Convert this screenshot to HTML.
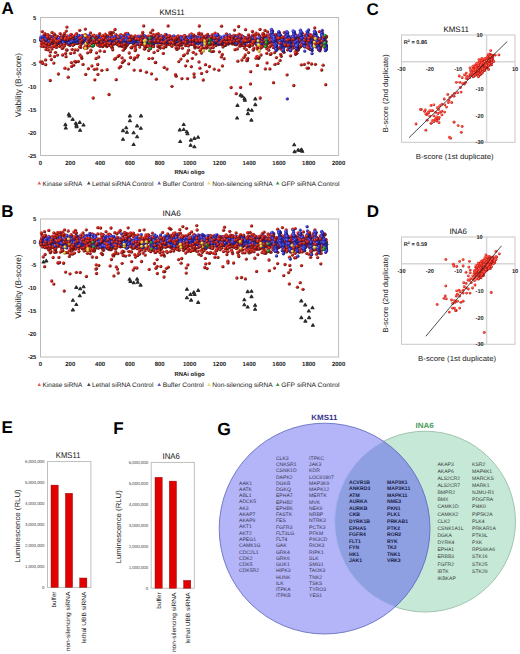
<!DOCTYPE html>
<html><head><meta charset="utf-8"><style>
html,body{margin:0;padding:0;background:#fff;width:520px;height:654px;overflow:hidden}
svg{display:block}
</style></head><body>
<svg width="520" height="654" viewBox="0 0 520 654" text-rendering="geometricPrecision" style="font-family:'Liberation Sans',sans-serif">
<defs>
<radialGradient id="gR" cx="0.4" cy="0.38" r="0.68"><stop offset="0" stop-color="#f45040"/><stop offset="0.4" stop-color="#d82018"/><stop offset="0.78" stop-color="#7c1010"/><stop offset="1" stop-color="#2a0606"/></radialGradient>
<radialGradient id="gB" cx="0.4" cy="0.38" r="0.68"><stop offset="0" stop-color="#6a6af0"/><stop offset="0.4" stop-color="#3030c0"/><stop offset="0.78" stop-color="#1a1a70"/><stop offset="1" stop-color="#0a0a28"/></radialGradient>
<radialGradient id="gY" cx="0.4" cy="0.38" r="0.68"><stop offset="0" stop-color="#ffffa0"/><stop offset="0.4" stop-color="#f2d830"/><stop offset="0.78" stop-color="#a89010"/><stop offset="1" stop-color="#504008"/></radialGradient>
<radialGradient id="gG" cx="0.4" cy="0.38" r="0.68"><stop offset="0" stop-color="#70d070"/><stop offset="0.4" stop-color="#22922e"/><stop offset="0.78" stop-color="#106020"/><stop offset="1" stop-color="#082808"/></radialGradient>
<radialGradient id="gr" cx="0.4" cy="0.38" r="0.68"><stop offset="0" stop-color="#ff8070"/><stop offset="0.4" stop-color="#ff3a28"/><stop offset="0.78" stop-color="#c41c1c"/><stop offset="1" stop-color="#601010"/></radialGradient>
<radialGradient id="sR" cx="0.32" cy="0.3" r="0.85" fx="0.3" fy="0.28"><stop offset="0" stop-color="#f05848"/><stop offset="0.35" stop-color="#cc2218"/><stop offset="0.75" stop-color="#6a1010"/><stop offset="1" stop-color="#240404"/></radialGradient>
<radialGradient id="sB" cx="0.32" cy="0.3" r="0.85" fx="0.3" fy="0.28"><stop offset="0" stop-color="#7a7aff"/><stop offset="0.35" stop-color="#3838d0"/><stop offset="0.75" stop-color="#1c1c78"/><stop offset="1" stop-color="#0a0a28"/></radialGradient>
<radialGradient id="sY" cx="0.32" cy="0.3" r="0.85" fx="0.3" fy="0.28"><stop offset="0" stop-color="#fff8a0"/><stop offset="0.35" stop-color="#f0cc30"/><stop offset="0.75" stop-color="#a08010"/><stop offset="1" stop-color="#403008"/></radialGradient>
<radialGradient id="sG" cx="0.32" cy="0.3" r="0.85" fx="0.3" fy="0.28"><stop offset="0" stop-color="#70d070"/><stop offset="0.35" stop-color="#24962e"/><stop offset="0.75" stop-color="#0e5a1c"/><stop offset="1" stop-color="#062808"/></radialGradient>
<circle id="R" r="1.65" fill="url(#sR)"/>
<circle id="B" r="1.65" fill="url(#sB)"/>
<circle id="Y" r="1.65" fill="url(#sY)"/>
<circle id="G" r="1.65" fill="url(#sG)"/>
<path id="T" d="M0 -1.4L1.5 1.1L-1.5 1.1Z" fill="#1c1c1c" stroke="#2c2c2c" stroke-width="1.1" stroke-linejoin="round"/>
<circle id="r" r="1.4" fill="url(#gr)"/>
</defs>
<text x="1.5" y="14" font-size="17" text-anchor="start" font-weight="bold" fill="#000">A</text>
<text x="1.2" y="217" font-size="17" text-anchor="start" font-weight="bold" fill="#000">B</text>
<text x="366.5" y="14.6" font-size="17" text-anchor="start" font-weight="bold" fill="#000">C</text>
<text x="366.8" y="217" font-size="17" text-anchor="start" font-weight="bold" fill="#000">D</text>
<text x="1.5" y="432.7" font-size="17" text-anchor="start" font-weight="bold" fill="#000">E</text>
<text x="113.2" y="434" font-size="17" text-anchor="start" font-weight="bold" fill="#000">F</text>
<text x="217.3" y="434.8" font-size="17.6" text-anchor="start" font-weight="bold" fill="#000">G</text>
<rect x="40.5" y="17.5" width="298.1" height="138" fill="#fff" stroke="#bcbcbc" stroke-width="1"/>
<text x="172" y="14.6" font-size="7.9" text-anchor="middle" font-weight="normal" fill="#111" textLength="25.1" lengthAdjust="spacingAndGlyphs">KMS11</text>
<text x="36.4" y="19.7" font-size="5.9" text-anchor="end" font-weight="bold" fill="#222">5</text>
<text x="36.4" y="42.7" font-size="5.9" text-anchor="end" font-weight="bold" fill="#222">0</text>
<text x="36.4" y="65.7" font-size="5.9" text-anchor="end" font-weight="bold" fill="#222">-5</text>
<text x="36.4" y="88.7" font-size="5.9" text-anchor="end" font-weight="bold" fill="#222">-10</text>
<text x="36.4" y="111.7" font-size="5.9" text-anchor="end" font-weight="bold" fill="#222">-15</text>
<text x="36.4" y="134.7" font-size="5.9" text-anchor="end" font-weight="bold" fill="#222">-20</text>
<text x="36.4" y="157.7" font-size="5.9" text-anchor="end" font-weight="bold" fill="#222">-25</text>
<text x="40.5" y="164.9" font-size="6.0" text-anchor="middle" font-weight="bold" fill="#222">0</text>
<text x="70.3" y="164.9" font-size="6.0" text-anchor="middle" font-weight="bold" fill="#222">200</text>
<text x="100.1" y="164.9" font-size="6.0" text-anchor="middle" font-weight="bold" fill="#222">400</text>
<text x="129.9" y="164.9" font-size="6.0" text-anchor="middle" font-weight="bold" fill="#222">600</text>
<text x="159.7" y="164.9" font-size="6.0" text-anchor="middle" font-weight="bold" fill="#222">800</text>
<text x="189.6" y="164.9" font-size="6.0" text-anchor="middle" font-weight="bold" fill="#222">1000</text>
<text x="219.4" y="164.9" font-size="6.0" text-anchor="middle" font-weight="bold" fill="#222">1200</text>
<text x="249.2" y="164.9" font-size="6.0" text-anchor="middle" font-weight="bold" fill="#222">1400</text>
<text x="279" y="164.9" font-size="6.0" text-anchor="middle" font-weight="bold" fill="#222">1600</text>
<text x="308.8" y="164.9" font-size="6.0" text-anchor="middle" font-weight="bold" fill="#222">1800</text>
<text x="338.6" y="164.9" font-size="6.0" text-anchor="middle" font-weight="bold" fill="#222">2000</text>
<text x="189.6" y="174" font-size="5.9" text-anchor="middle" font-weight="bold" fill="#222" textLength="30" lengthAdjust="spacingAndGlyphs">RNAi oligo</text>
<text transform="translate(20.6,85.1) rotate(-90)" font-size="8.2" text-anchor="middle" font-weight="normal" fill="#222" textLength="64.2" lengthAdjust="spacingAndGlyphs">Viability (B-score)</text>
<path d="M39.2 181.3l1.8 3.1h-3.6z" fill="#e86050"/>
<text x="42.6" y="185.9" font-size="6.4" text-anchor="start" font-weight="normal" fill="#222" textLength="39.7" lengthAdjust="spacingAndGlyphs">Kinase siRNA</text>
<path d="M88.8 181.3l1.8 3.1h-3.6z" fill="#484848"/>
<text x="92" y="185.9" font-size="6.4" text-anchor="start" font-weight="normal" fill="#222" textLength="61.4" lengthAdjust="spacingAndGlyphs">Lethal siRNA Control</text>
<path d="M159.2 181.3l1.8 3.1h-3.6z" fill="#5a5ab8"/>
<text x="162.7" y="185.9" font-size="6.4" text-anchor="start" font-weight="normal" fill="#222" textLength="41.1" lengthAdjust="spacingAndGlyphs">Buffer Control</text>
<path d="M208.8 181.3l1.8 3.1h-3.6z" fill="#f0e070"/>
<text x="212.3" y="185.9" font-size="6.4" text-anchor="start" font-weight="normal" fill="#222" textLength="60.3" lengthAdjust="spacingAndGlyphs">Non-silencing siRNA</text>
<path d="M277.7 181.3l1.8 3.1h-3.6z" fill="#3a9a4a"/>
<text x="281.2" y="185.9" font-size="6.4" text-anchor="start" font-weight="normal" fill="#222" textLength="58.3" lengthAdjust="spacingAndGlyphs">GFP siRNA Control</text>
<use href="#R" x="74.2" y="41.7"/>
<use href="#R" x="218.5" y="40.7"/>
<use href="#R" x="187.4" y="60.9"/>
<use href="#R" x="304.8" y="44.1"/>
<use href="#R" x="238.4" y="42"/>
<use href="#R" x="180.9" y="45.1"/>
<use href="#R" x="84" y="40.8"/>
<use href="#R" x="122.6" y="39"/>
<use href="#R" x="313.8" y="43.8"/>
<use href="#R" x="315.3" y="43"/>
<use href="#R" x="212.1" y="34.7"/>
<use href="#R" x="185.6" y="65.8"/>
<use href="#R" x="175.6" y="41.3"/>
<use href="#R" x="167.5" y="43.2"/>
<use href="#R" x="204.3" y="39.2"/>
<use href="#R" x="209.2" y="40.6"/>
<use href="#R" x="131.1" y="41.2"/>
<use href="#R" x="120.8" y="44.5"/>
<use href="#R" x="111.9" y="44"/>
<use href="#R" x="59.6" y="46.4"/>
<use href="#R" x="47" y="48.9"/>
<use href="#R" x="153.1" y="34.3"/>
<use href="#R" x="222.8" y="41.2"/>
<use href="#R" x="120.1" y="41.3"/>
<use href="#R" x="252.2" y="39.8"/>
<use href="#R" x="159.1" y="38.5"/>
<use href="#R" x="68.1" y="44.3"/>
<use href="#R" x="128.4" y="39.3"/>
<use href="#R" x="295.1" y="47.8"/>
<use href="#R" x="148.4" y="44.4"/>
<use href="#R" x="235.2" y="42.2"/>
<use href="#R" x="303.6" y="41.2"/>
<use href="#R" x="129.7" y="38.7"/>
<use href="#R" x="215" y="33.2"/>
<use href="#R" x="271.3" y="39.9"/>
<use href="#R" x="308.9" y="42.4"/>
<use href="#R" x="233.3" y="36.7"/>
<use href="#R" x="266.9" y="48.7"/>
<use href="#R" x="49.6" y="41"/>
<use href="#R" x="132.8" y="37.3"/>
<use href="#R" x="311.5" y="64"/>
<use href="#R" x="64.9" y="68.2"/>
<use href="#R" x="212.5" y="38.2"/>
<use href="#R" x="263" y="43"/>
<use href="#R" x="152.2" y="39.4"/>
<use href="#R" x="258.9" y="58"/>
<use href="#R" x="278" y="37.9"/>
<use href="#R" x="216.2" y="41.6"/>
<use href="#R" x="80" y="55"/>
<use href="#R" x="56.6" y="44.9"/>
<use href="#R" x="142.3" y="34.9"/>
<use href="#R" x="290.6" y="55.8"/>
<use href="#R" x="172" y="37.6"/>
<use href="#R" x="112.5" y="42.1"/>
<use href="#R" x="275.5" y="41"/>
<use href="#R" x="166.8" y="41.4"/>
<use href="#R" x="78.9" y="41"/>
<use href="#R" x="104.4" y="51.4"/>
<use href="#R" x="117.3" y="36.9"/>
<use href="#R" x="285.1" y="43.5"/>
<use href="#R" x="175.7" y="38.1"/>
<use href="#R" x="108.3" y="40.9"/>
<use href="#R" x="145.4" y="37.1"/>
<use href="#R" x="47.6" y="34.6"/>
<use href="#R" x="242" y="39.2"/>
<use href="#R" x="235.9" y="37.9"/>
<use href="#R" x="85.2" y="43.4"/>
<use href="#R" x="233.6" y="35.3"/>
<use href="#R" x="233.2" y="36.9"/>
<use href="#R" x="88.4" y="37.8"/>
<use href="#R" x="53" y="44"/>
<use href="#R" x="91" y="39.2"/>
<use href="#R" x="83.1" y="36.1"/>
<use href="#R" x="180.2" y="39.7"/>
<use href="#R" x="124.4" y="41.6"/>
<use href="#R" x="182" y="44.5"/>
<use href="#R" x="72.3" y="36.5"/>
<use href="#R" x="93.9" y="39.4"/>
<use href="#R" x="132.6" y="38.5"/>
<use href="#R" x="127" y="45.2"/>
<use href="#R" x="200" y="50.6"/>
<use href="#R" x="316.9" y="39.8"/>
<use href="#R" x="267.6" y="31.8"/>
<use href="#R" x="235" y="49.7"/>
<use href="#R" x="277.3" y="42.9"/>
<use href="#R" x="70.1" y="37.7"/>
<use href="#R" x="51.3" y="59.5"/>
<use href="#R" x="265.9" y="39.1"/>
<use href="#R" x="281.5" y="41.3"/>
<use href="#R" x="101.4" y="40.6"/>
<use href="#R" x="134.1" y="40.3"/>
<use href="#R" x="297.3" y="42.2"/>
<use href="#R" x="161.2" y="44.9"/>
<use href="#R" x="51.1" y="43.7"/>
<use href="#R" x="79.7" y="30.3"/>
<use href="#R" x="176.1" y="76.2"/>
<use href="#R" x="225" y="42.5"/>
<use href="#R" x="291" y="40.3"/>
<use href="#R" x="215.9" y="45.6"/>
<use href="#R" x="255.6" y="42.2"/>
<use href="#R" x="292" y="37.8"/>
<use href="#R" x="293.1" y="42.7"/>
<use href="#R" x="169.1" y="43"/>
<use href="#R" x="299.4" y="46.5"/>
<use href="#R" x="179.2" y="41.3"/>
<use href="#R" x="317.6" y="40.4"/>
<use href="#R" x="68" y="36.7"/>
<use href="#R" x="84.9" y="46.9"/>
<use href="#R" x="201.3" y="39.4"/>
<use href="#R" x="184.3" y="35.3"/>
<use href="#R" x="213.1" y="38.5"/>
<use href="#R" x="58.9" y="38.2"/>
<use href="#R" x="86.4" y="39.9"/>
<use href="#R" x="45.6" y="59.9"/>
<use href="#R" x="112.9" y="43"/>
<use href="#R" x="255.6" y="41.1"/>
<use href="#R" x="87.9" y="39.1"/>
<use href="#R" x="205.9" y="35.9"/>
<use href="#R" x="46.4" y="44.4"/>
<use href="#R" x="154.8" y="36.6"/>
<use href="#R" x="46" y="49.4"/>
<use href="#R" x="135.9" y="39.4"/>
<use href="#R" x="305.4" y="39.5"/>
<use href="#R" x="179.3" y="45"/>
<use href="#R" x="236.3" y="42.1"/>
<use href="#R" x="124.8" y="48.6"/>
<use href="#R" x="224.3" y="40.2"/>
<use href="#R" x="283.3" y="42.4"/>
<use href="#R" x="173.7" y="40.2"/>
<use href="#R" x="163" y="36.6"/>
<use href="#R" x="116.2" y="39.9"/>
<use href="#R" x="205.8" y="43.1"/>
<use href="#R" x="212.3" y="44.4"/>
<use href="#R" x="318.3" y="38.6"/>
<use href="#R" x="198" y="47.2"/>
<use href="#R" x="287.5" y="35.6"/>
<use href="#R" x="259.3" y="44.9"/>
<use href="#R" x="324.7" y="42"/>
<use href="#R" x="190" y="37.4"/>
<use href="#R" x="189" y="44.1"/>
<use href="#R" x="174.8" y="44.5"/>
<use href="#R" x="199.9" y="68.2"/>
<use href="#R" x="91.1" y="38.7"/>
<use href="#R" x="109" y="94.5"/>
<use href="#R" x="111.5" y="34.8"/>
<use href="#R" x="85.9" y="41.8"/>
<use href="#R" x="171" y="40.4"/>
<use href="#R" x="275" y="37.6"/>
<use href="#R" x="53.5" y="46.4"/>
<use href="#R" x="206.2" y="48"/>
<use href="#R" x="271.3" y="43.8"/>
<use href="#R" x="217.4" y="43.5"/>
<use href="#R" x="160.5" y="40.2"/>
<use href="#R" x="318.8" y="39.3"/>
<use href="#R" x="258" y="40.1"/>
<use href="#R" x="236.6" y="38.2"/>
<use href="#R" x="96.4" y="42.1"/>
<use href="#R" x="53.1" y="39.3"/>
<use href="#R" x="285.5" y="36.8"/>
<use href="#R" x="295.6" y="54.3"/>
<use href="#R" x="174" y="40.4"/>
<use href="#R" x="112.3" y="37.8"/>
<use href="#R" x="128.9" y="43.2"/>
<use href="#R" x="290.9" y="36.8"/>
<use href="#R" x="321.1" y="38.9"/>
<use href="#R" x="289.5" y="45"/>
<use href="#R" x="133.5" y="41.1"/>
<use href="#R" x="185.1" y="37.9"/>
<use href="#R" x="317.3" y="43.3"/>
<use href="#R" x="245.5" y="29.7"/>
<use href="#R" x="115.9" y="34.6"/>
<use href="#R" x="62.5" y="44.2"/>
<use href="#R" x="126.4" y="39.9"/>
<use href="#R" x="232.6" y="43.9"/>
<use href="#R" x="289.8" y="38.6"/>
<use href="#R" x="48.3" y="49.9"/>
<use href="#R" x="270.7" y="38.2"/>
<use href="#R" x="44.7" y="42.1"/>
<use href="#R" x="84.2" y="41.9"/>
<use href="#R" x="272.3" y="41.1"/>
<use href="#R" x="90.4" y="40.1"/>
<use href="#R" x="128.3" y="41"/>
<use href="#R" x="197.2" y="40.7"/>
<use href="#R" x="85" y="38.7"/>
<use href="#R" x="78" y="43.3"/>
<use href="#R" x="92.7" y="44.5"/>
<use href="#R" x="105.7" y="36.6"/>
<use href="#R" x="141.1" y="43.3"/>
<use href="#R" x="111.2" y="44.1"/>
<use href="#R" x="160.8" y="37.3"/>
<use href="#R" x="57.5" y="36.5"/>
<use href="#R" x="217.6" y="34.2"/>
<use href="#R" x="314" y="42.4"/>
<use href="#R" x="239.6" y="46.2"/>
<use href="#R" x="62.6" y="55"/>
<use href="#R" x="139.8" y="44.9"/>
<use href="#R" x="227.2" y="42.9"/>
<use href="#R" x="261.4" y="40.3"/>
<use href="#R" x="311.5" y="43.4"/>
<use href="#R" x="322.5" y="41.2"/>
<use href="#R" x="284.2" y="40.1"/>
<use href="#R" x="110.8" y="39.5"/>
<use href="#R" x="57.5" y="55.1"/>
<use href="#R" x="321.4" y="40.4"/>
<use href="#R" x="232.1" y="38.9"/>
<use href="#R" x="296.3" y="50.2"/>
<use href="#R" x="314.3" y="45.5"/>
<use href="#R" x="52" y="32.4"/>
<use href="#R" x="301.5" y="36.1"/>
<use href="#R" x="196" y="41.1"/>
<use href="#R" x="142.9" y="39.7"/>
<use href="#R" x="62" y="37"/>
<use href="#R" x="139.8" y="44.6"/>
<use href="#R" x="273" y="38.1"/>
<use href="#R" x="240.3" y="42.9"/>
<use href="#R" x="76.5" y="33.7"/>
<use href="#R" x="231.9" y="37.9"/>
<use href="#R" x="206.9" y="44"/>
<use href="#R" x="41.5" y="43.5"/>
<use href="#R" x="92.4" y="42.2"/>
<use href="#R" x="325.7" y="84.7"/>
<use href="#R" x="275.7" y="45.6"/>
<use href="#R" x="68.2" y="69.1"/>
<use href="#R" x="310.6" y="39.6"/>
<use href="#R" x="110.1" y="34.1"/>
<use href="#R" x="295.7" y="42.4"/>
<use href="#R" x="301.7" y="40.6"/>
<use href="#R" x="176.2" y="40.3"/>
<use href="#R" x="210.6" y="43.1"/>
<use href="#R" x="194.2" y="77"/>
<use href="#R" x="99.2" y="43.4"/>
<use href="#R" x="280.8" y="49.1"/>
<use href="#R" x="307.2" y="43.3"/>
<use href="#R" x="322.1" y="42"/>
<use href="#R" x="58.1" y="42.6"/>
<use href="#R" x="130.3" y="39.6"/>
<use href="#R" x="126.9" y="41.4"/>
<use href="#R" x="96.8" y="37.9"/>
<use href="#R" x="75.9" y="39.8"/>
<use href="#R" x="244.5" y="37.6"/>
<use href="#R" x="247.6" y="38.3"/>
<use href="#R" x="217.4" y="41.6"/>
<use href="#R" x="248.6" y="41.4"/>
<use href="#R" x="134.9" y="40.5"/>
<use href="#R" x="245.7" y="38.5"/>
<use href="#R" x="239" y="41.5"/>
<use href="#R" x="221.3" y="56.9"/>
<use href="#R" x="73.3" y="44.2"/>
<use href="#R" x="314.2" y="41.7"/>
<use href="#R" x="298.3" y="41"/>
<use href="#R" x="209.3" y="45.1"/>
<use href="#R" x="147.5" y="43.5"/>
<use href="#R" x="50.2" y="80.5"/>
<use href="#R" x="74" y="42.4"/>
<use href="#R" x="60.7" y="42.7"/>
<use href="#R" x="54.5" y="56.5"/>
<use href="#R" x="218.5" y="44.5"/>
<use href="#R" x="241.8" y="36.5"/>
<use href="#R" x="136.8" y="41"/>
<use href="#R" x="303.8" y="37.1"/>
<use href="#R" x="285.5" y="37.3"/>
<use href="#R" x="287.7" y="36.8"/>
<use href="#R" x="67.4" y="39"/>
<use href="#R" x="204.1" y="36.3"/>
<use href="#R" x="292" y="37.8"/>
<use href="#R" x="292.6" y="39.5"/>
<use href="#R" x="325.2" y="48.2"/>
<use href="#R" x="133.3" y="43.9"/>
<use href="#R" x="270.9" y="45.5"/>
<use href="#R" x="81.8" y="39.6"/>
<use href="#R" x="131.4" y="40.5"/>
<use href="#R" x="288.1" y="44.1"/>
<use href="#R" x="320.8" y="47.4"/>
<use href="#R" x="278" y="63.4"/>
<use href="#R" x="48" y="38.1"/>
<use href="#R" x="234.1" y="41.1"/>
<use href="#R" x="99.4" y="38.4"/>
<use href="#R" x="213.4" y="42.5"/>
<use href="#R" x="256.2" y="40.8"/>
<use href="#R" x="141.7" y="39.3"/>
<use href="#R" x="213.1" y="42.9"/>
<use href="#R" x="59.3" y="43.6"/>
<use href="#R" x="256.1" y="33.2"/>
<use href="#R" x="127.5" y="38.2"/>
<use href="#R" x="122.9" y="40.6"/>
<use href="#R" x="195.3" y="36.3"/>
<use href="#R" x="321.1" y="41.6"/>
<use href="#R" x="69.8" y="45.4"/>
<use href="#R" x="107.6" y="36.2"/>
<use href="#R" x="172.6" y="43.3"/>
<use href="#R" x="95.5" y="39.4"/>
<use href="#R" x="154.4" y="40.9"/>
<use href="#R" x="301.6" y="42.2"/>
<use href="#R" x="203.2" y="80"/>
<use href="#R" x="290.4" y="41.7"/>
<use href="#R" x="263.2" y="33.7"/>
<use href="#R" x="290.4" y="37.8"/>
<use href="#R" x="236.3" y="44.7"/>
<use href="#R" x="113.7" y="43.3"/>
<use href="#R" x="167.4" y="44.2"/>
<use href="#R" x="301.8" y="43.4"/>
<use href="#R" x="191.6" y="40.2"/>
<use href="#R" x="167" y="69.1"/>
<use href="#R" x="201.5" y="73.4"/>
<use href="#R" x="313" y="37"/>
<use href="#R" x="158.3" y="42.3"/>
<use href="#R" x="246.1" y="41"/>
<use href="#R" x="274" y="42.8"/>
<use href="#R" x="267.6" y="38.7"/>
<use href="#R" x="187.1" y="44.1"/>
<use href="#R" x="119.2" y="67.8"/>
<use href="#R" x="54.9" y="34.8"/>
<use href="#R" x="121.2" y="43.8"/>
<use href="#R" x="45.2" y="35.5"/>
<use href="#R" x="169.4" y="35.6"/>
<use href="#R" x="46.1" y="37.8"/>
<use href="#R" x="110.2" y="39.9"/>
<use href="#R" x="76.7" y="41.2"/>
<use href="#R" x="152" y="43.2"/>
<use href="#R" x="200.5" y="39"/>
<use href="#R" x="142.8" y="38.4"/>
<use href="#R" x="153.3" y="45.5"/>
<use href="#R" x="226.2" y="37.3"/>
<use href="#R" x="94.3" y="69.3"/>
<use href="#R" x="174" y="38.9"/>
<use href="#R" x="274" y="36"/>
<use href="#R" x="291.6" y="42.1"/>
<use href="#R" x="144.9" y="48.8"/>
<use href="#R" x="143.3" y="35.2"/>
<use href="#R" x="199.2" y="33.2"/>
<use href="#R" x="160.8" y="37.4"/>
<use href="#R" x="210.6" y="40.8"/>
<use href="#R" x="312.4" y="39.3"/>
<use href="#R" x="156.3" y="79.2"/>
<use href="#R" x="234.8" y="38.4"/>
<use href="#R" x="134.1" y="70.1"/>
<use href="#R" x="80.8" y="44.9"/>
<use href="#R" x="269.9" y="68.9"/>
<use href="#R" x="247.4" y="41.8"/>
<use href="#R" x="99.1" y="35.8"/>
<use href="#R" x="284.1" y="43.1"/>
<use href="#R" x="98.6" y="36.9"/>
<use href="#R" x="97.8" y="40.6"/>
<use href="#R" x="151.6" y="41.1"/>
<use href="#R" x="133.8" y="45.8"/>
<use href="#R" x="274.4" y="42.7"/>
<use href="#R" x="47.5" y="44.6"/>
<use href="#R" x="191.2" y="43.3"/>
<use href="#R" x="109.1" y="38.2"/>
<use href="#R" x="55.4" y="52.3"/>
<use href="#R" x="227.7" y="42.9"/>
<use href="#R" x="317.9" y="41.7"/>
<use href="#R" x="183.4" y="55.7"/>
<use href="#R" x="298" y="50.3"/>
<use href="#R" x="44.8" y="33.6"/>
<use href="#R" x="275.8" y="44.2"/>
<use href="#R" x="170.6" y="40.3"/>
<use href="#R" x="313.4" y="45.3"/>
<use href="#R" x="143.8" y="42.5"/>
<use href="#R" x="268.7" y="50.2"/>
<use href="#R" x="187.4" y="53"/>
<use href="#R" x="189.9" y="38.6"/>
<use href="#R" x="46.6" y="44.3"/>
<use href="#R" x="311" y="41.1"/>
<use href="#R" x="309.7" y="46.1"/>
<use href="#R" x="88.3" y="39"/>
<use href="#R" x="181.9" y="78.6"/>
<use href="#R" x="227.1" y="36.3"/>
<use href="#R" x="90.9" y="50.2"/>
<use href="#R" x="66.2" y="35.8"/>
<use href="#R" x="66" y="56.7"/>
<use href="#R" x="50" y="35.9"/>
<use href="#R" x="227.6" y="35.8"/>
<use href="#R" x="251" y="40.1"/>
<use href="#R" x="63.3" y="42.4"/>
<use href="#R" x="240.9" y="38"/>
<use href="#R" x="108.9" y="41.2"/>
<use href="#R" x="159" y="39.5"/>
<use href="#R" x="283.5" y="36.8"/>
<use href="#R" x="310.2" y="39.6"/>
<use href="#R" x="301.3" y="39.5"/>
<use href="#R" x="95.8" y="42"/>
<use href="#R" x="250.4" y="39.6"/>
<use href="#R" x="176.6" y="48.5"/>
<use href="#R" x="215.9" y="43.8"/>
<use href="#R" x="203.2" y="38.5"/>
<use href="#R" x="223.4" y="42.3"/>
<use href="#R" x="82.2" y="35.5"/>
<use href="#R" x="153.1" y="36.6"/>
<use href="#R" x="194" y="74"/>
<use href="#R" x="41.2" y="46.1"/>
<use href="#R" x="256.9" y="56.4"/>
<use href="#R" x="112.2" y="47.8"/>
<use href="#R" x="48.7" y="37.9"/>
<use href="#R" x="139.3" y="41.8"/>
<use href="#R" x="171.1" y="40.6"/>
<use href="#R" x="249.9" y="45.2"/>
<use href="#R" x="224.5" y="39"/>
<use href="#R" x="126.1" y="45.7"/>
<use href="#R" x="308.9" y="39.2"/>
<use href="#R" x="40.7" y="39.7"/>
<use href="#R" x="274.8" y="41"/>
<use href="#R" x="110.7" y="45.2"/>
<use href="#R" x="120" y="35.7"/>
<use href="#R" x="143.8" y="44"/>
<use href="#R" x="252.1" y="38.1"/>
<use href="#R" x="179.7" y="40"/>
<use href="#R" x="131" y="35.9"/>
<use href="#R" x="216.5" y="38.5"/>
<use href="#R" x="318.1" y="40"/>
<use href="#R" x="147.2" y="42.4"/>
<use href="#R" x="127.7" y="34.6"/>
<use href="#R" x="310.4" y="44"/>
<use href="#R" x="297.4" y="39.7"/>
<use href="#R" x="122.4" y="40.2"/>
<use href="#R" x="269.1" y="42.5"/>
<use href="#R" x="79.8" y="39.1"/>
<use href="#R" x="62.2" y="48.4"/>
<use href="#R" x="259.6" y="39"/>
<use href="#R" x="59.4" y="43.5"/>
<use href="#R" x="302.7" y="38.5"/>
<use href="#R" x="284.7" y="40.1"/>
<use href="#R" x="316.4" y="38.2"/>
<use href="#R" x="106.1" y="37.3"/>
<use href="#R" x="107.1" y="69.7"/>
<use href="#R" x="295.7" y="34.9"/>
<use href="#R" x="298.2" y="42.6"/>
<use href="#R" x="195" y="47.9"/>
<use href="#R" x="86.6" y="39.7"/>
<use href="#R" x="247.3" y="59.1"/>
<use href="#R" x="139.6" y="39.6"/>
<use href="#R" x="278.3" y="38"/>
<use href="#R" x="163.2" y="38.3"/>
<use href="#R" x="204.4" y="40.5"/>
<use href="#R" x="257.4" y="46.9"/>
<use href="#R" x="266.5" y="37.7"/>
<use href="#R" x="52.7" y="42.1"/>
<use href="#R" x="320.7" y="40"/>
<use href="#R" x="282.1" y="40.2"/>
<use href="#R" x="145.7" y="39.9"/>
<use href="#R" x="51.8" y="42.1"/>
<use href="#R" x="176.9" y="41.6"/>
<use href="#R" x="311.7" y="42.7"/>
<use href="#R" x="72.1" y="44.4"/>
<use href="#R" x="93" y="43.5"/>
<use href="#R" x="322.4" y="37.7"/>
<use href="#R" x="264.1" y="43.1"/>
<use href="#R" x="250.4" y="37.5"/>
<use href="#R" x="254.7" y="39.8"/>
<use href="#R" x="138" y="55.3"/>
<use href="#R" x="146.6" y="36.6"/>
<use href="#R" x="306.7" y="38.8"/>
<use href="#R" x="243.3" y="39.6"/>
<use href="#R" x="283.4" y="44.4"/>
<use href="#R" x="166.4" y="41.7"/>
<use href="#R" x="305.6" y="40.4"/>
<use href="#R" x="160.3" y="48.1"/>
<use href="#R" x="40.8" y="38.6"/>
<use href="#R" x="229.3" y="38.2"/>
<use href="#R" x="265.3" y="37.7"/>
<use href="#R" x="94" y="43.3"/>
<use href="#R" x="272.1" y="40.9"/>
<use href="#R" x="273" y="44.4"/>
<use href="#R" x="271.7" y="40.4"/>
<use href="#R" x="77.9" y="39.9"/>
<use href="#R" x="135" y="36"/>
<use href="#R" x="269.5" y="46.9"/>
<use href="#R" x="197.8" y="37.4"/>
<use href="#R" x="269.6" y="39.3"/>
<use href="#R" x="261.3" y="39"/>
<use href="#R" x="258.7" y="57.6"/>
<use href="#R" x="305.8" y="44.2"/>
<use href="#R" x="215.4" y="41.8"/>
<use href="#R" x="287.6" y="42.3"/>
<use href="#R" x="65.6" y="53.4"/>
<use href="#R" x="265.5" y="39.7"/>
<use href="#R" x="297.4" y="43"/>
<use href="#R" x="197" y="38.5"/>
<use href="#R" x="235.1" y="44.5"/>
<use href="#R" x="125.1" y="36.4"/>
<use href="#R" x="103.8" y="37.2"/>
<use href="#R" x="238.6" y="26.5"/>
<use href="#R" x="204.8" y="40.6"/>
<use href="#R" x="182.9" y="39.5"/>
<use href="#R" x="116.4" y="43.5"/>
<use href="#R" x="121.8" y="46.4"/>
<use href="#R" x="68.7" y="44"/>
<use href="#R" x="170.1" y="42.7"/>
<use href="#R" x="288.1" y="36.4"/>
<use href="#R" x="67.4" y="36.1"/>
<use href="#R" x="146.4" y="72.2"/>
<use href="#R" x="158.2" y="33.7"/>
<use href="#R" x="211.2" y="38.5"/>
<use href="#R" x="206.2" y="42.7"/>
<use href="#R" x="259.5" y="35.9"/>
<use href="#R" x="220.6" y="43.7"/>
<use href="#R" x="62.2" y="42.6"/>
<use href="#R" x="189.5" y="41.1"/>
<use href="#R" x="245.9" y="45.3"/>
<use href="#R" x="260.2" y="98"/>
<use href="#R" x="116" y="43.7"/>
<use href="#R" x="86" y="41.9"/>
<use href="#R" x="87.9" y="38.4"/>
<use href="#R" x="306.3" y="40.1"/>
<use href="#R" x="148.9" y="58.6"/>
<use href="#R" x="124.9" y="38.3"/>
<use href="#R" x="217.7" y="38.3"/>
<use href="#R" x="276.4" y="57.6"/>
<use href="#R" x="221.9" y="38.3"/>
<use href="#R" x="241" y="42.4"/>
<use href="#R" x="183" y="42"/>
<use href="#R" x="222" y="38.4"/>
<use href="#R" x="319.4" y="42.2"/>
<use href="#R" x="268" y="41.4"/>
<use href="#R" x="201.7" y="34"/>
<use href="#R" x="157.7" y="50.6"/>
<use href="#R" x="184.5" y="40.1"/>
<use href="#R" x="53.8" y="63.1"/>
<use href="#R" x="139.7" y="47.1"/>
<use href="#R" x="135.1" y="47.7"/>
<use href="#R" x="234" y="37.9"/>
<use href="#R" x="189" y="41.8"/>
<use href="#R" x="50" y="55.7"/>
<use href="#R" x="88.8" y="37.1"/>
<use href="#R" x="241.9" y="40.3"/>
<use href="#R" x="108.2" y="43"/>
<use href="#R" x="156" y="37"/>
<use href="#R" x="192.9" y="42.4"/>
<use href="#R" x="268.1" y="43"/>
<use href="#R" x="210.6" y="42.8"/>
<use href="#R" x="289.2" y="40.6"/>
<use href="#R" x="278.1" y="38.8"/>
<use href="#R" x="251.2" y="43.8"/>
<use href="#R" x="279.6" y="37.7"/>
<use href="#R" x="179.5" y="40"/>
<use href="#R" x="49" y="46.4"/>
<use href="#R" x="43.6" y="39.2"/>
<use href="#R" x="69.5" y="37.6"/>
<use href="#R" x="154.5" y="41.4"/>
<use href="#R" x="243.4" y="37"/>
<use href="#R" x="114.2" y="43.9"/>
<use href="#R" x="266.3" y="37.9"/>
<use href="#R" x="119.5" y="40.9"/>
<use href="#R" x="198.4" y="41.5"/>
<use href="#R" x="279.2" y="38.2"/>
<use href="#R" x="122.3" y="62.6"/>
<use href="#R" x="225" y="40.3"/>
<use href="#R" x="68.1" y="41.2"/>
<use href="#R" x="233.7" y="38.4"/>
<use href="#R" x="83.6" y="36.5"/>
<use href="#R" x="74.4" y="40.1"/>
<use href="#R" x="281" y="38.3"/>
<use href="#R" x="159.6" y="35.9"/>
<use href="#R" x="149" y="40.2"/>
<use href="#R" x="81.1" y="39.6"/>
<use href="#R" x="98.5" y="37.9"/>
<use href="#R" x="294.5" y="42.4"/>
<use href="#R" x="268.4" y="40.5"/>
<use href="#R" x="321.7" y="70"/>
<use href="#R" x="194.5" y="40.2"/>
<use href="#R" x="149.7" y="39"/>
<use href="#R" x="83.5" y="38.2"/>
<use href="#R" x="284" y="52.3"/>
<use href="#R" x="302.4" y="40.4"/>
<use href="#R" x="95.4" y="39.4"/>
<use href="#R" x="169" y="41.2"/>
<use href="#R" x="115" y="29.5"/>
<use href="#R" x="271.4" y="37.9"/>
<use href="#R" x="246.3" y="39.3"/>
<use href="#R" x="185.5" y="45.6"/>
<use href="#R" x="303" y="40.4"/>
<use href="#R" x="244.3" y="48.1"/>
<use href="#R" x="141.1" y="37.8"/>
<use href="#R" x="104.2" y="41.8"/>
<use href="#R" x="285.6" y="36.8"/>
<use href="#R" x="87.2" y="45.3"/>
<use href="#R" x="275" y="38.5"/>
<use href="#R" x="56.7" y="40.4"/>
<use href="#R" x="287.2" y="44.6"/>
<use href="#R" x="305.5" y="40.4"/>
<use href="#R" x="185.7" y="43.8"/>
<use href="#R" x="223.5" y="40.1"/>
<use href="#R" x="100.6" y="44.1"/>
<use href="#R" x="125.3" y="35.6"/>
<use href="#R" x="86.8" y="38.2"/>
<use href="#R" x="254.4" y="40.1"/>
<use href="#R" x="97.7" y="64.5"/>
<use href="#R" x="60.1" y="37.9"/>
<use href="#R" x="325.2" y="45.3"/>
<use href="#R" x="102.1" y="45.9"/>
<use href="#R" x="91.6" y="38.2"/>
<use href="#R" x="63.9" y="41.7"/>
<use href="#R" x="246.9" y="38.7"/>
<use href="#R" x="169.5" y="40.7"/>
<use href="#R" x="120.3" y="41.4"/>
<use href="#R" x="84.7" y="41.7"/>
<use href="#R" x="284.6" y="38.3"/>
<use href="#R" x="79.5" y="39.3"/>
<use href="#R" x="323.1" y="42"/>
<use href="#R" x="93.4" y="41.5"/>
<use href="#R" x="324.1" y="37"/>
<use href="#R" x="323.6" y="45.2"/>
<use href="#R" x="310.2" y="36.9"/>
<use href="#R" x="249.8" y="39.5"/>
<use href="#R" x="121.9" y="45.3"/>
<use href="#R" x="286.1" y="41.9"/>
<use href="#R" x="73.6" y="65.2"/>
<use href="#R" x="70.5" y="38.6"/>
<use href="#R" x="176.9" y="49.4"/>
<use href="#R" x="285.9" y="40.4"/>
<use href="#R" x="99.6" y="33.6"/>
<use href="#R" x="318.9" y="41"/>
<use href="#R" x="269.4" y="38.8"/>
<use href="#R" x="171.5" y="37.1"/>
<use href="#R" x="271.8" y="31.8"/>
<use href="#R" x="183.7" y="41"/>
<use href="#R" x="260.7" y="48.1"/>
<use href="#R" x="304" y="45.9"/>
<use href="#R" x="165.5" y="34.8"/>
<use href="#R" x="183.8" y="39.4"/>
<use href="#R" x="210.3" y="39.5"/>
<use href="#R" x="188.8" y="42.5"/>
<use href="#R" x="58.4" y="74"/>
<use href="#R" x="182.3" y="41.3"/>
<use href="#R" x="181.6" y="36.9"/>
<use href="#R" x="315" y="36.2"/>
<use href="#R" x="310.7" y="43.2"/>
<use href="#R" x="78.3" y="42.3"/>
<use href="#R" x="66.5" y="42.3"/>
<use href="#R" x="115.4" y="58.4"/>
<use href="#R" x="261" y="55"/>
<use href="#R" x="45" y="45.8"/>
<use href="#R" x="53.2" y="37.9"/>
<use href="#R" x="109.1" y="39.3"/>
<use href="#R" x="234.7" y="42.9"/>
<use href="#R" x="226.4" y="33.8"/>
<use href="#R" x="125.9" y="43.5"/>
<use href="#R" x="153.5" y="46.5"/>
<use href="#R" x="323.1" y="65.2"/>
<use href="#R" x="236.7" y="35.7"/>
<use href="#R" x="240" y="42.5"/>
<use href="#R" x="294.8" y="39.5"/>
<use href="#R" x="256" y="58.2"/>
<use href="#R" x="184.1" y="41.5"/>
<use href="#R" x="120.7" y="34.6"/>
<use href="#R" x="106.9" y="40.1"/>
<use href="#R" x="225.6" y="41.7"/>
<use href="#R" x="288.6" y="43.4"/>
<use href="#R" x="212.8" y="45.6"/>
<use href="#R" x="194.9" y="41.3"/>
<use href="#R" x="216" y="37.2"/>
<use href="#R" x="271.8" y="36.2"/>
<use href="#R" x="319.8" y="43.2"/>
<use href="#R" x="83.3" y="38.7"/>
<use href="#R" x="250.4" y="37.7"/>
<use href="#R" x="323.9" y="36.7"/>
<use href="#R" x="136.6" y="43.7"/>
<use href="#R" x="69.2" y="37.6"/>
<use href="#R" x="77.4" y="41.7"/>
<use href="#R" x="208.6" y="41.8"/>
<use href="#R" x="143.1" y="39.9"/>
<use href="#R" x="273.5" y="82.7"/>
<use href="#R" x="274.2" y="40.4"/>
<use href="#R" x="193.2" y="52.3"/>
<use href="#R" x="300" y="39.3"/>
<use href="#R" x="162.8" y="41.3"/>
<use href="#R" x="181" y="39.8"/>
<use href="#R" x="170.2" y="43.4"/>
<use href="#R" x="272.4" y="31.2"/>
<use href="#R" x="66.9" y="39.5"/>
<use href="#R" x="90.5" y="51.8"/>
<use href="#R" x="220.9" y="44.2"/>
<use href="#R" x="299.3" y="38.3"/>
<use href="#R" x="266" y="35.2"/>
<use href="#R" x="164.4" y="43.2"/>
<use href="#R" x="195.3" y="43.7"/>
<use href="#R" x="230.8" y="38.8"/>
<use href="#R" x="43.8" y="43"/>
<use href="#R" x="98.7" y="36.3"/>
<use href="#R" x="96.5" y="52.8"/>
<use href="#R" x="302.8" y="39.2"/>
<use href="#R" x="118.1" y="42.1"/>
<use href="#R" x="70.7" y="43.3"/>
<use href="#R" x="239.6" y="43.2"/>
<use href="#R" x="228.5" y="41.5"/>
<use href="#R" x="90.5" y="32.8"/>
<use href="#R" x="307.8" y="41.4"/>
<use href="#R" x="183.1" y="38.6"/>
<use href="#R" x="103.1" y="38.6"/>
<use href="#R" x="223" y="46.9"/>
<use href="#R" x="207.4" y="38.7"/>
<use href="#R" x="221.5" y="26.2"/>
<use href="#R" x="131.9" y="40.3"/>
<use href="#R" x="268.8" y="34.6"/>
<use href="#R" x="110.2" y="40.8"/>
<use href="#R" x="78.3" y="61.5"/>
<use href="#R" x="169.7" y="39.5"/>
<use href="#R" x="220.6" y="38"/>
<use href="#R" x="195.7" y="42.1"/>
<use href="#R" x="182.3" y="48.2"/>
<use href="#R" x="282.8" y="50.5"/>
<use href="#R" x="124" y="39.1"/>
<use href="#R" x="251.7" y="43.1"/>
<use href="#R" x="189.7" y="34.8"/>
<use href="#R" x="125.6" y="33.3"/>
<use href="#R" x="170.7" y="37.2"/>
<use href="#R" x="187.3" y="45"/>
<use href="#R" x="242.6" y="45.4"/>
<use href="#R" x="129.2" y="53"/>
<use href="#R" x="225.4" y="42.1"/>
<use href="#R" x="188.7" y="39.6"/>
<use href="#R" x="162.6" y="42.7"/>
<use href="#R" x="167" y="37.6"/>
<use href="#R" x="267.8" y="41.9"/>
<use href="#R" x="144.5" y="42.2"/>
<use href="#R" x="151.5" y="73.8"/>
<use href="#R" x="266" y="39.3"/>
<use href="#R" x="222" y="44.5"/>
<use href="#R" x="252" y="42.7"/>
<use href="#R" x="221.1" y="42.4"/>
<use href="#R" x="129.7" y="41.2"/>
<use href="#R" x="202.6" y="43.8"/>
<use href="#R" x="139.5" y="38.8"/>
<use href="#R" x="120.7" y="66.4"/>
<use href="#R" x="186.6" y="44.9"/>
<use href="#R" x="107.4" y="37.1"/>
<use href="#R" x="125.5" y="47.3"/>
<use href="#R" x="113.7" y="38.3"/>
<use href="#R" x="242" y="38.6"/>
<use href="#R" x="127.7" y="33.5"/>
<use href="#R" x="247.1" y="41.8"/>
<use href="#R" x="240.9" y="45.7"/>
<use href="#R" x="203.6" y="48.1"/>
<use href="#R" x="301.1" y="45.8"/>
<use href="#R" x="106.7" y="46.6"/>
<use href="#R" x="256.8" y="42.9"/>
<use href="#R" x="152.6" y="37.2"/>
<use href="#R" x="95.3" y="38.2"/>
<use href="#R" x="100" y="50.9"/>
<use href="#R" x="263.7" y="45.8"/>
<use href="#R" x="187" y="42.9"/>
<use href="#R" x="92.2" y="41.4"/>
<use href="#R" x="145.8" y="39.8"/>
<use href="#R" x="138.7" y="38.6"/>
<use href="#R" x="75.2" y="49.8"/>
<use href="#R" x="187.7" y="36.8"/>
<use href="#R" x="228.3" y="44"/>
<use href="#R" x="218.8" y="70.2"/>
<use href="#R" x="197" y="37.1"/>
<use href="#R" x="257.4" y="49"/>
<use href="#R" x="257.4" y="65.4"/>
<use href="#R" x="262" y="44.8"/>
<use href="#R" x="322.2" y="45.1"/>
<use href="#R" x="317.6" y="45"/>
<use href="#R" x="262.7" y="40.4"/>
<use href="#R" x="169.7" y="44.7"/>
<use href="#R" x="214.5" y="43"/>
<use href="#R" x="281.3" y="56.3"/>
<use href="#R" x="159.2" y="47.1"/>
<use href="#R" x="194.2" y="41.5"/>
<use href="#R" x="212.2" y="39.2"/>
<use href="#R" x="216.8" y="40.2"/>
<use href="#R" x="306.5" y="41.1"/>
<use href="#R" x="232.4" y="38"/>
<use href="#R" x="253" y="40.5"/>
<use href="#R" x="64.9" y="44.1"/>
<use href="#R" x="146.4" y="38"/>
<use href="#R" x="63.9" y="42.1"/>
<use href="#R" x="60.3" y="43.1"/>
<use href="#R" x="157.2" y="37.2"/>
<use href="#R" x="66.3" y="31.1"/>
<use href="#R" x="175.5" y="74.6"/>
<use href="#R" x="65.3" y="40.8"/>
<use href="#R" x="324.6" y="40.6"/>
<use href="#R" x="159.7" y="42.4"/>
<use href="#R" x="167.6" y="43.8"/>
<use href="#R" x="213.2" y="47.6"/>
<use href="#R" x="43.5" y="36.7"/>
<use href="#R" x="178.2" y="39.7"/>
<use href="#R" x="277.4" y="34.9"/>
<use href="#R" x="91.1" y="37.4"/>
<use href="#R" x="201" y="42.6"/>
<use href="#R" x="249.1" y="41.1"/>
<use href="#R" x="225.6" y="45.3"/>
<use href="#R" x="83.8" y="41.3"/>
<use href="#R" x="321.6" y="36.9"/>
<use href="#R" x="131.8" y="39.8"/>
<use href="#R" x="165.3" y="37.7"/>
<use href="#R" x="316.1" y="37.1"/>
<use href="#R" x="199.3" y="26"/>
<use href="#R" x="168.1" y="25.9"/>
<use href="#R" x="105.2" y="34.2"/>
<use href="#R" x="231.1" y="87.5"/>
<use href="#R" x="204.1" y="43.6"/>
<use href="#R" x="191.7" y="44.1"/>
<use href="#R" x="242.5" y="41.9"/>
<use href="#R" x="121.7" y="35.8"/>
<use href="#R" x="178" y="35.9"/>
<use href="#R" x="89.9" y="42.3"/>
<use href="#R" x="194.7" y="46.6"/>
<use href="#R" x="96" y="58.5"/>
<use href="#R" x="293.7" y="37"/>
<use href="#R" x="202.2" y="37.2"/>
<use href="#R" x="61.9" y="40.7"/>
<use href="#R" x="241" y="37.1"/>
<use href="#R" x="87.3" y="44.7"/>
<use href="#R" x="284.7" y="44.3"/>
<use href="#R" x="307.8" y="38.6"/>
<use href="#R" x="308.5" y="68.1"/>
<use href="#R" x="144.2" y="48.9"/>
<use href="#R" x="75" y="37.5"/>
<use href="#R" x="318.4" y="49.6"/>
<use href="#R" x="260" y="29.4"/>
<use href="#R" x="102.8" y="43.1"/>
<use href="#R" x="263.1" y="34"/>
<use href="#R" x="157.8" y="38.8"/>
<use href="#R" x="274.9" y="64.4"/>
<use href="#R" x="147.6" y="41.8"/>
<use href="#R" x="134.8" y="37.5"/>
<use href="#R" x="197" y="40"/>
<use href="#R" x="300.4" y="40.1"/>
<use href="#R" x="258.6" y="41.7"/>
<use href="#R" x="280.1" y="60.4"/>
<use href="#R" x="309.4" y="45.8"/>
<use href="#R" x="115.2" y="42.2"/>
<use href="#R" x="96" y="36.5"/>
<use href="#R" x="168.2" y="37.3"/>
<use href="#R" x="178" y="43.6"/>
<use href="#R" x="76.9" y="39.3"/>
<use href="#R" x="182.9" y="41.2"/>
<use href="#R" x="276.9" y="37.9"/>
<use href="#R" x="162.2" y="38.9"/>
<use href="#R" x="301" y="39.7"/>
<use href="#R" x="258.3" y="41.6"/>
<use href="#R" x="111.2" y="45.9"/>
<use href="#R" x="323.7" y="37.7"/>
<use href="#R" x="75.3" y="34.8"/>
<use href="#R" x="316.3" y="47.1"/>
<use href="#R" x="134" y="59.6"/>
<use href="#R" x="213.5" y="37"/>
<use href="#R" x="300.4" y="40"/>
<use href="#R" x="56.1" y="44.9"/>
<use href="#R" x="131.2" y="40.3"/>
<use href="#R" x="297.1" y="37.6"/>
<use href="#R" x="291.6" y="40.5"/>
<use href="#R" x="223.1" y="40.6"/>
<use href="#R" x="197.8" y="38.5"/>
<use href="#R" x="222.3" y="54.5"/>
<use href="#R" x="54" y="34"/>
<use href="#R" x="134.1" y="41.9"/>
<use href="#R" x="298.6" y="42"/>
<use href="#R" x="320.7" y="42"/>
<use href="#R" x="177.1" y="39.9"/>
<use href="#R" x="169.5" y="42.3"/>
<use href="#R" x="215.3" y="42.4"/>
<use href="#R" x="110.4" y="36.7"/>
<use href="#R" x="124.5" y="46.7"/>
<use href="#R" x="123.2" y="50.2"/>
<use href="#R" x="93.2" y="98"/>
<use href="#R" x="294.6" y="44.4"/>
<use href="#R" x="62.8" y="42.3"/>
<use href="#R" x="156.2" y="34.4"/>
<use href="#R" x="272.4" y="41.2"/>
<use href="#R" x="145.9" y="46.8"/>
<use href="#R" x="81.8" y="58.3"/>
<use href="#R" x="293.8" y="37.4"/>
<use href="#R" x="207.2" y="42"/>
<use href="#R" x="106.1" y="43.6"/>
<use href="#R" x="131.4" y="47.9"/>
<use href="#R" x="181.6" y="39.6"/>
<use href="#R" x="150.6" y="47.6"/>
<use href="#R" x="144" y="41.6"/>
<use href="#R" x="116.7" y="42.1"/>
<use href="#R" x="75.8" y="62"/>
<use href="#R" x="155.5" y="62.5"/>
<use href="#R" x="82.4" y="37.9"/>
<use href="#R" x="225.9" y="38.9"/>
<use href="#R" x="260.3" y="41.9"/>
<use href="#R" x="192" y="40.7"/>
<use href="#R" x="67.1" y="50.1"/>
<use href="#R" x="319.8" y="47"/>
<use href="#R" x="52.5" y="38.6"/>
<use href="#R" x="67.1" y="39"/>
<use href="#R" x="252.1" y="35.9"/>
<use href="#R" x="94.4" y="37.7"/>
<use href="#R" x="94.4" y="39.8"/>
<use href="#R" x="144.8" y="42.9"/>
<use href="#R" x="153.1" y="39.7"/>
<use href="#R" x="325.5" y="50"/>
<use href="#R" x="320.3" y="39.1"/>
<use href="#R" x="215.1" y="42.1"/>
<use href="#R" x="137" y="41.9"/>
<use href="#R" x="51.3" y="38.3"/>
<use href="#R" x="261.5" y="41"/>
<use href="#R" x="44.3" y="38.6"/>
<use href="#R" x="303.2" y="39.6"/>
<use href="#R" x="124.3" y="60.3"/>
<use href="#R" x="326" y="37.5"/>
<use href="#R" x="198.7" y="43.2"/>
<use href="#R" x="317.1" y="44.4"/>
<use href="#R" x="324.3" y="38.1"/>
<use href="#R" x="201.5" y="45.4"/>
<use href="#R" x="303.7" y="36.5"/>
<use href="#R" x="226.9" y="41.3"/>
<use href="#R" x="102.7" y="46.6"/>
<use href="#R" x="87" y="48"/>
<use href="#R" x="130.5" y="57.5"/>
<use href="#R" x="101.2" y="39.1"/>
<use href="#R" x="322.4" y="38.7"/>
<use href="#R" x="63.5" y="36.1"/>
<use href="#R" x="114" y="43"/>
<use href="#R" x="113.3" y="44.2"/>
<use href="#R" x="118.3" y="36.3"/>
<use href="#R" x="291" y="42.7"/>
<use href="#R" x="300.2" y="40.8"/>
<use href="#R" x="81.7" y="40.4"/>
<use href="#R" x="293.7" y="42.6"/>
<use href="#R" x="199.8" y="35.1"/>
<use href="#R" x="54" y="40.6"/>
<use href="#R" x="103.8" y="44.7"/>
<use href="#R" x="312.5" y="41.7"/>
<use href="#R" x="301.3" y="64.8"/>
<use href="#R" x="160.6" y="37.7"/>
<use href="#R" x="262.5" y="36.8"/>
<use href="#R" x="282.8" y="41.1"/>
<use href="#R" x="74.2" y="52.7"/>
<use href="#R" x="86" y="39.2"/>
<use href="#R" x="296.2" y="44.1"/>
<use href="#R" x="197.2" y="42.1"/>
<use href="#R" x="75.7" y="35.4"/>
<use href="#R" x="311.3" y="48.1"/>
<use href="#R" x="45.7" y="64.7"/>
<use href="#R" x="199.6" y="39.3"/>
<use href="#R" x="126.7" y="36.5"/>
<use href="#R" x="133.1" y="39.7"/>
<use href="#R" x="191.3" y="34"/>
<use href="#R" x="165.4" y="45"/>
<use href="#R" x="233.2" y="43.6"/>
<use href="#R" x="118" y="56.6"/>
<use href="#R" x="179.4" y="41"/>
<use href="#R" x="244" y="57.3"/>
<use href="#R" x="308.5" y="44.9"/>
<use href="#R" x="242.9" y="39"/>
<use href="#R" x="123.5" y="61.3"/>
<use href="#R" x="254.3" y="41.1"/>
<use href="#R" x="82.5" y="40.1"/>
<use href="#R" x="84.3" y="47.8"/>
<use href="#R" x="315.3" y="44"/>
<use href="#R" x="146.6" y="46.4"/>
<use href="#R" x="319.5" y="43.2"/>
<use href="#R" x="217.5" y="35.4"/>
<use href="#R" x="78.2" y="39.1"/>
<use href="#R" x="89.7" y="39.8"/>
<use href="#R" x="319.3" y="31.6"/>
<use href="#R" x="275.6" y="38.6"/>
<use href="#R" x="143.1" y="44.2"/>
<use href="#R" x="200.5" y="36.1"/>
<use href="#R" x="279.5" y="36.8"/>
<use href="#R" x="79.3" y="37.5"/>
<use href="#R" x="319.9" y="50.8"/>
<use href="#R" x="264.2" y="44.9"/>
<use href="#R" x="139.4" y="36.9"/>
<use href="#R" x="157.6" y="36.9"/>
<use href="#R" x="231.5" y="41"/>
<use href="#R" x="234.5" y="42.2"/>
<use href="#R" x="292.9" y="45.9"/>
<use href="#R" x="137.2" y="39.5"/>
<use href="#R" x="92.4" y="42.1"/>
<use href="#R" x="282.4" y="38.6"/>
<use href="#R" x="73.6" y="41.5"/>
<use href="#R" x="137.3" y="36.4"/>
<use href="#R" x="295.3" y="39"/>
<use href="#R" x="137.6" y="38.2"/>
<use href="#R" x="281.7" y="46.2"/>
<use href="#R" x="151.6" y="36.7"/>
<use href="#R" x="232.5" y="37"/>
<use href="#R" x="208" y="39.8"/>
<use href="#R" x="218.8" y="41.6"/>
<use href="#R" x="253.7" y="37.7"/>
<use href="#R" x="118" y="44.8"/>
<use href="#R" x="178.8" y="61.6"/>
<use href="#R" x="78.8" y="36.3"/>
<use href="#R" x="81.2" y="36.1"/>
<use href="#R" x="203" y="43.3"/>
<use href="#R" x="92" y="35.8"/>
<use href="#R" x="296.4" y="39.2"/>
<use href="#R" x="189.1" y="40.4"/>
<use href="#R" x="54.5" y="40.6"/>
<use href="#R" x="203.2" y="42.5"/>
<use href="#R" x="69.1" y="36.7"/>
<use href="#R" x="124" y="39.3"/>
<use href="#R" x="194.9" y="45.9"/>
<use href="#R" x="128.9" y="40.2"/>
<use href="#R" x="140.6" y="40.5"/>
<use href="#R" x="43.3" y="46.5"/>
<use href="#R" x="312.4" y="40.8"/>
<use href="#R" x="189.7" y="40.4"/>
<use href="#R" x="237.9" y="37.4"/>
<use href="#R" x="316.5" y="37.5"/>
<use href="#R" x="152.6" y="41.1"/>
<use href="#R" x="175.2" y="41.9"/>
<use href="#R" x="100.6" y="40.1"/>
<use href="#R" x="310.9" y="43.4"/>
<use href="#R" x="71" y="42.4"/>
<use href="#R" x="251.9" y="39.2"/>
<use href="#R" x="154.7" y="38.5"/>
<use href="#R" x="289.6" y="39.6"/>
<use href="#R" x="117.7" y="40.3"/>
<use href="#R" x="108.3" y="38.8"/>
<use href="#R" x="132.6" y="38.1"/>
<use href="#R" x="223.5" y="38.7"/>
<use href="#R" x="100.5" y="42.2"/>
<use href="#R" x="180" y="45"/>
<use href="#R" x="134.4" y="37.7"/>
<use href="#R" x="256.3" y="42.6"/>
<use href="#R" x="69.9" y="42.5"/>
<use href="#R" x="224.5" y="45"/>
<use href="#R" x="115.2" y="39.9"/>
<use href="#R" x="73.2" y="38.9"/>
<use href="#R" x="72.1" y="49.3"/>
<use href="#R" x="190.8" y="39.8"/>
<use href="#R" x="206.3" y="44.3"/>
<use href="#R" x="179.1" y="37.8"/>
<use href="#R" x="215" y="38.8"/>
<use href="#R" x="117.5" y="44.3"/>
<use href="#R" x="63" y="47.7"/>
<use href="#R" x="88.4" y="68.7"/>
<use href="#R" x="216.3" y="40.4"/>
<use href="#R" x="276.1" y="42.1"/>
<use href="#R" x="123.2" y="35.6"/>
<use href="#R" x="115.8" y="40.2"/>
<use href="#R" x="202.4" y="36.9"/>
<use href="#R" x="297.5" y="36"/>
<use href="#R" x="126.9" y="44.8"/>
<use href="#R" x="142.7" y="32.4"/>
<use href="#R" x="147.5" y="41.1"/>
<use href="#R" x="267.2" y="40.1"/>
<use href="#R" x="175" y="43"/>
<use href="#R" x="244.4" y="45.7"/>
<use href="#R" x="250.5" y="83.9"/>
<use href="#R" x="240.9" y="44"/>
<use href="#R" x="152.6" y="30.2"/>
<use href="#R" x="246.3" y="49.7"/>
<use href="#R" x="52.4" y="36.5"/>
<use href="#R" x="61.2" y="36.6"/>
<use href="#R" x="287.1" y="74.8"/>
<use href="#R" x="211.5" y="38.8"/>
<use href="#R" x="154" y="39.2"/>
<use href="#R" x="239" y="39.4"/>
<use href="#R" x="219.1" y="39.9"/>
<use href="#R" x="117.3" y="36.9"/>
<use href="#R" x="113.2" y="32.4"/>
<use href="#R" x="113.4" y="37"/>
<use href="#R" x="91.9" y="65.9"/>
<use href="#R" x="40.7" y="38.7"/>
<use href="#R" x="259.2" y="44.2"/>
<use href="#R" x="83" y="64.4"/>
<use href="#R" x="58" y="37.5"/>
<use href="#R" x="162.2" y="37.8"/>
<use href="#R" x="77.4" y="36.9"/>
<use href="#R" x="155.2" y="40.6"/>
<use href="#R" x="274.5" y="40.8"/>
<use href="#R" x="137.2" y="57"/>
<use href="#R" x="268.4" y="37.2"/>
<use href="#R" x="173" y="40.8"/>
<use href="#R" x="46.8" y="41"/>
<use href="#R" x="208" y="42.7"/>
<use href="#R" x="86.8" y="40.2"/>
<use href="#R" x="286.4" y="35.4"/>
<use href="#R" x="256.5" y="44.7"/>
<use href="#R" x="50.4" y="46.9"/>
<use href="#R" x="221.3" y="41.1"/>
<use href="#R" x="254.1" y="38.4"/>
<use href="#R" x="178.6" y="48"/>
<use href="#R" x="230.3" y="36.9"/>
<use href="#R" x="123" y="36.5"/>
<use href="#R" x="107.3" y="35.8"/>
<use href="#R" x="102.1" y="38.5"/>
<use href="#R" x="209.2" y="42.8"/>
<use href="#R" x="54" y="38.3"/>
<use href="#R" x="200.6" y="35.8"/>
<use href="#R" x="199" y="61.9"/>
<use href="#R" x="148.6" y="50.6"/>
<use href="#R" x="142.3" y="44.2"/>
<use href="#R" x="42.4" y="39.1"/>
<use href="#R" x="286.3" y="45.5"/>
<use href="#R" x="241.2" y="35.2"/>
<use href="#R" x="196.5" y="38.7"/>
<use href="#R" x="323.1" y="42.9"/>
<use href="#R" x="241.8" y="39.2"/>
<use href="#R" x="261.1" y="43.4"/>
<use href="#R" x="146.8" y="45.5"/>
<use href="#R" x="234.7" y="39.2"/>
<use href="#R" x="119.7" y="41.2"/>
<use href="#R" x="71" y="34.5"/>
<use href="#R" x="60.2" y="43.1"/>
<use href="#R" x="194.7" y="38.9"/>
<use href="#R" x="51.6" y="38.8"/>
<use href="#R" x="61.4" y="36.3"/>
<use href="#R" x="283.2" y="44.1"/>
<use href="#R" x="293.2" y="38"/>
<use href="#R" x="76.6" y="36.4"/>
<use href="#R" x="153.8" y="43.6"/>
<use href="#R" x="150.5" y="45.8"/>
<use href="#R" x="267.3" y="41"/>
<use href="#R" x="206.8" y="42.4"/>
<use href="#R" x="160.9" y="35.5"/>
<use href="#R" x="281.5" y="40.2"/>
<use href="#R" x="147.7" y="39"/>
<use href="#R" x="76.3" y="43.3"/>
<use href="#R" x="74.4" y="44.1"/>
<use href="#R" x="288.6" y="46.7"/>
<use href="#R" x="310" y="49.3"/>
<use href="#R" x="84.6" y="38.4"/>
<use href="#R" x="47.5" y="35"/>
<use href="#R" x="198.6" y="47.1"/>
<use href="#R" x="316.8" y="44"/>
<use href="#R" x="257.4" y="47"/>
<use href="#R" x="266.7" y="53.3"/>
<use href="#R" x="273.7" y="43"/>
<use href="#R" x="168.6" y="41.9"/>
<use href="#R" x="110.9" y="32.4"/>
<use href="#R" x="250.7" y="71.7"/>
<use href="#R" x="287" y="41.1"/>
<use href="#R" x="109.7" y="32.6"/>
<use href="#R" x="245.9" y="41.5"/>
<use href="#R" x="219.9" y="38.2"/>
<use href="#R" x="43.2" y="39.3"/>
<use href="#R" x="219.2" y="37.9"/>
<use href="#R" x="80.6" y="47.4"/>
<use href="#R" x="44.5" y="45.2"/>
<use href="#R" x="150.6" y="32.6"/>
<use href="#R" x="83" y="37.7"/>
<use href="#R" x="228.1" y="41.1"/>
<use href="#R" x="207.3" y="47.4"/>
<use href="#R" x="235.9" y="38.6"/>
<use href="#R" x="122.1" y="37.3"/>
<use href="#R" x="270.5" y="38.6"/>
<use href="#R" x="166.1" y="38.4"/>
<use href="#R" x="229.8" y="40"/>
<use href="#R" x="47.8" y="41.5"/>
<use href="#R" x="277.9" y="38.9"/>
<use href="#R" x="171.9" y="86.3"/>
<use href="#R" x="116.7" y="40.9"/>
<use href="#R" x="125.3" y="39.8"/>
<use href="#R" x="65.5" y="40.2"/>
<use href="#R" x="57.3" y="43.5"/>
<use href="#R" x="41.4" y="39.8"/>
<use href="#R" x="58.3" y="40.4"/>
<use href="#R" x="279.1" y="47.4"/>
<use href="#R" x="144.9" y="38.6"/>
<use href="#R" x="42.1" y="62"/>
<use href="#R" x="140.7" y="37.1"/>
<use href="#R" x="323.1" y="39.6"/>
<use href="#R" x="307.3" y="37.1"/>
<use href="#R" x="181.5" y="42.3"/>
<use href="#R" x="174.6" y="42.1"/>
<use href="#R" x="119.5" y="44.2"/>
<use href="#R" x="253.4" y="49.3"/>
<use href="#R" x="280.6" y="54.3"/>
<use href="#R" x="76.3" y="38.6"/>
<use href="#R" x="56.2" y="38.1"/>
<use href="#R" x="198.5" y="33.7"/>
<use href="#R" x="192.4" y="38"/>
<use href="#R" x="214.3" y="42.6"/>
<use href="#R" x="60.7" y="41.6"/>
<use href="#R" x="100.5" y="36.7"/>
<use href="#R" x="118.3" y="41.5"/>
<use href="#R" x="172.3" y="36.3"/>
<use href="#R" x="241.9" y="60"/>
<use href="#R" x="239" y="34.1"/>
<use href="#R" x="249.6" y="46.7"/>
<use href="#R" x="143.7" y="25.9"/>
<use href="#R" x="137.3" y="44.2"/>
<use href="#R" x="184.4" y="54.8"/>
<use href="#R" x="303.9" y="37.3"/>
<use href="#R" x="108.4" y="40.2"/>
<use href="#R" x="312.6" y="42.9"/>
<use href="#R" x="312.3" y="40.8"/>
<use href="#R" x="101" y="40.3"/>
<use href="#R" x="270.4" y="54.4"/>
<use href="#R" x="211.8" y="42.6"/>
<use href="#R" x="208.5" y="40.4"/>
<use href="#R" x="105.8" y="45.4"/>
<use href="#R" x="41.9" y="39.8"/>
<use href="#R" x="219.2" y="43.3"/>
<use href="#R" x="190.1" y="39"/>
<use href="#R" x="231.5" y="39.2"/>
<use href="#R" x="126.2" y="40.5"/>
<use href="#R" x="58.1" y="38.6"/>
<use href="#R" x="148.2" y="37.2"/>
<use href="#R" x="248.5" y="34.8"/>
<use href="#R" x="154" y="52.4"/>
<use href="#R" x="252.4" y="31.5"/>
<use href="#R" x="277" y="40.6"/>
<use href="#R" x="285.9" y="35.6"/>
<use href="#R" x="132.3" y="38.8"/>
<use href="#R" x="105.4" y="36"/>
<use href="#R" x="208.8" y="41.6"/>
<use href="#R" x="155.7" y="42.2"/>
<use href="#R" x="78.4" y="42.6"/>
<use href="#R" x="228.9" y="39.6"/>
<use href="#R" x="162.3" y="38.4"/>
<use href="#R" x="76.7" y="42.9"/>
<use href="#R" x="152.4" y="44.3"/>
<use href="#R" x="314.6" y="36.9"/>
<use href="#R" x="225.1" y="44.8"/>
<use href="#R" x="320.5" y="48.9"/>
<use href="#R" x="298.1" y="49.2"/>
<use href="#R" x="130.6" y="41"/>
<use href="#R" x="227.3" y="38.5"/>
<use href="#R" x="182.7" y="42.6"/>
<use href="#R" x="93.7" y="45.1"/>
<use href="#R" x="56.8" y="40.7"/>
<use href="#R" x="247.2" y="60.4"/>
<use href="#R" x="287.5" y="49.8"/>
<use href="#R" x="282.7" y="42.7"/>
<use href="#R" x="114.7" y="39.8"/>
<use href="#R" x="315" y="38"/>
<use href="#R" x="210.3" y="43.5"/>
<use href="#R" x="325.4" y="43.2"/>
<use href="#R" x="192.4" y="41.7"/>
<use href="#R" x="160.3" y="40"/>
<use href="#R" x="168.1" y="38.6"/>
<use href="#R" x="192.3" y="36.3"/>
<use href="#R" x="157.1" y="38.3"/>
<use href="#R" x="135.4" y="38.8"/>
<use href="#R" x="313" y="42.3"/>
<use href="#R" x="190.8" y="44"/>
<use href="#R" x="173.5" y="37.6"/>
<use href="#R" x="273.3" y="47.5"/>
<use href="#R" x="98.3" y="42.1"/>
<use href="#R" x="268.1" y="39"/>
<use href="#R" x="71.8" y="42"/>
<use href="#R" x="113.8" y="40.2"/>
<use href="#R" x="72.8" y="45.1"/>
<use href="#R" x="50.3" y="37.2"/>
<use href="#R" x="286.9" y="45.5"/>
<use href="#R" x="64.4" y="33.5"/>
<use href="#R" x="108.5" y="45.5"/>
<use href="#R" x="282.9" y="43.5"/>
<use href="#R" x="213.4" y="51.3"/>
<use href="#R" x="117.8" y="41.8"/>
<use href="#R" x="280.7" y="42.1"/>
<use href="#R" x="326" y="41.3"/>
<use href="#R" x="191.3" y="66.7"/>
<use href="#R" x="202.1" y="47.7"/>
<use href="#R" x="265.3" y="68.9"/>
<use href="#R" x="186.5" y="42.3"/>
<use href="#R" x="315.4" y="64.3"/>
<use href="#R" x="188.1" y="39.4"/>
<use href="#R" x="90.1" y="38.5"/>
<use href="#R" x="262.9" y="33.9"/>
<use href="#R" x="69.3" y="42.2"/>
<use href="#R" x="217" y="40.6"/>
<use href="#R" x="64.1" y="42"/>
<use href="#R" x="104.2" y="42.5"/>
<use href="#R" x="42.2" y="39.8"/>
<use href="#R" x="97.9" y="74.4"/>
<use href="#R" x="101.8" y="70.3"/>
<use href="#R" x="222.3" y="39.6"/>
<use href="#R" x="125.4" y="43.5"/>
<use href="#R" x="315.9" y="39.3"/>
<use href="#R" x="103.2" y="45.5"/>
<use href="#R" x="139.4" y="40.8"/>
<use href="#R" x="180.6" y="36.5"/>
<use href="#R" x="263.9" y="40.4"/>
<use href="#R" x="128.7" y="63.8"/>
<use href="#R" x="208.4" y="41.3"/>
<use href="#R" x="144" y="37.5"/>
<use href="#R" x="209.4" y="66.5"/>
<use href="#R" x="264.3" y="38"/>
<use href="#R" x="255.3" y="42.8"/>
<use href="#R" x="246.8" y="38.9"/>
<use href="#R" x="138" y="42.2"/>
<use href="#R" x="135.9" y="41.8"/>
<use href="#R" x="237.2" y="38.3"/>
<use href="#R" x="77.4" y="38.8"/>
<use href="#R" x="273.9" y="40.5"/>
<use href="#R" x="99.8" y="46.3"/>
<use href="#R" x="156.6" y="38.1"/>
<use href="#R" x="198.3" y="38.7"/>
<use href="#R" x="249.6" y="41.1"/>
<use href="#R" x="254" y="43.1"/>
<use href="#R" x="266.6" y="45.7"/>
<use href="#R" x="54.5" y="46.4"/>
<use href="#R" x="161.1" y="38.7"/>
<use href="#R" x="242.7" y="36.3"/>
<use href="#R" x="168.2" y="37.2"/>
<use href="#R" x="260.4" y="38.1"/>
<use href="#R" x="230.1" y="36.2"/>
<use href="#R" x="178.6" y="38.3"/>
<use href="#R" x="214.6" y="38.7"/>
<use href="#R" x="203.7" y="40.4"/>
<use href="#R" x="171.7" y="41.1"/>
<use href="#R" x="180.8" y="38.4"/>
<use href="#R" x="265" y="43"/>
<use href="#R" x="72.2" y="37.7"/>
<use href="#R" x="73.6" y="39.9"/>
<use href="#R" x="116.2" y="79.7"/>
<use href="#R" x="235.6" y="43.1"/>
<use href="#R" x="294.2" y="41.7"/>
<use href="#R" x="165.7" y="41.9"/>
<use href="#R" x="264.4" y="39.6"/>
<use href="#R" x="201.4" y="53.1"/>
<use href="#R" x="163.8" y="42.1"/>
<use href="#R" x="90.6" y="39.5"/>
<use href="#R" x="206.8" y="71.6"/>
<use href="#R" x="132" y="39.3"/>
<use href="#R" x="155.4" y="62.3"/>
<use href="#R" x="208.2" y="43.9"/>
<use href="#R" x="112.2" y="47.4"/>
<use href="#R" x="185" y="39.5"/>
<use href="#R" x="291.2" y="40.8"/>
<use href="#R" x="308.3" y="62.8"/>
<use href="#R" x="194.3" y="38.1"/>
<use href="#R" x="228.6" y="37.9"/>
<use href="#R" x="121.3" y="39.7"/>
<use href="#R" x="89.1" y="39"/>
<use href="#R" x="41.7" y="40.2"/>
<use href="#R" x="176" y="47.7"/>
<use href="#R" x="79.9" y="38.4"/>
<use href="#R" x="86" y="35.4"/>
<use href="#R" x="177" y="36.9"/>
<use href="#R" x="131.2" y="47.2"/>
<use href="#R" x="325.3" y="40.3"/>
<use href="#R" x="101.5" y="37.1"/>
<use href="#R" x="157.2" y="42.8"/>
<use href="#R" x="97" y="43.6"/>
<use href="#R" x="300.4" y="46.7"/>
<use href="#R" x="234.4" y="35.5"/>
<use href="#R" x="172.3" y="37.4"/>
<use href="#R" x="123.2" y="42.4"/>
<use href="#R" x="187.1" y="42.4"/>
<use href="#R" x="302.2" y="33.2"/>
<use href="#R" x="96.6" y="35.9"/>
<use href="#R" x="97.4" y="43"/>
<use href="#R" x="138.3" y="41.7"/>
<use href="#R" x="101" y="40.1"/>
<use href="#R" x="50.3" y="42"/>
<use href="#R" x="45.9" y="46.6"/>
<use href="#R" x="72.2" y="40.9"/>
<use href="#R" x="201.2" y="37.6"/>
<use href="#R" x="138.6" y="36.1"/>
<use href="#R" x="276.6" y="45.1"/>
<use href="#R" x="181.5" y="37"/>
<use href="#R" x="286.4" y="43.3"/>
<use href="#R" x="246.8" y="60.7"/>
<use href="#R" x="93.4" y="43.6"/>
<use href="#R" x="260.6" y="39.7"/>
<use href="#B" x="312.7" y="38.5"/>
<use href="#B" x="276.9" y="36.2"/>
<use href="#B" x="214.9" y="40"/>
<use href="#B" x="97.5" y="42.7"/>
<use href="#B" x="45.9" y="40.8"/>
<use href="#B" x="269.3" y="40"/>
<use href="#B" x="151.4" y="41.9"/>
<use href="#B" x="129.9" y="38.5"/>
<use href="#B" x="103.1" y="41.5"/>
<use href="#B" x="197.3" y="40.4"/>
<use href="#B" x="218" y="35.4"/>
<use href="#B" x="57.4" y="38"/>
<use href="#B" x="181.6" y="39.1"/>
<use href="#B" x="109.4" y="38"/>
<use href="#B" x="214.8" y="36"/>
<use href="#B" x="136.2" y="39.1"/>
<use href="#B" x="140.7" y="39.9"/>
<use href="#B" x="45.2" y="42.6"/>
<use href="#B" x="52.7" y="42.3"/>
<use href="#B" x="121.3" y="36.7"/>
<use href="#B" x="146.3" y="40.9"/>
<use href="#B" x="177.9" y="38.1"/>
<use href="#B" x="144.6" y="39.9"/>
<use href="#B" x="198.4" y="38.3"/>
<use href="#B" x="95.8" y="39"/>
<use href="#B" x="219.1" y="38"/>
<use href="#B" x="202.3" y="41.4"/>
<use href="#B" x="123.5" y="40.3"/>
<use href="#B" x="97.1" y="38.8"/>
<use href="#B" x="52.3" y="39.4"/>
<use href="#B" x="205.7" y="42.8"/>
<use href="#B" x="179.4" y="42.2"/>
<use href="#B" x="98.9" y="40.2"/>
<use href="#B" x="224.7" y="39.6"/>
<use href="#B" x="181.7" y="41.7"/>
<use href="#B" x="202.3" y="44.2"/>
<use href="#B" x="44.4" y="40.2"/>
<use href="#B" x="258.8" y="40.6"/>
<use href="#B" x="67.2" y="39.5"/>
<use href="#B" x="93.9" y="39.2"/>
<use href="#B" x="225.2" y="39.7"/>
<use href="#B" x="252.4" y="36"/>
<use href="#B" x="85.3" y="39"/>
<use href="#B" x="69" y="38.1"/>
<use href="#B" x="258.5" y="37.9"/>
<use href="#B" x="204.7" y="40.3"/>
<use href="#B" x="201" y="37.9"/>
<use href="#B" x="147.9" y="39"/>
<use href="#B" x="112.8" y="38.1"/>
<use href="#B" x="119.8" y="38.5"/>
<use href="#B" x="182.2" y="37.9"/>
<use href="#B" x="109.8" y="43.1"/>
<use href="#B" x="175" y="37.1"/>
<use href="#B" x="151.1" y="41.9"/>
<use href="#B" x="101" y="39"/>
<use href="#B" x="102.7" y="38.4"/>
<use href="#B" x="143.6" y="41.1"/>
<use href="#B" x="96" y="38.5"/>
<use href="#B" x="200.5" y="41.4"/>
<use href="#B" x="187.2" y="38.6"/>
<use href="#B" x="132.6" y="37.5"/>
<use href="#B" x="67.1" y="40.5"/>
<use href="#B" x="220.6" y="40.7"/>
<use href="#B" x="259.6" y="37.2"/>
<use href="#B" x="43.5" y="36.6"/>
<use href="#B" x="48.8" y="41.9"/>
<use href="#B" x="264.3" y="40.6"/>
<use href="#B" x="161.5" y="41.2"/>
<use href="#B" x="154.5" y="40.2"/>
<use href="#B" x="265.7" y="38.7"/>
<use href="#B" x="267.4" y="39.5"/>
<use href="#B" x="74.2" y="40.2"/>
<use href="#B" x="247.3" y="37.3"/>
<use href="#B" x="176.6" y="42.7"/>
<use href="#B" x="114.5" y="42.3"/>
<use href="#B" x="75.6" y="40.6"/>
<use href="#B" x="86.1" y="40.9"/>
<use href="#B" x="70.2" y="39"/>
<use href="#B" x="180.8" y="38.2"/>
<use href="#B" x="143.2" y="40.7"/>
<use href="#B" x="268.3" y="39"/>
<use href="#B" x="125.4" y="42.3"/>
<use href="#B" x="219.7" y="38.1"/>
<use href="#B" x="168.6" y="36.5"/>
<use href="#B" x="136.7" y="37.2"/>
<use href="#B" x="225.4" y="39.6"/>
<use href="#B" x="91.4" y="39.3"/>
<use href="#B" x="258.7" y="39.7"/>
<use href="#B" x="217.3" y="39.6"/>
<use href="#B" x="123.5" y="38.1"/>
<use href="#B" x="127.8" y="38.4"/>
<use href="#B" x="48.5" y="39"/>
<use href="#B" x="185.7" y="39.5"/>
<use href="#B" x="235.2" y="41.3"/>
<use href="#B" x="205" y="40"/>
<use href="#B" x="124" y="41.5"/>
<use href="#B" x="231.1" y="39.5"/>
<use href="#B" x="99.1" y="38.4"/>
<use href="#B" x="171.4" y="39.2"/>
<use href="#B" x="133.7" y="43.1"/>
<use href="#B" x="72.2" y="40.9"/>
<use href="#B" x="134.3" y="39.8"/>
<use href="#B" x="182.6" y="39"/>
<use href="#B" x="115.5" y="38.5"/>
<use href="#B" x="220.6" y="36.9"/>
<use href="#B" x="72.1" y="39.2"/>
<use href="#B" x="175.5" y="40.1"/>
<use href="#B" x="158.4" y="39.3"/>
<use href="#B" x="218.7" y="44.2"/>
<use href="#B" x="186.8" y="37.4"/>
<use href="#B" x="153" y="43.2"/>
<use href="#B" x="157" y="40.7"/>
<use href="#B" x="58.8" y="38.6"/>
<use href="#B" x="228.3" y="42.8"/>
<use href="#B" x="221.2" y="39.2"/>
<use href="#B" x="225" y="36.9"/>
<use href="#B" x="68.3" y="40.1"/>
<use href="#B" x="121.6" y="40.2"/>
<use href="#B" x="111.7" y="38.6"/>
<use href="#B" x="111.7" y="40.3"/>
<use href="#B" x="89.5" y="39.6"/>
<use href="#B" x="42.4" y="37.4"/>
<use href="#B" x="113.8" y="40.1"/>
<use href="#B" x="212.8" y="41.7"/>
<use href="#B" x="50" y="39.7"/>
<use href="#B" x="243.9" y="40.3"/>
<use href="#B" x="244.6" y="43.6"/>
<use href="#B" x="180.9" y="40.8"/>
<use href="#B" x="285.5" y="40.3"/>
<use href="#B" x="119.2" y="38.7"/>
<use href="#B" x="197.9" y="39.9"/>
<use href="#B" x="207.7" y="39"/>
<use href="#B" x="217.9" y="41.6"/>
<use href="#B" x="165" y="37.7"/>
<use href="#B" x="119.7" y="36.9"/>
<use href="#B" x="44.1" y="37.2"/>
<use href="#B" x="221.1" y="40.8"/>
<use href="#B" x="74.8" y="37.6"/>
<use href="#B" x="214.4" y="37.3"/>
<use href="#B" x="205" y="36.7"/>
<use href="#B" x="192.2" y="37.8"/>
<use href="#B" x="170.2" y="39.1"/>
<use href="#B" x="76.7" y="41.3"/>
<use href="#B" x="235.8" y="41.4"/>
<use href="#B" x="156.9" y="38"/>
<use href="#B" x="268.8" y="37.1"/>
<use href="#B" x="224" y="36.1"/>
<use href="#B" x="44.2" y="41.6"/>
<use href="#B" x="254.4" y="39.6"/>
<use href="#B" x="166.8" y="42.2"/>
<use href="#B" x="60.7" y="40"/>
<use href="#B" x="57.1" y="40.7"/>
<use href="#B" x="124.8" y="37.8"/>
<use href="#B" x="268.7" y="38.4"/>
<use href="#B" x="61.9" y="38.7"/>
<use href="#B" x="65" y="38.4"/>
<use href="#B" x="98.6" y="41.6"/>
<use href="#B" x="142.7" y="42.1"/>
<use href="#B" x="233.2" y="42.3"/>
<use href="#B" x="105.2" y="40.5"/>
<use href="#B" x="166" y="34.3"/>
<use href="#B" x="166.5" y="41.4"/>
<use href="#B" x="107.4" y="38.2"/>
<use href="#B" x="238.5" y="36.9"/>
<use href="#B" x="116.8" y="39.5"/>
<use href="#B" x="85" y="41"/>
<use href="#B" x="221.3" y="39.8"/>
<use href="#B" x="66.8" y="40.1"/>
<use href="#B" x="81.8" y="37"/>
<use href="#B" x="251.3" y="43.1"/>
<use href="#B" x="171.9" y="39.8"/>
<use href="#B" x="192.4" y="42"/>
<use href="#B" x="230.2" y="38.1"/>
<use href="#B" x="247.8" y="38"/>
<use href="#B" x="260.3" y="44.6"/>
<use href="#B" x="241.7" y="39.5"/>
<use href="#B" x="188.6" y="41.5"/>
<use href="#B" x="221.6" y="39.3"/>
<use href="#B" x="93.6" y="38.8"/>
<use href="#B" x="187.5" y="38.6"/>
<use href="#B" x="147.2" y="41.7"/>
<use href="#B" x="106.8" y="39.3"/>
<use href="#B" x="101.3" y="40.4"/>
<use href="#B" x="239.5" y="38.7"/>
<use href="#B" x="55.5" y="38.6"/>
<use href="#B" x="103.9" y="41.1"/>
<use href="#B" x="215.9" y="35.9"/>
<use href="#B" x="253.2" y="41.5"/>
<use href="#B" x="259.5" y="40.1"/>
<use href="#B" x="183.9" y="42"/>
<use href="#B" x="146.8" y="38.9"/>
<use href="#B" x="172.2" y="42.4"/>
<use href="#B" x="176.8" y="40.5"/>
<use href="#B" x="236.5" y="41.4"/>
<use href="#B" x="104.6" y="38.3"/>
<use href="#B" x="183" y="40.9"/>
<use href="#B" x="160.4" y="42"/>
<use href="#B" x="123.9" y="38.9"/>
<use href="#B" x="241.8" y="38.3"/>
<use href="#B" x="235.3" y="41.9"/>
<use href="#B" x="121.8" y="37.2"/>
<use href="#B" x="109.5" y="37.6"/>
<use href="#B" x="206.1" y="39.8"/>
<use href="#B" x="89.8" y="39.1"/>
<use href="#B" x="239.7" y="38.5"/>
<use href="#B" x="221.1" y="39.5"/>
<use href="#B" x="131.7" y="39.2"/>
<use href="#B" x="120.5" y="39.3"/>
<use href="#B" x="49.6" y="40.2"/>
<use href="#B" x="259.2" y="40.9"/>
<use href="#B" x="125.9" y="37.6"/>
<use href="#B" x="91.1" y="38"/>
<use href="#B" x="74.4" y="40.6"/>
<use href="#B" x="162.2" y="40.1"/>
<use href="#B" x="132.3" y="40"/>
<use href="#B" x="207.3" y="40.2"/>
<use href="#B" x="70.5" y="38.8"/>
<use href="#B" x="127.7" y="40.2"/>
<use href="#B" x="230.4" y="39.6"/>
<use href="#B" x="108.7" y="41.9"/>
<use href="#B" x="139" y="38.7"/>
<use href="#B" x="92.8" y="41.2"/>
<use href="#B" x="196.7" y="40.3"/>
<use href="#B" x="151.7" y="41.2"/>
<use href="#B" x="226.2" y="40.1"/>
<use href="#B" x="260" y="40.4"/>
<use href="#B" x="245" y="41.6"/>
<use href="#B" x="134.8" y="39.3"/>
<use href="#B" x="195.5" y="41.2"/>
<use href="#B" x="46.7" y="38.7"/>
<use href="#B" x="87.3" y="40.8"/>
<use href="#B" x="177.7" y="38.9"/>
<use href="#B" x="123" y="42.7"/>
<use href="#B" x="95" y="39.7"/>
<use href="#B" x="231.1" y="41.9"/>
<use href="#B" x="269.1" y="39.6"/>
<use href="#B" x="261.1" y="39.1"/>
<use href="#B" x="158.6" y="42.8"/>
<use href="#B" x="82.9" y="38.6"/>
<use href="#B" x="216.3" y="42.2"/>
<use href="#B" x="86.3" y="41.5"/>
<use href="#B" x="113.9" y="40.9"/>
<use href="#B" x="138.3" y="43.6"/>
<use href="#B" x="88.4" y="41.4"/>
<use href="#B" x="135.7" y="40.7"/>
<use href="#B" x="187.5" y="40.5"/>
<use href="#B" x="193.6" y="39.8"/>
<use href="#B" x="243.4" y="38.3"/>
<use href="#B" x="188.3" y="43.6"/>
<use href="#B" x="137.8" y="39.1"/>
<use href="#B" x="152.4" y="39.5"/>
<use href="#B" x="243.6" y="40.5"/>
<use href="#B" x="120.7" y="39.6"/>
<use href="#B" x="140.5" y="38"/>
<use href="#B" x="241" y="40.1"/>
<use href="#B" x="210.8" y="38.8"/>
<use href="#B" x="53.5" y="39.7"/>
<use href="#B" x="209.3" y="38.8"/>
<use href="#B" x="151" y="40.7"/>
<use href="#B" x="165.9" y="38.4"/>
<use href="#B" x="116.4" y="39.5"/>
<use href="#B" x="144" y="40.3"/>
<use href="#B" x="160.6" y="39.8"/>
<use href="#B" x="251.8" y="41.5"/>
<use href="#B" x="66.5" y="39.2"/>
<use href="#B" x="119" y="41.5"/>
<use href="#B" x="219.3" y="40.4"/>
<use href="#B" x="196.8" y="42.1"/>
<use href="#B" x="237.5" y="37.4"/>
<use href="#B" x="197.9" y="43.5"/>
<use href="#B" x="136.3" y="39.1"/>
<use href="#B" x="143.5" y="40"/>
<use href="#B" x="104.6" y="40.1"/>
<use href="#B" x="85.6" y="41.8"/>
<use href="#B" x="266.3" y="41.9"/>
<use href="#B" x="79.3" y="38.9"/>
<use href="#B" x="284.5" y="41.4"/>
<use href="#B" x="193.4" y="40.4"/>
<use href="#B" x="133.7" y="39"/>
<use href="#B" x="59.5" y="40.2"/>
<use href="#B" x="47.2" y="39.3"/>
<use href="#B" x="242.4" y="42.2"/>
<use href="#B" x="70.5" y="37.6"/>
<use href="#B" x="162.1" y="38.4"/>
<use href="#B" x="81.3" y="36.8"/>
<use href="#B" x="41.5" y="40.1"/>
<use href="#B" x="239.6" y="38.2"/>
<use href="#B" x="96.7" y="38.4"/>
<use href="#B" x="203.2" y="42.2"/>
<use href="#B" x="117" y="38.2"/>
<use href="#B" x="90.5" y="40.2"/>
<use href="#B" x="262" y="39.4"/>
<use href="#B" x="165" y="40.7"/>
<use href="#B" x="169.4" y="39.6"/>
<use href="#B" x="138.3" y="38.5"/>
<use href="#B" x="212.1" y="40.6"/>
<use href="#B" x="201.5" y="41.6"/>
<use href="#B" x="237.2" y="40.3"/>
<use href="#B" x="184.7" y="40"/>
<use href="#B" x="228.4" y="41.1"/>
<use href="#B" x="73.1" y="42.2"/>
<use href="#B" x="59.6" y="41.1"/>
<use href="#B" x="100.1" y="39.8"/>
<use href="#B" x="42.3" y="39.2"/>
<use href="#B" x="193.6" y="40"/>
<use href="#B" x="54.1" y="39.1"/>
<use href="#B" x="110.2" y="40.5"/>
<use href="#B" x="265.4" y="41.7"/>
<use href="#B" x="49.9" y="36.9"/>
<use href="#B" x="140.9" y="38.9"/>
<use href="#B" x="68.4" y="42.8"/>
<use href="#B" x="98.2" y="36.2"/>
<use href="#B" x="75" y="41.5"/>
<use href="#B" x="94.1" y="36.6"/>
<use href="#B" x="233.9" y="36.5"/>
<use href="#B" x="220.2" y="41.5"/>
<use href="#B" x="193.2" y="39.7"/>
<use href="#B" x="187.9" y="40.5"/>
<use href="#B" x="256.1" y="39.3"/>
<use href="#B" x="154.8" y="41.2"/>
<use href="#B" x="200.3" y="39.6"/>
<use href="#B" x="218" y="40.8"/>
<use href="#B" x="115.1" y="41.3"/>
<use href="#B" x="163.5" y="37.2"/>
<use href="#B" x="260.7" y="41.2"/>
<use href="#B" x="198.2" y="38"/>
<use href="#B" x="271" y="40.3"/>
<use href="#B" x="169.6" y="38.7"/>
<use href="#B" x="177.3" y="39.2"/>
<use href="#B" x="86.9" y="38.2"/>
<use href="#B" x="172.9" y="38.7"/>
<use href="#B" x="78" y="42.2"/>
<use href="#B" x="166.9" y="37.9"/>
<use href="#B" x="80.9" y="38.9"/>
<use href="#B" x="128.8" y="35.8"/>
<use href="#B" x="178.8" y="39.9"/>
<use href="#B" x="137.4" y="39.2"/>
<use href="#B" x="43.8" y="38.9"/>
<use href="#B" x="141.4" y="39.2"/>
<use href="#B" x="188.2" y="38.1"/>
<use href="#B" x="203.9" y="39.5"/>
<use href="#B" x="240.1" y="37.8"/>
<use href="#B" x="58.7" y="38.4"/>
<use href="#B" x="222.3" y="43.7"/>
<use href="#B" x="222.9" y="37.3"/>
<use href="#B" x="150.1" y="40.4"/>
<use href="#B" x="42.8" y="38.7"/>
<use href="#B" x="115.1" y="38.5"/>
<use href="#B" x="257.3" y="41.8"/>
<use href="#B" x="62.3" y="38.9"/>
<use href="#B" x="84.2" y="41.5"/>
<use href="#B" x="80.6" y="39.5"/>
<use href="#B" x="269.5" y="36.3"/>
<use href="#B" x="47.5" y="38.6"/>
<use href="#B" x="161.8" y="36.3"/>
<use href="#B" x="121.2" y="38.7"/>
<use href="#B" x="84.7" y="38.9"/>
<use href="#B" x="158.1" y="36.3"/>
<use href="#B" x="120.4" y="38.6"/>
<use href="#B" x="186.5" y="37.9"/>
<use href="#B" x="44.7" y="40"/>
<use href="#B" x="118.2" y="37.3"/>
<use href="#B" x="197.3" y="39.4"/>
<use href="#B" x="41.7" y="39.6"/>
<use href="#B" x="257" y="44"/>
<use href="#B" x="264" y="40.6"/>
<use href="#B" x="56.7" y="38.8"/>
<use href="#B" x="242.1" y="41.1"/>
<use href="#B" x="71.6" y="37.5"/>
<use href="#B" x="126.3" y="39.9"/>
<use href="#B" x="103.6" y="41.7"/>
<use href="#B" x="232.6" y="39.2"/>
<use href="#B" x="163.2" y="38.6"/>
<use href="#B" x="243.5" y="38.1"/>
<use href="#B" x="100.6" y="39.7"/>
<use href="#B" x="41.6" y="39.9"/>
<use href="#B" x="133.6" y="40.1"/>
<use href="#B" x="142.7" y="37.9"/>
<use href="#B" x="77.2" y="38"/>
<use href="#B" x="240.3" y="39.9"/>
<use href="#B" x="127.2" y="39.2"/>
<use href="#B" x="193" y="42.5"/>
<use href="#B" x="106" y="39.3"/>
<use href="#B" x="95.3" y="41.6"/>
<use href="#B" x="42.9" y="38.9"/>
<use href="#B" x="168.4" y="38.5"/>
<use href="#B" x="221.9" y="40.5"/>
<use href="#B" x="217" y="39.9"/>
<use href="#B" x="49.2" y="42.2"/>
<use href="#B" x="226.6" y="41.9"/>
<use href="#B" x="144.7" y="36"/>
<use href="#B" x="262" y="43.3"/>
<use href="#B" x="285.1" y="40.5"/>
<use href="#B" x="257.9" y="38.8"/>
<use href="#B" x="85.9" y="38.3"/>
<use href="#B" x="229.7" y="35"/>
<use href="#B" x="173.8" y="36"/>
<use href="#B" x="85.6" y="39.4"/>
<use href="#B" x="97.5" y="37"/>
<use href="#B" x="90" y="41"/>
<use href="#B" x="142.4" y="40.3"/>
<use href="#B" x="112.3" y="37.9"/>
<use href="#B" x="150.9" y="42.8"/>
<use href="#B" x="246.6" y="39.2"/>
<use href="#B" x="155.5" y="40.8"/>
<use href="#B" x="65.4" y="40.4"/>
<use href="#B" x="184.3" y="38.7"/>
<use href="#B" x="229.2" y="40.7"/>
<use href="#B" x="189.8" y="41.2"/>
<use href="#B" x="291.2" y="38.5"/>
<use href="#B" x="245.9" y="41.1"/>
<use href="#B" x="105.8" y="41.1"/>
<use href="#B" x="110.9" y="42.9"/>
<use href="#B" x="245.2" y="40.2"/>
<use href="#B" x="205.6" y="39.7"/>
<use href="#B" x="54.8" y="39.8"/>
<use href="#B" x="191.4" y="35.5"/>
<use href="#B" x="167" y="38.1"/>
<use href="#B" x="155.1" y="39.5"/>
<use href="#B" x="136.5" y="39"/>
<use href="#B" x="188.1" y="37.8"/>
<use href="#B" x="134.8" y="39.2"/>
<use href="#B" x="210.4" y="36.6"/>
<use href="#B" x="50.3" y="37.9"/>
<use href="#B" x="263.8" y="38.3"/>
<use href="#B" x="203.2" y="36.9"/>
<use href="#B" x="199.7" y="40.5"/>
<use href="#B" x="159" y="38.7"/>
<use href="#B" x="64.5" y="40.5"/>
<use href="#B" x="73.7" y="38.9"/>
<use href="#B" x="135.1" y="40.2"/>
<use href="#B" x="164.9" y="39.8"/>
<use href="#B" x="258.2" y="38.3"/>
<use href="#B" x="244.5" y="41.2"/>
<use href="#B" x="179.2" y="37.9"/>
<use href="#B" x="61.1" y="42.6"/>
<use href="#B" x="50.6" y="41.7"/>
<use href="#B" x="69.6" y="35.8"/>
<use href="#B" x="229.7" y="42.8"/>
<use href="#B" x="62" y="40.3"/>
<use href="#B" x="76.2" y="38"/>
<use href="#B" x="133.8" y="40"/>
<use href="#B" x="174.8" y="42.6"/>
<use href="#B" x="63.9" y="42.3"/>
<use href="#B" x="190.1" y="37.8"/>
<use href="#B" x="131" y="40"/>
<use href="#B" x="130.5" y="42.1"/>
<use href="#B" x="209.1" y="42.8"/>
<use href="#B" x="196" y="42.1"/>
<use href="#B" x="254" y="39.2"/>
<use href="#B" x="53.3" y="42.3"/>
<use href="#B" x="141.6" y="38.1"/>
<use href="#B" x="74.4" y="38.9"/>
<use href="#B" x="241.6" y="40.2"/>
<use href="#B" x="190.6" y="41.3"/>
<use href="#B" x="118" y="40.7"/>
<use href="#B" x="238.9" y="40.4"/>
<use href="#B" x="150.7" y="39.4"/>
<use href="#B" x="137.7" y="40.9"/>
<use href="#B" x="213.2" y="42.1"/>
<use href="#B" x="127.6" y="34.5"/>
<use href="#B" x="110.1" y="43.2"/>
<use href="#B" x="71.3" y="41"/>
<use href="#B" x="62.7" y="40.2"/>
<use href="#B" x="52.1" y="40.5"/>
<use href="#B" x="94.8" y="38.1"/>
<use href="#B" x="230.6" y="37.6"/>
<use href="#B" x="199.4" y="38.2"/>
<use href="#B" x="49.8" y="44.1"/>
<use href="#B" x="113.1" y="39.1"/>
<use href="#B" x="196.3" y="37"/>
<use href="#B" x="186.4" y="39.5"/>
<use href="#B" x="110.3" y="39.6"/>
<use href="#B" x="229.4" y="40.8"/>
<use href="#B" x="215.7" y="41.8"/>
<use href="#B" x="89.2" y="39.2"/>
<use href="#B" x="175.9" y="42"/>
<use href="#B" x="117.8" y="39.8"/>
<use href="#B" x="156.5" y="41.6"/>
<use href="#B" x="256.4" y="40.1"/>
<use href="#B" x="44.6" y="39.9"/>
<use href="#B" x="320.1" y="38.3"/>
<use href="#B" x="193.8" y="38.8"/>
<use href="#B" x="254" y="38.7"/>
<use href="#B" x="94.8" y="37.8"/>
<use href="#B" x="227.1" y="41.2"/>
<use href="#B" x="49" y="38.5"/>
<use href="#B" x="117.6" y="39.8"/>
<use href="#B" x="238" y="40.5"/>
<use href="#B" x="54.2" y="41.3"/>
<use href="#B" x="73" y="41.8"/>
<use href="#B" x="176.8" y="40.1"/>
<use href="#B" x="174.8" y="42.2"/>
<use href="#B" x="181.7" y="37.9"/>
<use href="#B" x="168.9" y="41.9"/>
<use href="#B" x="46.9" y="42.3"/>
<use href="#B" x="101.5" y="39"/>
<use href="#B" x="218" y="41.7"/>
<use href="#B" x="118.5" y="41.7"/>
<use href="#B" x="152.4" y="40.3"/>
<use href="#B" x="162.2" y="40.2"/>
<use href="#B" x="253.2" y="37.9"/>
<use href="#B" x="196.7" y="38.1"/>
<use href="#B" x="81.6" y="36.1"/>
<use href="#B" x="68.3" y="41.1"/>
<use href="#B" x="45.5" y="39.6"/>
<use href="#B" x="146.4" y="38.2"/>
<use href="#B" x="210.8" y="42.4"/>
<use href="#B" x="321.5" y="42.1"/>
<use href="#B" x="128.4" y="38.4"/>
<use href="#B" x="236.4" y="40.3"/>
<use href="#B" x="160.8" y="40.8"/>
<use href="#B" x="101.3" y="39.3"/>
<use href="#B" x="267.6" y="42.2"/>
<use href="#B" x="244.4" y="37.8"/>
<use href="#B" x="129.2" y="42.3"/>
<use href="#B" x="211.7" y="39.8"/>
<use href="#B" x="178.9" y="38.8"/>
<use href="#B" x="176.5" y="37.6"/>
<use href="#B" x="122.1" y="39.8"/>
<use href="#B" x="263" y="39.9"/>
<use href="#B" x="276.6" y="38.5"/>
<use href="#B" x="210.9" y="40.5"/>
<use href="#B" x="67.2" y="40.4"/>
<use href="#B" x="96.5" y="39.6"/>
<use href="#B" x="72.5" y="39.6"/>
<use href="#B" x="130.4" y="41.7"/>
<use href="#B" x="153.5" y="41.7"/>
<use href="#B" x="115.5" y="42.7"/>
<use href="#B" x="202.5" y="37.5"/>
<use href="#B" x="118.8" y="39.5"/>
<use href="#B" x="156" y="37.2"/>
<use href="#B" x="132.8" y="40.9"/>
<use href="#B" x="140.4" y="39.4"/>
<use href="#B" x="164.5" y="43.2"/>
<use href="#B" x="105.8" y="38"/>
<use href="#B" x="97.5" y="39.3"/>
<use href="#B" x="78.2" y="40.6"/>
<use href="#B" x="145.5" y="42.2"/>
<use href="#B" x="232.6" y="40.2"/>
<use href="#B" x="202.7" y="38.4"/>
<use href="#B" x="114.8" y="36.4"/>
<use href="#B" x="166.8" y="41.9"/>
<use href="#B" x="219.1" y="39.4"/>
<use href="#B" x="250" y="39.1"/>
<use href="#B" x="76.3" y="38.6"/>
<use href="#B" x="312.4" y="43.7"/>
<use href="#B" x="41" y="40.4"/>
<use href="#B" x="79.7" y="39.1"/>
<use href="#B" x="86.3" y="38.5"/>
<use href="#B" x="185.3" y="41.9"/>
<use href="#B" x="75.3" y="39.8"/>
<use href="#B" x="121.2" y="38.7"/>
<use href="#B" x="167.3" y="39.6"/>
<use href="#B" x="89.2" y="36.2"/>
<use href="#B" x="196" y="40.1"/>
<use href="#B" x="169.3" y="39.1"/>
<use href="#B" x="102.6" y="38.6"/>
<use href="#B" x="251.3" y="41.4"/>
<use href="#B" x="57.8" y="41.1"/>
<use href="#B" x="145.1" y="38.4"/>
<use href="#B" x="56.9" y="39.7"/>
<use href="#B" x="250.9" y="42.6"/>
<use href="#B" x="51" y="41.5"/>
<use href="#B" x="138.4" y="41.4"/>
<use href="#B" x="199.5" y="39.4"/>
<use href="#B" x="174.3" y="38.1"/>
<use href="#B" x="155.7" y="42.8"/>
<use href="#B" x="260.7" y="39.9"/>
<use href="#B" x="84.3" y="39.4"/>
<use href="#B" x="209.9" y="40.3"/>
<use href="#B" x="126.4" y="39.6"/>
<use href="#B" x="267.5" y="39.1"/>
<use href="#B" x="122.6" y="39.3"/>
<use href="#B" x="107" y="37.7"/>
<use href="#B" x="189.8" y="41.7"/>
<use href="#B" x="232.7" y="39.7"/>
<use href="#B" x="226" y="38.9"/>
<use href="#B" x="197.9" y="39"/>
<use href="#B" x="74.5" y="40"/>
<use href="#B" x="78.9" y="35.5"/>
<use href="#B" x="63.5" y="42.9"/>
<use href="#B" x="221.5" y="41.2"/>
<use href="#B" x="176.1" y="40.6"/>
<use href="#B" x="216.9" y="38.3"/>
<use href="#B" x="142.3" y="41.8"/>
<use href="#B" x="122.2" y="40.7"/>
<use href="#B" x="145.5" y="43.6"/>
<use href="#B" x="52.8" y="37.8"/>
<use href="#B" x="238.9" y="38.7"/>
<use href="#B" x="184.2" y="36.2"/>
<use href="#B" x="104.8" y="39.2"/>
<use href="#B" x="167.6" y="36.6"/>
<use href="#B" x="270.3" y="39.8"/>
<use href="#B" x="91.8" y="42"/>
<use href="#B" x="147.7" y="40.8"/>
<use href="#B" x="48.1" y="39.7"/>
<use href="#B" x="91.2" y="41.2"/>
<use href="#B" x="41" y="39.8"/>
<use href="#B" x="259.7" y="40.2"/>
<use href="#B" x="88.2" y="37.4"/>
<use href="#B" x="86.3" y="40.9"/>
<use href="#B" x="106" y="42.5"/>
<use href="#B" x="98.7" y="41.2"/>
<use href="#B" x="69.6" y="41.1"/>
<use href="#B" x="162.8" y="38"/>
<use href="#B" x="211.7" y="39.1"/>
<use href="#B" x="120.5" y="40.8"/>
<use href="#B" x="54.8" y="39"/>
<use href="#B" x="47" y="40.6"/>
<use href="#B" x="151.9" y="38.8"/>
<use href="#B" x="55.9" y="42.6"/>
<use href="#B" x="230.7" y="39.2"/>
<use href="#B" x="189.2" y="38.9"/>
<use href="#B" x="127.3" y="40"/>
<use href="#B" x="243.2" y="37.1"/>
<use href="#B" x="148.8" y="37.9"/>
<use href="#B" x="58.7" y="42.5"/>
<use href="#B" x="218.3" y="43"/>
<use href="#B" x="194.9" y="40.8"/>
<use href="#B" x="163.2" y="38.1"/>
<use href="#B" x="228.5" y="36.1"/>
<use href="#B" x="79.6" y="40.4"/>
<use href="#B" x="69.2" y="39.9"/>
<use href="#B" x="54.7" y="40.6"/>
<use href="#B" x="107.3" y="41.8"/>
<use href="#B" x="268.2" y="41"/>
<use href="#B" x="174.3" y="39.8"/>
<use href="#B" x="124.6" y="40.2"/>
<use href="#B" x="46.3" y="39.5"/>
<use href="#B" x="76.8" y="40.1"/>
<use href="#B" x="249.4" y="38.7"/>
<use href="#B" x="195.7" y="40.9"/>
<use href="#B" x="60" y="38.5"/>
<use href="#B" x="223.1" y="38.5"/>
<use href="#B" x="139.8" y="42.2"/>
<use href="#B" x="58.4" y="38.9"/>
<use href="#B" x="215.1" y="42"/>
<use href="#B" x="129.2" y="40.3"/>
<use href="#B" x="150" y="39.7"/>
<use href="#B" x="181.2" y="38.6"/>
<use href="#B" x="62.3" y="41.6"/>
<use href="#B" x="80.1" y="38"/>
<use href="#B" x="255" y="38.9"/>
<use href="#B" x="177" y="38.5"/>
<use href="#B" x="247.6" y="41.5"/>
<use href="#B" x="216.8" y="38.6"/>
<use href="#B" x="56.1" y="37.3"/>
<use href="#B" x="153.2" y="40.8"/>
<use href="#B" x="209.4" y="38.1"/>
<use href="#B" x="211.4" y="40.1"/>
<use href="#B" x="165.7" y="38.3"/>
<use href="#B" x="75.1" y="38.1"/>
<use href="#B" x="261.5" y="37.8"/>
<use href="#B" x="263.6" y="39.4"/>
<use href="#B" x="165.4" y="39.3"/>
<use href="#B" x="43.1" y="37.3"/>
<use href="#B" x="132.6" y="42.7"/>
<use href="#B" x="187.5" y="40.9"/>
<use href="#B" x="139.9" y="39.6"/>
<use href="#B" x="42.6" y="40.6"/>
<use href="#B" x="106.3" y="40.9"/>
<use href="#B" x="85.3" y="38.7"/>
<use href="#B" x="72.7" y="41.1"/>
<use href="#B" x="239.1" y="40.8"/>
<use href="#B" x="53.8" y="38.8"/>
<use href="#B" x="207.9" y="38.3"/>
<use href="#B" x="222.4" y="40.2"/>
<use href="#B" x="61.5" y="38.8"/>
<use href="#B" x="128.3" y="36"/>
<use href="#B" x="209.6" y="39.6"/>
<use href="#B" x="238.2" y="39.1"/>
<use href="#B" x="171.2" y="40.6"/>
<use href="#B" x="226.2" y="39.4"/>
<use href="#B" x="89.1" y="40"/>
<use href="#B" x="81.8" y="37.4"/>
<use href="#B" x="185" y="36.8"/>
<use href="#B" x="269.9" y="41.4"/>
<use href="#B" x="90.6" y="42.1"/>
<use href="#B" x="144.3" y="41.8"/>
<use href="#B" x="229.4" y="40.5"/>
<use href="#B" x="248.7" y="38.5"/>
<use href="#B" x="291.5" y="37.2"/>
<use href="#B" x="92.2" y="40.1"/>
<use href="#B" x="63" y="36.7"/>
<use href="#B" x="83.6" y="38.2"/>
<use href="#B" x="212.5" y="42.1"/>
<use href="#B" x="206.7" y="37.2"/>
<use href="#B" x="266.3" y="40.1"/>
<use href="#B" x="164.4" y="42.4"/>
<use href="#B" x="110.8" y="41.5"/>
<use href="#B" x="119.9" y="39.7"/>
<use href="#B" x="98.2" y="40"/>
<use href="#B" x="154" y="36.7"/>
<use href="#B" x="265.2" y="40"/>
<use href="#B" x="151.2" y="37.2"/>
<use href="#B" x="61.5" y="40.2"/>
<use href="#B" x="134.2" y="40.8"/>
<use href="#B" x="235" y="39.3"/>
<use href="#B" x="159.8" y="38.4"/>
<use href="#B" x="82.4" y="43.1"/>
<use href="#B" x="233.2" y="42.2"/>
<use href="#B" x="241" y="41.1"/>
<use href="#B" x="214.9" y="39.9"/>
<use href="#B" x="87.9" y="40.4"/>
<use href="#B" x="101.8" y="38.5"/>
<use href="#B" x="117.5" y="40.9"/>
<use href="#B" x="44.3" y="38"/>
<use href="#B" x="185" y="38.1"/>
<use href="#B" x="213.6" y="38.6"/>
<use href="#B" x="257.8" y="40.8"/>
<use href="#B" x="60.1" y="42.2"/>
<use href="#B" x="210.3" y="40"/>
<use href="#B" x="87.7" y="39.6"/>
<use href="#B" x="134.9" y="40.8"/>
<use href="#B" x="135" y="39.8"/>
<use href="#B" x="143.9" y="39.9"/>
<use href="#B" x="147.1" y="40.2"/>
<use href="#B" x="162.6" y="37.7"/>
<use href="#B" x="49.5" y="40.5"/>
<use href="#B" x="122.1" y="36.4"/>
<use href="#B" x="299.4" y="37.3"/>
<use href="#B" x="205.6" y="42.3"/>
<use href="#B" x="94" y="39.9"/>
<use href="#B" x="210.1" y="40.5"/>
<use href="#B" x="198.8" y="41.2"/>
<use href="#B" x="256.3" y="40"/>
<use href="#B" x="197.2" y="40"/>
<use href="#B" x="204.7" y="40"/>
<use href="#B" x="94.2" y="40.7"/>
<use href="#B" x="268" y="39.1"/>
<use href="#B" x="147.5" y="40.9"/>
<use href="#B" x="53.7" y="40.7"/>
<use href="#B" x="177.1" y="40.2"/>
<use href="#B" x="142.5" y="39.9"/>
<use href="#B" x="225.3" y="38.9"/>
<use href="#B" x="267.1" y="41"/>
<use href="#B" x="118.4" y="37.8"/>
<use href="#B" x="125.9" y="40.4"/>
<use href="#B" x="50.8" y="36.9"/>
<use href="#B" x="103" y="37.2"/>
<use href="#B" x="134.3" y="38.1"/>
<use href="#B" x="171.5" y="38.6"/>
<use href="#B" x="102.2" y="40"/>
<use href="#B" x="193.4" y="40.6"/>
<use href="#B" x="291.9" y="42.1"/>
<use href="#B" x="145.7" y="40.1"/>
<use href="#B" x="208.4" y="40"/>
<use href="#B" x="233.4" y="39.3"/>
<use href="#B" x="237.5" y="40.7"/>
<use href="#B" x="63.4" y="42.2"/>
<use href="#B" x="262.7" y="39.7"/>
<use href="#B" x="264.4" y="38.7"/>
<use href="#B" x="93.2" y="40.5"/>
<use href="#B" x="250.7" y="39.7"/>
<use href="#B" x="245.5" y="38.9"/>
<use href="#B" x="227.5" y="42"/>
<use href="#B" x="60.9" y="38.8"/>
<use href="#B" x="223.1" y="39.7"/>
<use href="#B" x="140.8" y="38"/>
<use href="#B" x="42.9" y="37.6"/>
<use href="#B" x="116.5" y="41.5"/>
<use href="#B" x="313.9" y="34.8"/>
<use href="#B" x="131.8" y="41.1"/>
<use href="#B" x="195.2" y="40.1"/>
<use href="#B" x="77.7" y="40.7"/>
<use href="#B" x="136.6" y="39.5"/>
<use href="#B" x="122.9" y="40.9"/>
<use href="#B" x="89.8" y="41.6"/>
<use href="#B" x="236.5" y="38.2"/>
<use href="#B" x="264.5" y="39.7"/>
<use href="#B" x="45.3" y="40"/>
<use href="#B" x="254.1" y="42"/>
<use href="#B" x="236.7" y="43.6"/>
<use href="#B" x="95.3" y="39.8"/>
<use href="#B" x="250.8" y="41.2"/>
<use href="#B" x="166.6" y="40.1"/>
<use href="#B" x="228" y="41.9"/>
<use href="#B" x="101.5" y="41"/>
<use href="#B" x="271" y="38.2"/>
<use href="#B" x="232.3" y="37.6"/>
<use href="#B" x="240.4" y="38.2"/>
<use href="#B" x="307" y="42.4"/>
<use href="#B" x="237.1" y="38.2"/>
<use href="#B" x="227.3" y="38.9"/>
<use href="#B" x="139.6" y="36.5"/>
<use href="#B" x="112.5" y="38.6"/>
<use href="#B" x="71.5" y="41.9"/>
<use href="#B" x="83.8" y="38.9"/>
<use href="#B" x="190.8" y="40.9"/>
<use href="#B" x="231.9" y="38.6"/>
<use href="#B" x="245.7" y="39.1"/>
<use href="#B" x="248.8" y="41.3"/>
<use href="#B" x="55.2" y="39.6"/>
<use href="#B" x="89.2" y="39.5"/>
<use href="#B" x="66.8" y="40.8"/>
<use href="#B" x="264" y="40.7"/>
<use href="#B" x="41" y="36.9"/>
<use href="#B" x="184.2" y="40.9"/>
<use href="#B" x="129.2" y="36.4"/>
<use href="#B" x="180.6" y="39.1"/>
<use href="#B" x="313.6" y="34.9"/>
<use href="#B" x="200.1" y="37.7"/>
<use href="#B" x="114" y="40.6"/>
<use href="#B" x="271.3" y="39.5"/>
<use href="#B" x="76.7" y="38.2"/>
<use href="#B" x="306" y="39.6"/>
<use href="#B" x="99.2" y="40.2"/>
<use href="#B" x="211.1" y="40.5"/>
<use href="#B" x="49.3" y="38.3"/>
<use href="#B" x="106.3" y="41.4"/>
<use href="#B" x="241.8" y="37.4"/>
<use href="#B" x="82.7" y="41.9"/>
<use href="#B" x="179.4" y="41.2"/>
<use href="#B" x="222.9" y="40.2"/>
<use href="#B" x="292.4" y="37.8"/>
<use href="#B" x="217.5" y="35.2"/>
<use href="#B" x="131.7" y="38.5"/>
<use href="#B" x="65.5" y="40.5"/>
<use href="#B" x="119.7" y="40.1"/>
<use href="#B" x="223.3" y="41.4"/>
<use href="#B" x="93.5" y="38.3"/>
<use href="#B" x="186.2" y="39"/>
<use href="#B" x="106.4" y="39.3"/>
<use href="#B" x="73.7" y="38"/>
<use href="#B" x="250.8" y="39.7"/>
<use href="#B" x="59.2" y="38.2"/>
<use href="#B" x="206.9" y="41.7"/>
<use href="#B" x="87.4" y="41"/>
<use href="#B" x="216.1" y="40"/>
<use href="#B" x="186.1" y="41.9"/>
<use href="#B" x="83.6" y="39.2"/>
<use href="#B" x="48.7" y="41.5"/>
<use href="#B" x="135.9" y="39.3"/>
<use href="#B" x="199.6" y="41.4"/>
<use href="#B" x="106.7" y="40.3"/>
<use href="#B" x="214.3" y="38.5"/>
<use href="#B" x="62.6" y="39.7"/>
<use href="#B" x="46" y="39.9"/>
<use href="#B" x="167.9" y="37.7"/>
<use href="#B" x="96.2" y="39.2"/>
<use href="#B" x="146.1" y="37.9"/>
<use href="#B" x="229.9" y="37.9"/>
<use href="#B" x="83.9" y="39.3"/>
<use href="#B" x="40.9" y="39.9"/>
<use href="#B" x="149.3" y="37.5"/>
<use href="#B" x="59.1" y="40"/>
<use href="#B" x="162.9" y="39.6"/>
<use href="#B" x="111.6" y="40"/>
<use href="#B" x="79.4" y="41"/>
<use href="#B" x="203.2" y="36.9"/>
<use href="#B" x="108.1" y="39.4"/>
<use href="#B" x="95.9" y="41.2"/>
<use href="#B" x="104.9" y="41.7"/>
<use href="#B" x="90" y="39.3"/>
<use href="#B" x="135.3" y="39.1"/>
<use href="#B" x="194.5" y="42.6"/>
<use href="#B" x="292.8" y="43.6"/>
<use href="#B" x="46.4" y="39.5"/>
<use href="#B" x="77.1" y="40.2"/>
<use href="#B" x="264.2" y="41.4"/>
<use href="#B" x="77.5" y="39.5"/>
<use href="#B" x="178.1" y="40.9"/>
<use href="#B" x="161.5" y="42.1"/>
<use href="#B" x="88.8" y="35.3"/>
<use href="#B" x="139.3" y="39"/>
<use href="#B" x="53.7" y="39.4"/>
<use href="#B" x="257.3" y="39.7"/>
<use href="#B" x="231.8" y="38.4"/>
<use href="#B" x="60.5" y="40.5"/>
<use href="#B" x="172.8" y="42.7"/>
<use href="#B" x="42.4" y="41"/>
<use href="#B" x="259.4" y="38.2"/>
<use href="#B" x="75.8" y="37.8"/>
<use href="#B" x="195.2" y="39.2"/>
<use href="#B" x="129.8" y="39.1"/>
<use href="#B" x="88.5" y="41.8"/>
<use href="#B" x="185.4" y="38"/>
<use href="#B" x="152.6" y="40.6"/>
<use href="#B" x="69.3" y="43.3"/>
<use href="#B" x="160.7" y="39.2"/>
<use href="#B" x="228" y="38.8"/>
<use href="#B" x="203.9" y="41.4"/>
<use href="#B" x="82.6" y="39.2"/>
<use href="#B" x="243.1" y="37.3"/>
<use href="#B" x="57" y="41.8"/>
<use href="#B" x="195.3" y="38"/>
<use href="#B" x="214.3" y="41.1"/>
<use href="#B" x="175.2" y="42.1"/>
<use href="#B" x="133.1" y="38.3"/>
<use href="#B" x="129.1" y="37.3"/>
<use href="#B" x="61.4" y="36"/>
<use href="#B" x="84.5" y="39"/>
<use href="#B" x="242.4" y="41.4"/>
<use href="#B" x="61.8" y="39.9"/>
<use href="#B" x="182.9" y="39.2"/>
<use href="#B" x="151.4" y="40.9"/>
<use href="#B" x="270.7" y="39.7"/>
<use href="#B" x="226.6" y="35.8"/>
<use href="#B" x="63.5" y="42.7"/>
<use href="#B" x="208.6" y="36.3"/>
<use href="#B" x="211.8" y="41.1"/>
<use href="#B" x="170.3" y="37.7"/>
<use href="#B" x="242.8" y="41.1"/>
<use href="#B" x="226.8" y="39.2"/>
<use href="#B" x="245.2" y="40.8"/>
<use href="#B" x="264.9" y="39.6"/>
<use href="#R" x="220.4" y="43.4"/>
<use href="#R" x="170" y="42.3"/>
<use href="#R" x="111.3" y="46.8"/>
<use href="#R" x="106.9" y="42.2"/>
<use href="#R" x="202.7" y="38.2"/>
<use href="#R" x="231.5" y="38.6"/>
<use href="#R" x="195.9" y="54.1"/>
<use href="#R" x="131.1" y="39.8"/>
<use href="#R" x="82" y="40.9"/>
<use href="#R" x="61.1" y="44.9"/>
<use href="#R" x="42.9" y="41.7"/>
<use href="#R" x="236.1" y="38.3"/>
<use href="#R" x="98.9" y="40.1"/>
<use href="#R" x="244.4" y="38"/>
<use href="#R" x="245.9" y="40.8"/>
<use href="#R" x="298.3" y="41"/>
<use href="#R" x="229.8" y="37.5"/>
<use href="#R" x="310.5" y="35.1"/>
<use href="#R" x="239.9" y="43.8"/>
<use href="#R" x="226.1" y="37.2"/>
<use href="#R" x="80.7" y="42.7"/>
<use href="#R" x="85.7" y="74.4"/>
<use href="#R" x="42.3" y="31.6"/>
<use href="#R" x="150.9" y="38.5"/>
<use href="#R" x="298.9" y="41"/>
<use href="#R" x="288.7" y="43.4"/>
<use href="#R" x="155.5" y="42.2"/>
<use href="#R" x="114.6" y="43.4"/>
<use href="#R" x="251.5" y="43.8"/>
<use href="#R" x="194" y="36.1"/>
<use href="#R" x="230.4" y="38.8"/>
<use href="#R" x="180.2" y="42.7"/>
<use href="#R" x="149.8" y="38.1"/>
<use href="#R" x="320.9" y="40.6"/>
<use href="#R" x="105" y="39.9"/>
<use href="#R" x="195.8" y="38.8"/>
<use href="#R" x="168.3" y="39.4"/>
<use href="#R" x="142.9" y="37.3"/>
<use href="#R" x="304.9" y="41.5"/>
<use href="#R" x="274.6" y="52.6"/>
<use href="#R" x="234.5" y="30.1"/>
<use href="#R" x="204.8" y="39.7"/>
<use href="#R" x="183.8" y="41.7"/>
<use href="#R" x="284.1" y="38"/>
<use href="#R" x="294.8" y="40.5"/>
<use href="#R" x="128.4" y="40.6"/>
<use href="#R" x="269.3" y="36.8"/>
<use href="#R" x="170.5" y="42.4"/>
<use href="#R" x="276.7" y="35.9"/>
<use href="#R" x="40.5" y="61.8"/>
<use href="#R" x="52" y="48.9"/>
<use href="#R" x="118.3" y="43.4"/>
<use href="#R" x="50.4" y="51.9"/>
<use href="#R" x="154.3" y="35.8"/>
<use href="#R" x="211.9" y="37.6"/>
<use href="#R" x="200.9" y="49.7"/>
<use href="#R" x="293.6" y="43"/>
<use href="#R" x="179.1" y="39.9"/>
<use href="#R" x="86" y="46.4"/>
<use href="#R" x="124" y="44.5"/>
<use href="#R" x="268.9" y="39.6"/>
<use href="#R" x="231.4" y="43.1"/>
<use href="#R" x="205.5" y="64.7"/>
<use href="#R" x="216.5" y="41"/>
<use href="#R" x="210.6" y="48.1"/>
<use href="#R" x="148.6" y="46.3"/>
<use href="#R" x="152.4" y="58.3"/>
<use href="#R" x="148.1" y="36.1"/>
<use href="#R" x="214.2" y="69.1"/>
<use href="#R" x="213.8" y="37.6"/>
<use href="#R" x="130.4" y="38"/>
<use href="#R" x="190.6" y="44"/>
<use href="#R" x="249.2" y="45.4"/>
<use href="#R" x="81.3" y="56.6"/>
<use href="#R" x="122" y="57.8"/>
<use href="#R" x="314.7" y="27.9"/>
<use href="#R" x="292.5" y="39.7"/>
<use href="#R" x="296.9" y="53.3"/>
<use href="#R" x="65.2" y="39"/>
<use href="#R" x="204.8" y="41.5"/>
<use href="#R" x="161.6" y="37.7"/>
<use href="#R" x="60.1" y="33.6"/>
<use href="#R" x="248.1" y="40.8"/>
<use href="#R" x="170.9" y="38.5"/>
<use href="#R" x="80.9" y="41.2"/>
<use href="#R" x="140.3" y="44.3"/>
<use href="#R" x="140.7" y="39.5"/>
<use href="#R" x="211.6" y="41.8"/>
<use href="#R" x="112.6" y="39.3"/>
<use href="#R" x="270.6" y="40.7"/>
<use href="#R" x="221.8" y="41.3"/>
<use href="#R" x="289.5" y="39.7"/>
<use href="#R" x="291.2" y="42"/>
<use href="#R" x="43.5" y="39.9"/>
<use href="#R" x="133.3" y="37.3"/>
<use href="#R" x="230.7" y="42.7"/>
<use href="#R" x="229.5" y="38.4"/>
<use href="#R" x="267" y="62.9"/>
<use href="#R" x="48.1" y="35.8"/>
<use href="#R" x="178.2" y="38.3"/>
<use href="#R" x="48.9" y="38.2"/>
<use href="#R" x="114.8" y="38.6"/>
<use href="#R" x="318.1" y="46"/>
<use href="#R" x="64.4" y="44.3"/>
<use href="#R" x="112.7" y="49.8"/>
<use href="#R" x="174.2" y="42"/>
<use href="#R" x="288.7" y="37.3"/>
<use href="#R" x="263.6" y="36.6"/>
<use href="#R" x="85.2" y="34.7"/>
<use href="#R" x="234.2" y="41.2"/>
<use href="#R" x="298.8" y="48.3"/>
<use href="#R" x="282.2" y="38.5"/>
<use href="#R" x="95.8" y="37.5"/>
<use href="#R" x="50.7" y="42.6"/>
<use href="#R" x="305.8" y="34.4"/>
<use href="#R" x="65.7" y="38"/>
<use href="#R" x="248.5" y="52.6"/>
<use href="#R" x="245.3" y="39.6"/>
<use href="#R" x="228.8" y="43.1"/>
<use href="#R" x="67.4" y="39.5"/>
<use href="#R" x="94.8" y="79.8"/>
<use href="#R" x="129.3" y="37"/>
<use href="#R" x="253.9" y="48.1"/>
<use href="#R" x="293.5" y="45.2"/>
<use href="#R" x="232.3" y="36.9"/>
<use href="#R" x="324.1" y="44.3"/>
<use href="#R" x="267.3" y="43.2"/>
<use href="#R" x="49.7" y="37.6"/>
<use href="#R" x="173.7" y="38.3"/>
<use href="#R" x="71.2" y="34.6"/>
<use href="#R" x="278.9" y="37.8"/>
<use href="#R" x="258.3" y="58.3"/>
<use href="#R" x="277.9" y="38.2"/>
<use href="#R" x="243.4" y="42.2"/>
<use href="#R" x="192.3" y="58.3"/>
<use href="#R" x="265.1" y="40.7"/>
<use href="#R" x="157.9" y="46.7"/>
<use href="#R" x="304.1" y="39.6"/>
<use href="#R" x="176.3" y="39.4"/>
<use href="#R" x="280.9" y="36.4"/>
<use href="#R" x="116.8" y="41.4"/>
<use href="#R" x="295.2" y="52.1"/>
<use href="#R" x="119.2" y="45.9"/>
<use href="#R" x="92.7" y="42.6"/>
<use href="#R" x="134.6" y="57.9"/>
<use href="#R" x="261.9" y="41.8"/>
<use href="#R" x="100.2" y="39.9"/>
<use href="#R" x="304.3" y="41.5"/>
<use href="#R" x="237.8" y="61.2"/>
<use href="#R" x="132.7" y="37.2"/>
<use href="#R" x="289.9" y="44.3"/>
<use href="#R" x="255.1" y="35.2"/>
<use href="#R" x="309.9" y="35.5"/>
<use href="#R" x="301.5" y="43.5"/>
<use href="#R" x="74.8" y="61.3"/>
<use href="#R" x="42.6" y="40.5"/>
<use href="#R" x="203.7" y="39.7"/>
<use href="#R" x="199.3" y="39.4"/>
<use href="#R" x="165.1" y="35"/>
<use href="#R" x="47.3" y="37.2"/>
<use href="#R" x="249.7" y="39.3"/>
<use href="#R" x="188.4" y="45.9"/>
<use href="#R" x="55.5" y="42.6"/>
<use href="#R" x="77.7" y="50"/>
<use href="#R" x="164.2" y="67.4"/>
<use href="#R" x="49" y="44.5"/>
<use href="#R" x="299" y="37.6"/>
<use href="#R" x="73" y="38.2"/>
<use href="#R" x="104.3" y="39"/>
<use href="#R" x="56.3" y="47.4"/>
<use href="#R" x="294.3" y="40.8"/>
<use href="#R" x="265" y="30.4"/>
<use href="#R" x="207.5" y="34.5"/>
<use href="#R" x="177.8" y="37"/>
<use href="#R" x="238.2" y="42.1"/>
<use href="#R" x="307.1" y="42.9"/>
<use href="#R" x="302" y="45.5"/>
<use href="#R" x="278.6" y="35.9"/>
<use href="#R" x="307" y="68.1"/>
<use href="#R" x="157.2" y="36.8"/>
<use href="#R" x="44" y="42.3"/>
<use href="#R" x="224.1" y="58.7"/>
<use href="#R" x="65" y="39.4"/>
<use href="#R" x="93.8" y="35.1"/>
<use href="#R" x="196.6" y="41.4"/>
<use href="#R" x="296.2" y="38.6"/>
<use href="#R" x="154.8" y="41"/>
<use href="#R" x="106" y="36.8"/>
<use href="#R" x="224.8" y="41.6"/>
<use href="#R" x="52.8" y="41.5"/>
<use href="#R" x="59.3" y="41"/>
<use href="#R" x="144.8" y="46.2"/>
<use href="#R" x="57" y="42.5"/>
<use href="#R" x="105" y="43.9"/>
<use href="#R" x="90" y="40.2"/>
<use href="#R" x="174.3" y="40"/>
<use href="#R" x="52.3" y="39.1"/>
<use href="#R" x="292.5" y="48.2"/>
<use href="#R" x="149.6" y="36.2"/>
<use href="#R" x="158.1" y="45.6"/>
<use href="#R" x="302.1" y="40.1"/>
<use href="#R" x="151.5" y="42.3"/>
<use href="#R" x="160" y="39"/>
<use href="#R" x="136.9" y="38"/>
<use href="#R" x="114.6" y="59.2"/>
<use href="#R" x="61.4" y="37.7"/>
<use href="#R" x="308.1" y="41.1"/>
<use href="#R" x="55.4" y="45.1"/>
<use href="#R" x="188.6" y="50.2"/>
<use href="#R" x="87" y="37.2"/>
<use href="#R" x="145.6" y="39.2"/>
<use href="#R" x="140.4" y="70.5"/>
<use href="#R" x="298.1" y="36.6"/>
<use href="#R" x="258.1" y="34.2"/>
<use href="#R" x="150.2" y="48.1"/>
<use href="#R" x="193.5" y="41"/>
<use href="#R" x="119.1" y="55.3"/>
<use href="#R" x="222.4" y="65.9"/>
<use href="#R" x="96.4" y="37.7"/>
<use href="#R" x="230" y="41.1"/>
<use href="#R" x="51.5" y="41"/>
<use href="#R" x="253.2" y="50"/>
<use href="#R" x="277.5" y="49.1"/>
<use href="#R" x="70.1" y="38.1"/>
<use href="#R" x="135.5" y="49.6"/>
<use href="#R" x="316" y="37.3"/>
<use href="#R" x="262.4" y="39"/>
<use href="#R" x="95" y="42.3"/>
<use href="#R" x="254.9" y="37"/>
<use href="#R" x="64.4" y="45.9"/>
<use href="#R" x="89.6" y="37.2"/>
<use href="#R" x="166.7" y="37.1"/>
<use href="#R" x="174.6" y="38.4"/>
<use href="#R" x="317.8" y="38.2"/>
<use href="#R" x="284.3" y="32.4"/>
<use href="#R" x="161.9" y="41.9"/>
<use href="#R" x="187.5" y="78.6"/>
<use href="#R" x="205.1" y="41.6"/>
<use href="#R" x="79.7" y="46.7"/>
<use href="#R" x="209.9" y="38.2"/>
<use href="#R" x="109.8" y="38.9"/>
<use href="#R" x="253" y="34.8"/>
<use href="#R" x="185" y="36.1"/>
<use href="#R" x="54.7" y="38.8"/>
<use href="#R" x="205.8" y="36.8"/>
<use href="#R" x="303.3" y="37.5"/>
<use href="#R" x="101.7" y="42.3"/>
<use href="#R" x="248" y="37.5"/>
<use href="#R" x="252.3" y="45.2"/>
<use href="#R" x="96.8" y="68.9"/>
<use href="#R" x="148.9" y="46.9"/>
<use href="#R" x="55.1" y="39.7"/>
<use href="#R" x="226.8" y="38.5"/>
<use href="#R" x="263.2" y="37"/>
<use href="#R" x="275.5" y="34.5"/>
<use href="#R" x="220.9" y="43.4"/>
<use href="#R" x="165" y="44.2"/>
<use href="#R" x="121" y="40.7"/>
<use href="#R" x="299.8" y="46.9"/>
<use href="#R" x="165.9" y="46.7"/>
<use href="#R" x="137.7" y="38.8"/>
<use href="#R" x="252.8" y="41.5"/>
<use href="#R" x="216.5" y="41"/>
<use href="#R" x="130" y="40.2"/>
<use href="#R" x="164.8" y="46.4"/>
<use href="#R" x="180.9" y="59.1"/>
<use href="#R" x="169" y="36.6"/>
<use href="#R" x="214.7" y="38.3"/>
<use href="#R" x="82" y="40.1"/>
<use href="#R" x="102.6" y="35.7"/>
<use href="#R" x="296.6" y="39.7"/>
<use href="#R" x="135.2" y="50.5"/>
<use href="#R" x="237.3" y="48.9"/>
<use href="#R" x="271.9" y="38"/>
<use href="#R" x="295.5" y="53.1"/>
<use href="#R" x="226.3" y="39.1"/>
<use href="#R" x="285.4" y="46.2"/>
<use href="#R" x="124.7" y="43.9"/>
<use href="#R" x="254.5" y="41.3"/>
<use href="#R" x="177.2" y="44.8"/>
<use href="#R" x="174.4" y="39.4"/>
<use href="#R" x="313.6" y="44"/>
<use href="#R" x="161.5" y="38.3"/>
<use href="#R" x="108.6" y="43.3"/>
<use href="#R" x="199.7" y="41.1"/>
<use href="#R" x="232.1" y="39.7"/>
<use href="#R" x="69.4" y="39.1"/>
<use href="#B" x="289.4" y="44.4"/>
<use href="#B" x="275.8" y="44.3"/>
<use href="#B" x="310.6" y="42.5"/>
<use href="#B" x="309.4" y="40.2"/>
<use href="#B" x="323.7" y="36.2"/>
<use href="#B" x="315.3" y="35.8"/>
<use href="#B" x="282.6" y="45.6"/>
<use href="#B" x="304.7" y="46.2"/>
<use href="#B" x="318.5" y="43.8"/>
<use href="#B" x="293.5" y="35.8"/>
<use href="#B" x="275.6" y="46.1"/>
<use href="#B" x="279.1" y="34.8"/>
<use href="#B" x="283.7" y="47.6"/>
<use href="#B" x="323.2" y="34.9"/>
<use href="#B" x="293.1" y="36.3"/>
<use href="#B" x="325.6" y="42.3"/>
<use href="#B" x="310" y="42.7"/>
<use href="#B" x="296.2" y="44.3"/>
<use href="#B" x="296.2" y="42.2"/>
<use href="#B" x="296.4" y="44.8"/>
<use href="#B" x="310.8" y="39"/>
<use href="#B" x="275.6" y="45.1"/>
<use href="#B" x="294.8" y="38"/>
<use href="#B" x="318.8" y="43.1"/>
<use href="#B" x="280.6" y="39.3"/>
<use href="#B" x="286.4" y="36"/>
<use href="#B" x="290.2" y="42.4"/>
<use href="#B" x="311.4" y="47.6"/>
<use href="#B" x="274.4" y="41.5"/>
<use href="#B" x="322" y="35.1"/>
<use href="#B" x="297" y="48.4"/>
<use href="#B" x="297.1" y="43"/>
<use href="#B" x="314.9" y="38.8"/>
<use href="#B" x="304.9" y="41.2"/>
<use href="#B" x="280.2" y="36.6"/>
<use href="#B" x="293.1" y="35.8"/>
<use href="#B" x="325.9" y="47.6"/>
<use href="#B" x="281.1" y="39.1"/>
<use href="#B" x="304" y="43.3"/>
<use href="#B" x="300.1" y="35"/>
<use href="#B" x="316.4" y="39.6"/>
<use href="#B" x="279.8" y="37.5"/>
<use href="#B" x="294.8" y="40.6"/>
<use href="#B" x="315.4" y="37.5"/>
<use href="#B" x="317.5" y="41.9"/>
<use href="#B" x="326.5" y="45.9"/>
<use href="#B" x="302" y="37.7"/>
<use href="#B" x="308.8" y="35.9"/>
<use href="#B" x="310.7" y="45.7"/>
<use href="#B" x="286.6" y="33"/>
<use href="#B" x="290.2" y="43"/>
<use href="#B" x="324.9" y="43"/>
<use href="#B" x="322.9" y="41.2"/>
<use href="#B" x="325.9" y="45.8"/>
<use href="#B" x="310.2" y="44.6"/>
<use href="#B" x="290.1" y="44.4"/>
<use href="#B" x="309.6" y="36.3"/>
<use href="#B" x="288.5" y="41.2"/>
<use href="#B" x="308.7" y="36.6"/>
<use href="#B" x="295.3" y="43.3"/>
<use href="#B" x="280.2" y="38"/>
<use href="#B" x="290" y="40.5"/>
<use href="#B" x="280.3" y="39.6"/>
<use href="#B" x="303.8" y="45.6"/>
<use href="#B" x="324.7" y="44.4"/>
<use href="#B" x="276.2" y="50.6"/>
<use href="#B" x="309.4" y="39.8"/>
<use href="#B" x="288.1" y="41.2"/>
<use href="#B" x="301.2" y="35.5"/>
<use href="#B" x="322.2" y="32.9"/>
<use href="#B" x="322.1" y="40.1"/>
<use href="#B" x="281.3" y="44.4"/>
<use href="#B" x="317.1" y="36.8"/>
<use href="#B" x="312" y="53.6"/>
<use href="#B" x="286.1" y="39.7"/>
<use href="#B" x="326.4" y="49.5"/>
<use href="#B" x="293.7" y="32.2"/>
<use href="#B" x="273.7" y="37.9"/>
<use href="#B" x="307.8" y="36.5"/>
<use href="#B" x="310.8" y="43.6"/>
<use href="#B" x="303.3" y="41.7"/>
<use href="#B" x="325.9" y="44.7"/>
<use href="#B" x="323" y="41.8"/>
<use href="#B" x="271.8" y="36.2"/>
<use href="#B" x="283" y="43.8"/>
<use href="#B" x="310.9" y="45.9"/>
<use href="#B" x="324.2" y="39.4"/>
<use href="#B" x="278.7" y="33.2"/>
<use href="#B" x="286.7" y="32.5"/>
<use href="#B" x="295.3" y="39"/>
<use href="#B" x="283.2" y="51.2"/>
<use href="#B" x="295.8" y="40.3"/>
<use href="#B" x="280.6" y="38.8"/>
<use href="#B" x="272.6" y="37.5"/>
<use href="#B" x="297.8" y="46.8"/>
<use href="#B" x="307.2" y="36.3"/>
<use href="#B" x="303.5" y="42.4"/>
<use href="#B" x="325.3" y="44.1"/>
<use href="#B" x="286.4" y="32.1"/>
<use href="#B" x="301.8" y="39.1"/>
<use href="#B" x="276.4" y="45.6"/>
<use href="#B" x="294.7" y="39"/>
<use href="#B" x="289.5" y="42.5"/>
<use href="#B" x="282.8" y="45.8"/>
<use href="#B" x="300.4" y="30.2"/>
<use href="#B" x="288.1" y="42.8"/>
<use href="#B" x="307.8" y="37.3"/>
<use href="#B" x="289" y="43.2"/>
<use href="#B" x="294.8" y="40.7"/>
<use href="#B" x="288.1" y="37"/>
<use href="#B" x="276.3" y="47"/>
<use href="#B" x="316.1" y="34.4"/>
<use href="#B" x="281.5" y="47.4"/>
<use href="#B" x="304.5" y="45.3"/>
<use href="#B" x="310" y="43.2"/>
<use href="#B" x="287.3" y="35.7"/>
<use href="#B" x="302.4" y="38.5"/>
<use href="#B" x="302.7" y="37.9"/>
<use href="#B" x="282.8" y="45.2"/>
<use href="#B" x="272" y="31.6"/>
<use href="#B" x="279.8" y="36.3"/>
<use href="#B" x="288.5" y="43.3"/>
<use href="#B" x="325.3" y="50.7"/>
<use href="#B" x="316.6" y="37.3"/>
<use href="#B" x="287.3" y="36.3"/>
<use href="#B" x="307.2" y="31.4"/>
<use href="#B" x="276.3" y="48.1"/>
<use href="#B" x="308.4" y="38"/>
<use href="#B" x="307.7" y="33.4"/>
<use href="#B" x="288.2" y="37.2"/>
<use href="#B" x="301.8" y="37.2"/>
<use href="#B" x="271.4" y="34.1"/>
<use href="#B" x="283.2" y="45.4"/>
<use href="#B" x="293.1" y="31"/>
<use href="#B" x="286.2" y="35.5"/>
<use href="#B" x="287" y="33.9"/>
<use href="#B" x="326" y="46.6"/>
<use href="#B" x="311.3" y="44.4"/>
<use href="#B" x="300.7" y="31.5"/>
<use href="#B" x="321.4" y="34.1"/>
<use href="#B" x="302.4" y="38.7"/>
<use href="#B" x="308.9" y="39.8"/>
<use href="#B" x="295" y="37.6"/>
<use href="#B" x="275.7" y="48.5"/>
<use href="#B" x="283.1" y="45.4"/>
<use href="#B" x="302.8" y="40.4"/>
<use href="#B" x="296.8" y="49"/>
<use href="#B" x="310.7" y="43.4"/>
<use href="#B" x="294.5" y="31.9"/>
<use href="#B" x="290.7" y="46.6"/>
<use href="#B" x="273.8" y="41"/>
<use href="#B" x="310.9" y="44.8"/>
<use href="#B" x="280.8" y="46"/>
<use href="#B" x="303.9" y="42.7"/>
<use href="#B" x="317.4" y="43.6"/>
<use href="#B" x="272.1" y="35.7"/>
<use href="#B" x="272.8" y="38.5"/>
<use href="#B" x="294.6" y="33.1"/>
<use href="#B" x="322.4" y="37.9"/>
<use href="#B" x="296.8" y="44.3"/>
<use href="#B" x="318.3" y="46.7"/>
<use href="#B" x="290.2" y="50.7"/>
<use href="#B" x="309.6" y="39.1"/>
<use href="#B" x="280.1" y="40"/>
<use href="#B" x="303.7" y="40.1"/>
<use href="#B" x="318.5" y="42.9"/>
<use href="#B" x="316" y="38.7"/>
<use href="#B" x="273.2" y="40.4"/>
<use href="#B" x="297.6" y="47.1"/>
<use href="#B" x="323.8" y="40.2"/>
<use href="#B" x="301.1" y="35.4"/>
<use href="#B" x="280.6" y="35.8"/>
<use href="#B" x="322.6" y="34.9"/>
<use href="#B" x="303.6" y="42.6"/>
<use href="#B" x="276" y="45.4"/>
<use href="#B" x="272.7" y="39.7"/>
<use href="#B" x="286.9" y="37.3"/>
<use href="#B" x="303.9" y="43.3"/>
<use href="#B" x="323.2" y="36.9"/>
<use href="#B" x="316.3" y="38.4"/>
<use href="#B" x="322.3" y="35.7"/>
<use href="#B" x="297.6" y="45.8"/>
<use href="#B" x="325.1" y="43.3"/>
<use href="#B" x="272.6" y="40.1"/>
<use href="#B" x="275.9" y="45.3"/>
<use href="#B" x="274.6" y="39.4"/>
<use href="#B" x="324.3" y="41.7"/>
<use href="#B" x="319.4" y="50.1"/>
<use href="#B" x="311.1" y="45.7"/>
<use href="#B" x="302.8" y="40.9"/>
<use href="#B" x="296.7" y="45.8"/>
<use href="#B" x="304" y="43.1"/>
<use href="#B" x="318" y="39"/>
<use href="#B" x="272.8" y="37.4"/>
<use href="#B" x="325.4" y="44.7"/>
<use href="#B" x="323" y="36.5"/>
<use href="#B" x="280.7" y="39.6"/>
<use href="#B" x="281.4" y="42.5"/>
<use href="#B" x="296" y="44.1"/>
<use href="#B" x="314.7" y="33.1"/>
<use href="#B" x="316" y="38.5"/>
<use href="#B" x="311.3" y="41.7"/>
<use href="#B" x="275" y="41.8"/>
<use href="#B" x="311.3" y="47.4"/>
<use href="#B" x="290.6" y="46.6"/>
<use href="#B" x="297.2" y="46.5"/>
<use href="#B" x="304.3" y="43.3"/>
<use href="#B" x="308.8" y="39"/>
<use href="#B" x="274.9" y="43"/>
<use href="#B" x="279.7" y="35.2"/>
<use href="#B" x="281.5" y="44.2"/>
<use href="#B" x="288.3" y="41.8"/>
<use href="#B" x="282" y="42"/>
<use href="#B" x="279.6" y="37.4"/>
<use href="#B" x="281.9" y="39.5"/>
<use href="#B" x="275.2" y="42.1"/>
<use href="#B" x="317.1" y="41.6"/>
<use href="#B" x="295.6" y="41.5"/>
<use href="#B" x="321.5" y="37.3"/>
<use href="#B" x="315.7" y="36.9"/>
<use href="#B" x="289.3" y="41.3"/>
<use href="#B" x="295.7" y="42"/>
<use href="#B" x="315" y="32.8"/>
<use href="#B" x="310.9" y="41.8"/>
<use href="#B" x="282.5" y="39.6"/>
<use href="#B" x="274.3" y="41.8"/>
<use href="#B" x="280.9" y="36.8"/>
<use href="#B" x="280.5" y="42.2"/>
<use href="#B" x="275.5" y="40.6"/>
<use href="#B" x="285.9" y="33.8"/>
<use href="#B" x="273.3" y="35"/>
<use href="#B" x="302" y="35.9"/>
<use href="#B" x="319" y="46.7"/>
<use href="#B" x="289.6" y="44.6"/>
<use href="#B" x="294.7" y="37.1"/>
<use href="#B" x="275.1" y="42.5"/>
<use href="#B" x="321.8" y="32.7"/>
<use href="#B" x="323.2" y="37.9"/>
<use href="#B" x="312.1" y="50.5"/>
<use href="#B" x="271.4" y="29.4"/>
<use href="#B" x="304.2" y="40.7"/>
<use href="#B" x="302.4" y="39.7"/>
<use href="#B" x="314.8" y="31.4"/>
<use href="#B" x="282.4" y="43.6"/>
<use href="#B" x="273.1" y="36.9"/>
<use href="#B" x="279.1" y="32.5"/>
<use href="#B" x="297.4" y="40.8"/>
<use href="#B" x="311.4" y="49.5"/>
<use href="#B" x="281.6" y="41.9"/>
<use href="#B" x="297.6" y="45.4"/>
<use href="#B" x="307.6" y="32"/>
<use href="#B" x="276.7" y="44.4"/>
<use href="#B" x="310.1" y="41.5"/>
<use href="#B" x="324.4" y="43.1"/>
<use href="#B" x="297.9" y="43.9"/>
<use href="#B" x="278.7" y="32.8"/>
<use href="#B" x="289.1" y="38.3"/>
<use href="#B" x="290.7" y="50.5"/>
<use href="#B" x="271.8" y="30.2"/>
<use href="#B" x="293.7" y="33.9"/>
<use href="#B" x="273.5" y="37.6"/>
<use href="#B" x="286.8" y="32.6"/>
<use href="#B" x="323.2" y="39.3"/>
<use href="#B" x="303.8" y="37.1"/>
<use href="#B" x="273.7" y="40.9"/>
<use href="#B" x="282.4" y="40"/>
<use href="#B" x="280.1" y="41"/>
<use href="#B" x="295.5" y="42.1"/>
<use href="#B" x="279" y="34.3"/>
<use href="#B" x="300.8" y="35.5"/>
<use href="#B" x="316.8" y="38.4"/>
<use href="#B" x="323.1" y="39.7"/>
<use href="#B" x="307.7" y="38.5"/>
<use href="#B" x="317.8" y="46.7"/>
<use href="#B" x="282.8" y="44.6"/>
<use href="#B" x="287.5" y="40.8"/>
<use href="#B" x="283.7" y="43.7"/>
<use href="#B" x="288.8" y="38.6"/>
<use href="#B" x="293.2" y="37.1"/>
<use href="#B" x="308.5" y="35"/>
<use href="#B" x="321.7" y="35.6"/>
<use href="#B" x="322.2" y="30.4"/>
<use href="#B" x="308.2" y="34.4"/>
<use href="#B" x="279.4" y="35.1"/>
<use href="#B" x="314.8" y="32.1"/>
<use href="#B" x="300.9" y="35.6"/>
<use href="#B" x="308.4" y="33.6"/>
<use href="#B" x="273.7" y="37.4"/>
<use href="#B" x="314.4" y="31.5"/>
<use href="#B" x="272.1" y="32.7"/>
<use href="#B" x="296.2" y="45.5"/>
<use href="#B" x="317.2" y="45.2"/>
<use href="#B" x="307.5" y="31.6"/>
<use href="#B" x="325.5" y="47.2"/>
<use href="#B" x="322.8" y="35.8"/>
<use href="#B" x="325.7" y="47.4"/>
<use href="#B" x="289.6" y="42.6"/>
<use href="#B" x="318.8" y="47.5"/>
<use href="#B" x="274.3" y="37.1"/>
<use href="#B" x="317.2" y="40.9"/>
<use href="#B" x="274" y="38.7"/>
<use href="#B" x="315.6" y="32.9"/>
<use href="#B" x="297" y="46.1"/>
<use href="#B" x="302.8" y="41.1"/>
<use href="#B" x="300.2" y="36.1"/>
<use href="#B" x="299.9" y="33.8"/>
<use href="#B" x="318.8" y="46.9"/>
<use href="#B" x="281.4" y="43.7"/>
<use href="#B" x="323.6" y="42.8"/>
<use href="#B" x="283.4" y="49.9"/>
<use href="#B" x="280.4" y="35"/>
<use href="#B" x="325.9" y="45.3"/>
<use href="#B" x="293.8" y="39.2"/>
<use href="#B" x="304.9" y="46.9"/>
<use href="#B" x="296.4" y="48.6"/>
<use href="#B" x="274.5" y="44.6"/>
<use href="#B" x="325.5" y="46.4"/>
<use href="#B" x="303.2" y="42.6"/>
<use href="#B" x="297.4" y="44.9"/>
<use href="#B" x="289.6" y="47.2"/>
<use href="#B" x="275.3" y="47.4"/>
<use href="#B" x="304.7" y="51.1"/>
<use href="#B" x="271.7" y="32.8"/>
<use href="#B" x="326.1" y="48.6"/>
<use href="#B" x="317.9" y="40.4"/>
<use href="#B" x="278.8" y="33.5"/>
<use href="#B" x="314.8" y="32.6"/>
<use href="#B" x="294.2" y="34.6"/>
<use href="#B" x="324.2" y="44.4"/>
<use href="#B" x="302.2" y="39.1"/>
<use href="#B" x="314.7" y="32.7"/>
<use href="#B" x="278.8" y="31.7"/>
<use href="#B" x="296.1" y="36.5"/>
<use href="#B" x="289.3" y="43.1"/>
<use href="#B" x="287.7" y="38.7"/>
<use href="#B" x="318.3" y="46.2"/>
<use href="#B" x="287.8" y="35"/>
<use href="#B" x="273.8" y="40.5"/>
<use href="#B" x="286.8" y="31.7"/>
<use href="#B" x="286.6" y="40.1"/>
<use href="#B" x="275.6" y="45.8"/>
<use href="#B" x="273.8" y="41.1"/>
<use href="#B" x="290.9" y="45.7"/>
<use href="#B" x="302.6" y="42.6"/>
<use href="#B" x="274.3" y="39.6"/>
<use href="#B" x="317.6" y="42.8"/>
<use href="#B" x="276.2" y="49.3"/>
<use href="#B" x="323.6" y="42.8"/>
<use href="#B" x="316.5" y="39.7"/>
<use href="#B" x="288.8" y="47.7"/>
<use href="#B" x="286.3" y="36.8"/>
<use href="#B" x="308.6" y="29.9"/>
<use href="#B" x="317" y="45.2"/>
<use href="#B" x="287.6" y="32.6"/>
<use href="#B" x="289.3" y="45.3"/>
<use href="#B" x="293.9" y="31.9"/>
<use href="#B" x="288.3" y="41.5"/>
<use href="#B" x="311.8" y="48.1"/>
<use href="#B" x="304.1" y="40.1"/>
<use href="#B" x="319" y="48.7"/>
<use href="#B" x="316.6" y="40.8"/>
<use href="#B" x="324.5" y="43.6"/>
<use href="#B" x="301.6" y="38.2"/>
<use href="#B" x="312.1" y="48"/>
<use href="#B" x="296.2" y="46.2"/>
<use href="#B" x="301.4" y="32.5"/>
<use href="#B" x="304.1" y="43"/>
<use href="#B" x="279.3" y="35.5"/>
<use href="#B" x="325" y="43.2"/>
<use href="#B" x="300.5" y="35.5"/>
<use href="#B" x="297" y="46.4"/>
<use href="#R" x="98.7" y="57"/>
<use href="#R" x="97.1" y="42.2"/>
<use href="#R" x="186.1" y="41.6"/>
<use href="#R" x="219.4" y="51.8"/>
<use href="#R" x="68.2" y="77.2"/>
<use href="#R" x="248.4" y="45.5"/>
<use href="#R" x="289.2" y="39.7"/>
<use href="#R" x="319.8" y="39.2"/>
<use href="#R" x="212.8" y="43.2"/>
<use href="#R" x="287.2" y="40.2"/>
<use href="#R" x="186.2" y="39.6"/>
<use href="#R" x="308.7" y="40.7"/>
<use href="#R" x="71.6" y="66.4"/>
<use href="#R" x="305" y="40.3"/>
<use href="#R" x="293.5" y="39.4"/>
<use href="#R" x="66.9" y="27.1"/>
<use href="#R" x="104.4" y="39.4"/>
<use href="#R" x="71.4" y="62.6"/>
<use href="#R" x="178.7" y="44"/>
<use href="#R" x="42.7" y="63.4"/>
<use href="#R" x="229.5" y="38.9"/>
<use href="#R" x="280.1" y="43.2"/>
<use href="#R" x="79.7" y="38.3"/>
<use href="#R" x="243.4" y="40.9"/>
<use href="#R" x="118.7" y="37.5"/>
<use href="#R" x="326.5" y="36.4"/>
<use href="#R" x="271.1" y="53.7"/>
<use href="#R" x="285" y="45"/>
<use href="#R" x="158.2" y="39.8"/>
<use href="#R" x="243.9" y="39.6"/>
<use href="#R" x="123.6" y="38.1"/>
<use href="#R" x="228.7" y="42.1"/>
<use href="#R" x="245.2" y="55"/>
<use href="#R" x="141.5" y="41"/>
<use href="#R" x="310.2" y="34.7"/>
<use href="#R" x="97.9" y="45.2"/>
<use href="#R" x="89.5" y="45.9"/>
<use href="#R" x="141.7" y="40.9"/>
<use href="#R" x="193.3" y="44.5"/>
<use href="#R" x="105.4" y="35.3"/>
<use href="#R" x="102.1" y="39.4"/>
<use href="#R" x="209.4" y="43.4"/>
<use href="#R" x="253.3" y="42.7"/>
<use href="#R" x="313.9" y="37.6"/>
<use href="#R" x="190.3" y="40.5"/>
<use href="#R" x="73" y="36.4"/>
<use href="#R" x="62" y="35.8"/>
<use href="#R" x="278.2" y="38.6"/>
<use href="#R" x="309.4" y="37.9"/>
<use href="#R" x="175.7" y="39.4"/>
<use href="#R" x="323.7" y="37"/>
<use href="#R" x="305.7" y="37.9"/>
<use href="#R" x="81.1" y="37.6"/>
<use href="#R" x="163.6" y="47.9"/>
<use href="#R" x="210.1" y="38.8"/>
<use href="#R" x="230.8" y="42.2"/>
<use href="#R" x="209.6" y="44.1"/>
<use href="#R" x="227" y="42.3"/>
<use href="#R" x="218.5" y="38"/>
<use href="#R" x="142.1" y="35.1"/>
<use href="#R" x="184.2" y="37.6"/>
<use href="#R" x="88.4" y="39.3"/>
<use href="#R" x="202.8" y="36.6"/>
<use href="#R" x="206.2" y="42.9"/>
<use href="#R" x="322" y="41.1"/>
<use href="#R" x="175.3" y="38"/>
<use href="#Y" x="258.4" y="44.6"/>
<use href="#Y" x="204.4" y="41.6"/>
<use href="#Y" x="144.3" y="41"/>
<use href="#G" x="149.9" y="38.4"/>
<use href="#G" x="324.4" y="43.6"/>
<use href="#Y" x="204.6" y="40.8"/>
<use href="#Y" x="145.2" y="41.3"/>
<use href="#Y" x="203.3" y="50.9"/>
<use href="#G" x="92.5" y="46.2"/>
<use href="#G" x="266.3" y="39.8"/>
<use href="#Y" x="259.1" y="51"/>
<use href="#G" x="325" y="43"/>
<use href="#Y" x="86.5" y="43.5"/>
<use href="#G" x="92.4" y="45.8"/>
<use href="#Y" x="314.5" y="42.4"/>
<use href="#G" x="149.8" y="42.6"/>
<use href="#Y" x="85.6" y="48.4"/>
<use href="#G" x="150.5" y="48.5"/>
<use href="#Y" x="315.4" y="38.7"/>
<use href="#G" x="210.3" y="40.3"/>
<use href="#Y" x="144.8" y="43.8"/>
<use href="#G" x="265.6" y="46.5"/>
<use href="#G" x="93.7" y="39.1"/>
<use href="#Y" x="85.8" y="43.9"/>
<use href="#Y" x="259" y="45.4"/>
<use href="#G" x="209.6" y="43"/>
<use href="#G" x="93.4" y="45.5"/>
<use href="#Y" x="204.8" y="43.8"/>
<use href="#Y" x="85.3" y="35.9"/>
<use href="#Y" x="258.2" y="41"/>
<use href="#Y" x="145.5" y="40.4"/>
<use href="#G" x="209.3" y="39.5"/>
<use href="#G" x="209.7" y="50.7"/>
<use href="#G" x="324.4" y="46.6"/>
<use href="#Y" x="314.4" y="45.4"/>
<use href="#G" x="266.5" y="42.7"/>
<use href="#G" x="150.3" y="41.7"/>
<use href="#Y" x="314.5" y="46.4"/>
<use href="#G" x="266.3" y="42.8"/>
<use href="#G" x="325.1" y="35.5"/>
<use href="#R" x="165.8" y="41"/>
<use href="#R" x="140.9" y="41.5"/>
<use href="#R" x="229.8" y="35.9"/>
<use href="#R" x="164.3" y="42.5"/>
<use href="#R" x="136.1" y="39.2"/>
<use href="#R" x="68.8" y="37.8"/>
<use href="#R" x="109.9" y="43.5"/>
<use href="#R" x="73.2" y="45.1"/>
<use href="#R" x="261.9" y="47"/>
<use href="#R" x="307.2" y="47.3"/>
<use href="#R" x="211.3" y="36.8"/>
<use href="#R" x="135.7" y="45.2"/>
<use href="#R" x="119.6" y="45.4"/>
<use href="#R" x="150.2" y="41.3"/>
<use href="#R" x="85.3" y="29.1"/>
<use href="#R" x="223.1" y="39.7"/>
<use href="#R" x="258.2" y="57.1"/>
<use href="#R" x="262.4" y="36.9"/>
<use href="#R" x="239.3" y="40"/>
<use href="#R" x="244.8" y="40.7"/>
<use href="#R" x="104.6" y="39.1"/>
<use href="#R" x="70.9" y="37.6"/>
<use href="#R" x="172.4" y="42"/>
<use href="#R" x="245" y="40.9"/>
<use href="#R" x="44.2" y="34.3"/>
<use href="#R" x="46.5" y="43.3"/>
<use href="#R" x="158.6" y="41.5"/>
<use href="#R" x="311.7" y="36.2"/>
<use href="#R" x="220.4" y="42.8"/>
<use href="#R" x="206.3" y="46.3"/>
<use href="#R" x="247.8" y="58.4"/>
<use href="#R" x="282.1" y="37.6"/>
<use href="#R" x="56.2" y="41.1"/>
<use href="#R" x="255.6" y="38.6"/>
<use href="#R" x="103" y="38.2"/>
<use href="#R" x="61.8" y="38.5"/>
<use href="#R" x="156.6" y="38.3"/>
<use href="#R" x="87.5" y="42"/>
<use href="#R" x="201.8" y="40.6"/>
<use href="#R" x="211.7" y="51.6"/>
<use href="#R" x="95.1" y="36.4"/>
<use href="#R" x="237.7" y="40.8"/>
<use href="#R" x="103.9" y="38.5"/>
<use href="#R" x="315.6" y="43.8"/>
<use href="#R" x="138.7" y="39.4"/>
<use href="#R" x="66.4" y="49.9"/>
<use href="#R" x="70.6" y="53.4"/>
<use href="#R" x="240.5" y="37"/>
<use href="#R" x="163.3" y="53.4"/>
<use href="#R" x="193.6" y="34.8"/>
<use href="#R" x="87.6" y="52.8"/>
<use href="#R" x="207.6" y="39.9"/>
<use href="#R" x="240.6" y="87.4"/>
<use href="#R" x="91.6" y="43.3"/>
<use href="#R" x="171.9" y="46.3"/>
<use href="#R" x="193.2" y="39.9"/>
<use href="#R" x="94.3" y="40.2"/>
<use href="#R" x="56.5" y="36.8"/>
<use href="#R" x="106.4" y="40.3"/>
<use href="#R" x="173.2" y="43.5"/>
<use href="#R" x="57.8" y="41.5"/>
<use href="#R" x="186.2" y="42.9"/>
<use href="#R" x="185.8" y="42.7"/>
<use href="#R" x="304.3" y="64.4"/>
<use href="#R" x="318.6" y="42.8"/>
<use href="#R" x="288.4" y="45.5"/>
<use href="#R" x="197" y="40.8"/>
<use href="#R" x="308.4" y="48.3"/>
<use href="#R" x="246" y="41"/>
<use href="#R" x="279" y="38.1"/>
<use href="#R" x="236.2" y="93.7"/>
<use href="#R" x="293.8" y="85.5"/>
<use href="#B" x="287.3" y="98.8"/>
<use href="#T" x="68.8" y="114.1"/>
<use href="#T" x="69.5" y="115.8"/>
<use href="#T" x="72.7" y="119.3"/>
<use href="#T" x="75.8" y="123.2"/>
<use href="#T" x="76.5" y="125.3"/>
<use href="#T" x="79.7" y="122.3"/>
<use href="#T" x="83.5" y="124.9"/>
<use href="#T" x="65.4" y="124.5"/>
<use href="#T" x="65.8" y="127.9"/>
<use href="#T" x="80.1" y="130.1"/>
<use href="#T" x="76.6" y="126.6"/>
<use href="#T" x="129.9" y="115.8"/>
<use href="#T" x="141" y="115.8"/>
<use href="#T" x="129.9" y="120.6"/>
<use href="#T" x="126.2" y="127.7"/>
<use href="#T" x="137.1" y="125.8"/>
<use href="#T" x="140.8" y="128.2"/>
<use href="#T" x="123" y="130.5"/>
<use href="#T" x="126.9" y="132.2"/>
<use href="#T" x="133.6" y="132.7"/>
<use href="#T" x="137.1" y="136.6"/>
<use href="#T" x="123" y="139.2"/>
<use href="#T" x="133.6" y="144.4"/>
<use href="#T" x="183.7" y="124.4"/>
<use href="#T" x="179.8" y="129.8"/>
<use href="#T" x="183.7" y="129.4"/>
<use href="#T" x="186.8" y="131.7"/>
<use href="#T" x="187.5" y="133.7"/>
<use href="#T" x="190.9" y="140"/>
<use href="#T" x="194.4" y="138.3"/>
<use href="#T" x="198.1" y="137.1"/>
<use href="#T" x="180.2" y="141.4"/>
<use href="#T" x="190.6" y="145.2"/>
<use href="#T" x="194.4" y="146.7"/>
<use href="#T" x="240.6" y="95"/>
<use href="#T" x="242.3" y="96.2"/>
<use href="#T" x="244.5" y="98.4"/>
<use href="#T" x="244.9" y="100.1"/>
<use href="#T" x="255.3" y="98.8"/>
<use href="#T" x="237.5" y="105.3"/>
<use href="#T" x="255.3" y="104.5"/>
<use href="#T" x="248.4" y="109.7"/>
<use href="#T" x="251.8" y="110.1"/>
<use href="#T" x="247.9" y="113.5"/>
<use href="#T" x="237.1" y="117.9"/>
<use href="#T" x="251.4" y="120"/>
<use href="#T" x="294.2" y="144.6"/>
<use href="#T" x="294.6" y="151.5"/>
<use href="#T" x="298.1" y="150"/>
<use href="#T" x="300.4" y="150.4"/>
<use href="#T" x="302.3" y="151.2"/>
<use href="#T" x="301.5" y="149.5"/>
<rect x="40.5" y="219" width="298.1" height="138" fill="#fff" stroke="#bcbcbc" stroke-width="1"/>
<text x="171.7" y="216.2" font-size="7.9" text-anchor="middle" font-weight="normal" fill="#111" textLength="18.2" lengthAdjust="spacingAndGlyphs">INA6</text>
<text x="36.4" y="221.2" font-size="5.9" text-anchor="end" font-weight="bold" fill="#222">5</text>
<text x="36.4" y="244.2" font-size="5.9" text-anchor="end" font-weight="bold" fill="#222">0</text>
<text x="36.4" y="267.2" font-size="5.9" text-anchor="end" font-weight="bold" fill="#222">-5</text>
<text x="36.4" y="290.2" font-size="5.9" text-anchor="end" font-weight="bold" fill="#222">-10</text>
<text x="36.4" y="313.2" font-size="5.9" text-anchor="end" font-weight="bold" fill="#222">-15</text>
<text x="36.4" y="336.2" font-size="5.9" text-anchor="end" font-weight="bold" fill="#222">-20</text>
<text x="36.4" y="359.2" font-size="5.9" text-anchor="end" font-weight="bold" fill="#222">-25</text>
<text x="40.5" y="366.4" font-size="6.0" text-anchor="middle" font-weight="bold" fill="#222">0</text>
<text x="70.3" y="366.4" font-size="6.0" text-anchor="middle" font-weight="bold" fill="#222">200</text>
<text x="100.1" y="366.4" font-size="6.0" text-anchor="middle" font-weight="bold" fill="#222">400</text>
<text x="129.9" y="366.4" font-size="6.0" text-anchor="middle" font-weight="bold" fill="#222">600</text>
<text x="159.7" y="366.4" font-size="6.0" text-anchor="middle" font-weight="bold" fill="#222">800</text>
<text x="189.6" y="366.4" font-size="6.0" text-anchor="middle" font-weight="bold" fill="#222">1000</text>
<text x="219.4" y="366.4" font-size="6.0" text-anchor="middle" font-weight="bold" fill="#222">1200</text>
<text x="249.2" y="366.4" font-size="6.0" text-anchor="middle" font-weight="bold" fill="#222">1400</text>
<text x="279" y="366.4" font-size="6.0" text-anchor="middle" font-weight="bold" fill="#222">1600</text>
<text x="308.8" y="366.4" font-size="6.0" text-anchor="middle" font-weight="bold" fill="#222">1800</text>
<text x="338.6" y="366.4" font-size="6.0" text-anchor="middle" font-weight="bold" fill="#222">2000</text>
<text x="189.6" y="375.5" font-size="5.9" text-anchor="middle" font-weight="bold" fill="#222" textLength="30" lengthAdjust="spacingAndGlyphs">RNAi oligo</text>
<text transform="translate(20.6,286.6) rotate(-90)" font-size="8.2" text-anchor="middle" font-weight="normal" fill="#222" textLength="64.2" lengthAdjust="spacingAndGlyphs">Viability (B-score)</text>
<path d="M39.2 382.8l1.8 3.1h-3.6z" fill="#e86050"/>
<text x="42.6" y="387.4" font-size="6.4" text-anchor="start" font-weight="normal" fill="#222" textLength="39.7" lengthAdjust="spacingAndGlyphs">Kinase siRNA</text>
<path d="M88.8 382.8l1.8 3.1h-3.6z" fill="#484848"/>
<text x="92" y="387.4" font-size="6.4" text-anchor="start" font-weight="normal" fill="#222" textLength="61.4" lengthAdjust="spacingAndGlyphs">Lethal siRNA Control</text>
<path d="M159.2 382.8l1.8 3.1h-3.6z" fill="#5a5ab8"/>
<text x="162.7" y="387.4" font-size="6.4" text-anchor="start" font-weight="normal" fill="#222" textLength="41.1" lengthAdjust="spacingAndGlyphs">Buffer Control</text>
<path d="M208.8 382.8l1.8 3.1h-3.6z" fill="#f0e070"/>
<text x="212.3" y="387.4" font-size="6.4" text-anchor="start" font-weight="normal" fill="#222" textLength="60.3" lengthAdjust="spacingAndGlyphs">Non-silencing siRNA</text>
<path d="M277.7 382.8l1.8 3.1h-3.6z" fill="#3a9a4a"/>
<text x="281.2" y="387.4" font-size="6.4" text-anchor="start" font-weight="normal" fill="#222" textLength="58.3" lengthAdjust="spacingAndGlyphs">GFP siRNA Control</text>
<use href="#R" x="253.9" y="248.6"/>
<use href="#R" x="206" y="248.4"/>
<use href="#R" x="92.2" y="233.8"/>
<use href="#R" x="111" y="228"/>
<use href="#R" x="250.1" y="241.8"/>
<use href="#R" x="180.6" y="244.3"/>
<use href="#R" x="277.2" y="246.8"/>
<use href="#R" x="179.2" y="244.3"/>
<use href="#R" x="183.9" y="242.8"/>
<use href="#R" x="313.4" y="248"/>
<use href="#R" x="128" y="236.6"/>
<use href="#R" x="127.4" y="233.6"/>
<use href="#R" x="285.8" y="247.5"/>
<use href="#R" x="162.7" y="240.5"/>
<use href="#R" x="167.5" y="241.6"/>
<use href="#R" x="292.1" y="245.1"/>
<use href="#R" x="305.3" y="245.7"/>
<use href="#R" x="168" y="239.6"/>
<use href="#R" x="323.6" y="240.4"/>
<use href="#R" x="97.6" y="243"/>
<use href="#R" x="129.2" y="255.2"/>
<use href="#R" x="116.3" y="266.9"/>
<use href="#R" x="221.9" y="237.8"/>
<use href="#R" x="59.2" y="244.8"/>
<use href="#R" x="305.9" y="245"/>
<use href="#R" x="254.5" y="235.9"/>
<use href="#R" x="69.7" y="241.5"/>
<use href="#R" x="181.3" y="241.5"/>
<use href="#R" x="166.8" y="236.7"/>
<use href="#R" x="218.5" y="238.2"/>
<use href="#R" x="207.6" y="239.7"/>
<use href="#R" x="242.5" y="249.8"/>
<use href="#R" x="278.4" y="242.9"/>
<use href="#R" x="151.1" y="245.2"/>
<use href="#R" x="182.1" y="246.7"/>
<use href="#R" x="237.9" y="241.7"/>
<use href="#R" x="262" y="247.2"/>
<use href="#R" x="52.8" y="237.2"/>
<use href="#R" x="248.3" y="239.5"/>
<use href="#R" x="152.4" y="238.9"/>
<use href="#R" x="217.3" y="242.9"/>
<use href="#R" x="184.7" y="239.9"/>
<use href="#R" x="103.4" y="250.3"/>
<use href="#R" x="202.6" y="248.1"/>
<use href="#R" x="323.4" y="239.1"/>
<use href="#R" x="279.7" y="238.2"/>
<use href="#R" x="268.2" y="248.3"/>
<use href="#R" x="73.3" y="244.5"/>
<use href="#R" x="324.6" y="239.4"/>
<use href="#R" x="183.2" y="237.2"/>
<use href="#R" x="45.7" y="237.5"/>
<use href="#R" x="56.2" y="252"/>
<use href="#R" x="182.2" y="245.3"/>
<use href="#R" x="245.5" y="242.3"/>
<use href="#R" x="256.6" y="237.1"/>
<use href="#R" x="253.2" y="245.4"/>
<use href="#R" x="52.2" y="238.1"/>
<use href="#R" x="249.1" y="249.3"/>
<use href="#R" x="106.2" y="241.5"/>
<use href="#R" x="186.8" y="240.6"/>
<use href="#R" x="79.9" y="238.8"/>
<use href="#R" x="188.4" y="246.2"/>
<use href="#R" x="104.2" y="244.3"/>
<use href="#R" x="251.2" y="247.5"/>
<use href="#R" x="295.7" y="247"/>
<use href="#R" x="266.1" y="238.4"/>
<use href="#R" x="244.8" y="238.4"/>
<use href="#R" x="89.7" y="234.9"/>
<use href="#R" x="192.3" y="249.3"/>
<use href="#R" x="90.5" y="243.9"/>
<use href="#R" x="223" y="241"/>
<use href="#R" x="62.5" y="245.5"/>
<use href="#R" x="78.4" y="241.1"/>
<use href="#R" x="256.1" y="247.9"/>
<use href="#R" x="202.6" y="248.3"/>
<use href="#R" x="135.3" y="239.4"/>
<use href="#R" x="94.9" y="238.3"/>
<use href="#R" x="215.9" y="250.4"/>
<use href="#R" x="217.9" y="241.5"/>
<use href="#R" x="312.4" y="244.5"/>
<use href="#R" x="61.7" y="242.8"/>
<use href="#R" x="87.7" y="247.6"/>
<use href="#R" x="215.1" y="237"/>
<use href="#R" x="48" y="248.5"/>
<use href="#R" x="65.6" y="242.8"/>
<use href="#R" x="205.4" y="248.9"/>
<use href="#R" x="199.4" y="235.5"/>
<use href="#R" x="102.9" y="234.3"/>
<use href="#R" x="47.3" y="247.2"/>
<use href="#R" x="212.7" y="240.5"/>
<use href="#R" x="258.2" y="239.1"/>
<use href="#R" x="283.9" y="251.3"/>
<use href="#R" x="292" y="238.5"/>
<use href="#R" x="196.9" y="243.7"/>
<use href="#R" x="48.6" y="249.8"/>
<use href="#R" x="219.5" y="243.8"/>
<use href="#R" x="157.3" y="244.6"/>
<use href="#R" x="279.4" y="246.8"/>
<use href="#R" x="241.1" y="243.9"/>
<use href="#R" x="235.4" y="237.5"/>
<use href="#R" x="268.5" y="240.4"/>
<use href="#R" x="69.3" y="245.4"/>
<use href="#R" x="93.9" y="236.7"/>
<use href="#R" x="112.2" y="243.5"/>
<use href="#R" x="57.2" y="236"/>
<use href="#R" x="85" y="250.3"/>
<use href="#R" x="222.9" y="241.5"/>
<use href="#R" x="210.5" y="246"/>
<use href="#R" x="203.8" y="240.9"/>
<use href="#R" x="312.9" y="247"/>
<use href="#R" x="273.6" y="243"/>
<use href="#R" x="185.7" y="248.4"/>
<use href="#R" x="230.6" y="246"/>
<use href="#R" x="109.4" y="234.1"/>
<use href="#R" x="196.3" y="251"/>
<use href="#R" x="296.7" y="245.4"/>
<use href="#R" x="291.6" y="241.1"/>
<use href="#R" x="250.3" y="250.4"/>
<use href="#R" x="90.3" y="250.4"/>
<use href="#R" x="285.1" y="237.5"/>
<use href="#R" x="187.4" y="247.5"/>
<use href="#R" x="197.7" y="251.2"/>
<use href="#R" x="46.6" y="237.8"/>
<use href="#R" x="249.5" y="246.1"/>
<use href="#R" x="91.1" y="246.5"/>
<use href="#R" x="231.7" y="243.8"/>
<use href="#R" x="218.7" y="241.2"/>
<use href="#R" x="303.2" y="240.4"/>
<use href="#R" x="319.1" y="246"/>
<use href="#R" x="235.5" y="246.9"/>
<use href="#R" x="280.5" y="233.1"/>
<use href="#R" x="103.4" y="240"/>
<use href="#R" x="285" y="264.5"/>
<use href="#R" x="157.1" y="259.6"/>
<use href="#R" x="169.7" y="243.1"/>
<use href="#R" x="260.1" y="248.7"/>
<use href="#R" x="182.7" y="247.8"/>
<use href="#R" x="82.2" y="244.7"/>
<use href="#R" x="290.5" y="269.8"/>
<use href="#R" x="90.6" y="241.7"/>
<use href="#R" x="103.6" y="235.3"/>
<use href="#R" x="258.6" y="249.2"/>
<use href="#R" x="296.3" y="241.1"/>
<use href="#R" x="246" y="244.4"/>
<use href="#R" x="129" y="241.9"/>
<use href="#R" x="175.4" y="242.6"/>
<use href="#R" x="291.3" y="248.3"/>
<use href="#R" x="139.6" y="241.7"/>
<use href="#R" x="58.8" y="244.9"/>
<use href="#R" x="129.2" y="243"/>
<use href="#R" x="97.9" y="244.8"/>
<use href="#R" x="311.5" y="247.7"/>
<use href="#R" x="153.6" y="238.1"/>
<use href="#R" x="64.7" y="238.8"/>
<use href="#R" x="159.2" y="239.2"/>
<use href="#R" x="164.4" y="256"/>
<use href="#R" x="66.8" y="243"/>
<use href="#R" x="280.3" y="237.3"/>
<use href="#R" x="150" y="247"/>
<use href="#R" x="187.4" y="243.6"/>
<use href="#R" x="162.6" y="232.4"/>
<use href="#R" x="99.1" y="245.9"/>
<use href="#R" x="304.8" y="245.2"/>
<use href="#R" x="278.1" y="240.8"/>
<use href="#R" x="271.6" y="246.2"/>
<use href="#R" x="138.1" y="240.3"/>
<use href="#R" x="241.5" y="277.5"/>
<use href="#R" x="203.2" y="241.5"/>
<use href="#R" x="203.4" y="235.5"/>
<use href="#R" x="304.3" y="238.8"/>
<use href="#R" x="119.8" y="245.2"/>
<use href="#R" x="295.7" y="247.2"/>
<use href="#R" x="158.5" y="244"/>
<use href="#R" x="197.1" y="230"/>
<use href="#R" x="145.7" y="243.9"/>
<use href="#R" x="59.2" y="232.6"/>
<use href="#R" x="110.5" y="234.8"/>
<use href="#R" x="311.1" y="239.6"/>
<use href="#R" x="178.3" y="243"/>
<use href="#R" x="171.7" y="239.5"/>
<use href="#R" x="62.1" y="247.1"/>
<use href="#R" x="275.9" y="239.6"/>
<use href="#R" x="325.3" y="244.6"/>
<use href="#R" x="295.3" y="240.9"/>
<use href="#R" x="244.1" y="240.8"/>
<use href="#R" x="316.2" y="232.6"/>
<use href="#R" x="200.1" y="242.6"/>
<use href="#R" x="77.5" y="243"/>
<use href="#R" x="58.7" y="246.3"/>
<use href="#R" x="185.6" y="244.5"/>
<use href="#R" x="141.4" y="243.6"/>
<use href="#R" x="93.7" y="238.2"/>
<use href="#R" x="248.8" y="241.1"/>
<use href="#R" x="43.2" y="256.9"/>
<use href="#R" x="276.1" y="242.2"/>
<use href="#R" x="123.9" y="251.7"/>
<use href="#R" x="310.4" y="240.9"/>
<use href="#R" x="134.1" y="245.2"/>
<use href="#R" x="148.9" y="249.8"/>
<use href="#R" x="214.9" y="257.3"/>
<use href="#R" x="134.9" y="235.3"/>
<use href="#R" x="299.2" y="236.8"/>
<use href="#R" x="228.6" y="239.9"/>
<use href="#R" x="100.7" y="244.2"/>
<use href="#R" x="173.8" y="237.8"/>
<use href="#R" x="249.9" y="243.6"/>
<use href="#R" x="154.3" y="244.2"/>
<use href="#R" x="175.5" y="243.8"/>
<use href="#R" x="66.5" y="252.6"/>
<use href="#R" x="309.5" y="234"/>
<use href="#R" x="121" y="242.2"/>
<use href="#R" x="204.9" y="241.6"/>
<use href="#R" x="223.1" y="238.2"/>
<use href="#R" x="66.3" y="245.1"/>
<use href="#R" x="305.6" y="245.2"/>
<use href="#R" x="233.6" y="263"/>
<use href="#R" x="303.6" y="241"/>
<use href="#R" x="182.8" y="226.6"/>
<use href="#R" x="56.4" y="234.4"/>
<use href="#R" x="134.7" y="267.8"/>
<use href="#R" x="115.7" y="237.6"/>
<use href="#R" x="325.9" y="240"/>
<use href="#R" x="172.8" y="237.8"/>
<use href="#R" x="227.6" y="246.3"/>
<use href="#R" x="117.7" y="237.8"/>
<use href="#R" x="83.9" y="243.5"/>
<use href="#R" x="298.4" y="234.4"/>
<use href="#R" x="240" y="245.5"/>
<use href="#R" x="45.6" y="239"/>
<use href="#R" x="111.4" y="236.8"/>
<use href="#R" x="149.1" y="250.4"/>
<use href="#R" x="247" y="242.8"/>
<use href="#R" x="217.2" y="242.9"/>
<use href="#R" x="108.5" y="246.1"/>
<use href="#R" x="273.8" y="233.7"/>
<use href="#R" x="290" y="245.3"/>
<use href="#R" x="166.5" y="251.3"/>
<use href="#R" x="217.3" y="239.8"/>
<use href="#R" x="149.8" y="239.5"/>
<use href="#R" x="220.8" y="243.7"/>
<use href="#R" x="99.3" y="240.7"/>
<use href="#R" x="105.2" y="236.6"/>
<use href="#R" x="308.1" y="241.3"/>
<use href="#R" x="292.8" y="243.6"/>
<use href="#R" x="183.3" y="250.3"/>
<use href="#R" x="81.4" y="242.3"/>
<use href="#R" x="154.4" y="263.5"/>
<use href="#R" x="93.9" y="243.5"/>
<use href="#R" x="77.2" y="240.1"/>
<use href="#R" x="246.3" y="259.1"/>
<use href="#R" x="73.8" y="232.1"/>
<use href="#R" x="115.3" y="245.3"/>
<use href="#R" x="155.3" y="236.5"/>
<use href="#R" x="155" y="252.5"/>
<use href="#R" x="72.4" y="236.4"/>
<use href="#R" x="128.3" y="237.7"/>
<use href="#R" x="173.7" y="251"/>
<use href="#R" x="196.7" y="225.6"/>
<use href="#R" x="316.7" y="240.4"/>
<use href="#R" x="113.4" y="237.7"/>
<use href="#R" x="283.2" y="243.7"/>
<use href="#R" x="106" y="231.7"/>
<use href="#R" x="165.5" y="237.2"/>
<use href="#R" x="47.2" y="242"/>
<use href="#R" x="64.2" y="239.9"/>
<use href="#R" x="284.2" y="239.8"/>
<use href="#R" x="58.8" y="240.4"/>
<use href="#R" x="252.9" y="249.7"/>
<use href="#R" x="171.3" y="246.7"/>
<use href="#R" x="246.9" y="242.3"/>
<use href="#R" x="171.5" y="242.3"/>
<use href="#R" x="146.8" y="235.8"/>
<use href="#R" x="191.8" y="247.1"/>
<use href="#R" x="208.7" y="246"/>
<use href="#R" x="138.2" y="238.8"/>
<use href="#R" x="244.6" y="241.3"/>
<use href="#R" x="215.9" y="239.3"/>
<use href="#R" x="145.2" y="255.1"/>
<use href="#R" x="205.2" y="246.8"/>
<use href="#R" x="239.1" y="251.3"/>
<use href="#R" x="47.3" y="247.5"/>
<use href="#R" x="282.3" y="236"/>
<use href="#R" x="220.8" y="238.1"/>
<use href="#R" x="246.1" y="240.7"/>
<use href="#R" x="290.4" y="243.5"/>
<use href="#R" x="296.9" y="239.2"/>
<use href="#R" x="173.4" y="233.4"/>
<use href="#R" x="84.8" y="235.6"/>
<use href="#R" x="220.9" y="243.5"/>
<use href="#R" x="153" y="245"/>
<use href="#R" x="189.7" y="250"/>
<use href="#R" x="223.5" y="251.6"/>
<use href="#R" x="263.6" y="235.9"/>
<use href="#R" x="76.2" y="247"/>
<use href="#R" x="89.9" y="248.8"/>
<use href="#R" x="216.4" y="238.2"/>
<use href="#R" x="43.1" y="244.4"/>
<use href="#R" x="209.6" y="246.5"/>
<use href="#R" x="79.9" y="245.5"/>
<use href="#R" x="176.2" y="239.3"/>
<use href="#R" x="186" y="240.6"/>
<use href="#R" x="155.8" y="236.9"/>
<use href="#R" x="223.9" y="241.1"/>
<use href="#R" x="101.5" y="242.3"/>
<use href="#R" x="204.5" y="238.7"/>
<use href="#R" x="144.7" y="238.6"/>
<use href="#R" x="163.9" y="244.2"/>
<use href="#R" x="285.8" y="241.8"/>
<use href="#R" x="181.9" y="235.9"/>
<use href="#R" x="103" y="240.5"/>
<use href="#R" x="180.7" y="247.5"/>
<use href="#R" x="79.4" y="239.3"/>
<use href="#R" x="305.2" y="238.4"/>
<use href="#R" x="293" y="251.3"/>
<use href="#R" x="326.5" y="244.2"/>
<use href="#R" x="87.5" y="236.1"/>
<use href="#R" x="271" y="252.3"/>
<use href="#R" x="189.7" y="241.6"/>
<use href="#R" x="235.1" y="236.5"/>
<use href="#R" x="172.1" y="248.4"/>
<use href="#R" x="74.7" y="245.5"/>
<use href="#R" x="46.3" y="242.2"/>
<use href="#R" x="272.7" y="243.4"/>
<use href="#R" x="67.1" y="242.9"/>
<use href="#R" x="212.5" y="238.3"/>
<use href="#R" x="152" y="240.6"/>
<use href="#R" x="321.7" y="238.5"/>
<use href="#R" x="227.6" y="248.1"/>
<use href="#R" x="217.3" y="248.6"/>
<use href="#R" x="148.6" y="235.2"/>
<use href="#R" x="186.2" y="267.9"/>
<use href="#R" x="72.5" y="249.7"/>
<use href="#R" x="191.4" y="239.4"/>
<use href="#R" x="177" y="243.5"/>
<use href="#R" x="179.4" y="238.4"/>
<use href="#R" x="310.6" y="257.3"/>
<use href="#R" x="306.3" y="242.9"/>
<use href="#R" x="257.3" y="243.1"/>
<use href="#R" x="42.4" y="237.9"/>
<use href="#R" x="285.4" y="244.3"/>
<use href="#R" x="67.3" y="245.4"/>
<use href="#R" x="125.5" y="256.1"/>
<use href="#R" x="98.4" y="239.1"/>
<use href="#R" x="133.2" y="270"/>
<use href="#R" x="162.5" y="243.8"/>
<use href="#R" x="293.4" y="239.9"/>
<use href="#R" x="72.7" y="240"/>
<use href="#R" x="141.6" y="244.1"/>
<use href="#R" x="325.1" y="234.5"/>
<use href="#R" x="244.3" y="240"/>
<use href="#R" x="90.2" y="253.6"/>
<use href="#R" x="96.5" y="257.4"/>
<use href="#R" x="195.9" y="238.5"/>
<use href="#R" x="317.6" y="257.6"/>
<use href="#R" x="183.9" y="250.1"/>
<use href="#R" x="42.2" y="240.7"/>
<use href="#R" x="261.4" y="241.3"/>
<use href="#R" x="183.5" y="245.5"/>
<use href="#R" x="211.5" y="240"/>
<use href="#R" x="210.3" y="235.5"/>
<use href="#R" x="319.7" y="253"/>
<use href="#R" x="122.6" y="246.2"/>
<use href="#R" x="177.3" y="248.1"/>
<use href="#R" x="42.4" y="241.6"/>
<use href="#R" x="313.9" y="245.1"/>
<use href="#R" x="49.3" y="249.9"/>
<use href="#R" x="176.1" y="242.1"/>
<use href="#R" x="306.8" y="253.4"/>
<use href="#R" x="193.6" y="235.9"/>
<use href="#R" x="313.9" y="240.6"/>
<use href="#R" x="197.4" y="235.7"/>
<use href="#R" x="267.4" y="244.8"/>
<use href="#R" x="282.4" y="227.6"/>
<use href="#R" x="151.3" y="241.1"/>
<use href="#R" x="232.9" y="240.9"/>
<use href="#R" x="303" y="289.3"/>
<use href="#R" x="302.2" y="235.3"/>
<use href="#R" x="130.6" y="244.4"/>
<use href="#R" x="175.9" y="239.7"/>
<use href="#R" x="57.5" y="232.6"/>
<use href="#R" x="81.2" y="239.7"/>
<use href="#R" x="142.9" y="242.8"/>
<use href="#R" x="88.3" y="245.9"/>
<use href="#R" x="184.5" y="248.3"/>
<use href="#R" x="318.2" y="242.1"/>
<use href="#R" x="160.5" y="249.9"/>
<use href="#R" x="108.2" y="237.9"/>
<use href="#R" x="299" y="240.4"/>
<use href="#R" x="75.4" y="244.9"/>
<use href="#R" x="178.6" y="259.6"/>
<use href="#R" x="56.2" y="246.9"/>
<use href="#R" x="152.4" y="240.3"/>
<use href="#R" x="238.3" y="243.3"/>
<use href="#R" x="84" y="235.6"/>
<use href="#R" x="251.6" y="236.5"/>
<use href="#R" x="76.5" y="236.1"/>
<use href="#R" x="129.4" y="236.5"/>
<use href="#R" x="186.3" y="247"/>
<use href="#R" x="64.2" y="235.3"/>
<use href="#R" x="104.3" y="243.8"/>
<use href="#R" x="95.3" y="247"/>
<use href="#R" x="287.7" y="236"/>
<use href="#R" x="91.7" y="243.1"/>
<use href="#R" x="106.3" y="238.6"/>
<use href="#R" x="264.5" y="245.1"/>
<use href="#R" x="208" y="237.7"/>
<use href="#R" x="292.4" y="255.1"/>
<use href="#R" x="272.9" y="249.5"/>
<use href="#R" x="179.2" y="250.3"/>
<use href="#R" x="78.8" y="244.2"/>
<use href="#R" x="245.4" y="240.3"/>
<use href="#R" x="47.7" y="245.2"/>
<use href="#R" x="201.1" y="242.8"/>
<use href="#R" x="97.8" y="227.7"/>
<use href="#R" x="293.4" y="247.7"/>
<use href="#R" x="149.4" y="240.2"/>
<use href="#R" x="319.4" y="242.2"/>
<use href="#R" x="52.7" y="243.8"/>
<use href="#R" x="83" y="232.8"/>
<use href="#R" x="45.1" y="247.7"/>
<use href="#R" x="91.2" y="249.7"/>
<use href="#R" x="103.1" y="244.9"/>
<use href="#R" x="170.1" y="239.9"/>
<use href="#R" x="111.1" y="249.7"/>
<use href="#R" x="191.6" y="231.9"/>
<use href="#R" x="279.3" y="246.9"/>
<use href="#R" x="266.4" y="245.2"/>
<use href="#R" x="199.9" y="241.2"/>
<use href="#R" x="127.7" y="245.8"/>
<use href="#R" x="261.5" y="241.7"/>
<use href="#R" x="64.5" y="229.9"/>
<use href="#R" x="90.3" y="239.5"/>
<use href="#R" x="300.6" y="234.8"/>
<use href="#R" x="133" y="240.8"/>
<use href="#R" x="297.9" y="243.8"/>
<use href="#R" x="51.8" y="244.6"/>
<use href="#R" x="225.6" y="239.7"/>
<use href="#R" x="188.7" y="245.2"/>
<use href="#R" x="256.3" y="249.4"/>
<use href="#R" x="59.6" y="241.3"/>
<use href="#R" x="144.1" y="242.3"/>
<use href="#R" x="243.2" y="246.3"/>
<use href="#R" x="270.4" y="242.5"/>
<use href="#R" x="164" y="277"/>
<use href="#R" x="173.7" y="246.5"/>
<use href="#R" x="127.1" y="241.9"/>
<use href="#R" x="242.3" y="245.7"/>
<use href="#R" x="128.5" y="243.2"/>
<use href="#R" x="299.3" y="245.4"/>
<use href="#R" x="298.1" y="240.9"/>
<use href="#R" x="245.5" y="238.8"/>
<use href="#R" x="287" y="250.1"/>
<use href="#R" x="209.4" y="239.7"/>
<use href="#R" x="95.1" y="235.5"/>
<use href="#R" x="288.7" y="241.7"/>
<use href="#R" x="59.5" y="235"/>
<use href="#R" x="110.8" y="239.4"/>
<use href="#R" x="125.7" y="247"/>
<use href="#R" x="220.8" y="243.2"/>
<use href="#R" x="76.9" y="236.4"/>
<use href="#R" x="180.2" y="238.1"/>
<use href="#R" x="279.5" y="244.2"/>
<use href="#R" x="166.9" y="246.7"/>
<use href="#R" x="177.8" y="246"/>
<use href="#R" x="321.1" y="253.4"/>
<use href="#R" x="171.4" y="245.8"/>
<use href="#R" x="54.4" y="237.5"/>
<use href="#R" x="115.3" y="248.5"/>
<use href="#R" x="53.4" y="247.6"/>
<use href="#R" x="48.8" y="230.4"/>
<use href="#R" x="269.3" y="237.4"/>
<use href="#R" x="137.2" y="248.7"/>
<use href="#R" x="180.3" y="233.2"/>
<use href="#R" x="191.5" y="250.3"/>
<use href="#R" x="118" y="245.5"/>
<use href="#R" x="276" y="247.9"/>
<use href="#R" x="164.3" y="246.6"/>
<use href="#R" x="134.6" y="241.5"/>
<use href="#R" x="245.6" y="249.2"/>
<use href="#R" x="222.9" y="266.7"/>
<use href="#R" x="70.6" y="236.6"/>
<use href="#R" x="146.5" y="246.7"/>
<use href="#R" x="42.8" y="240.1"/>
<use href="#R" x="219.1" y="240.8"/>
<use href="#R" x="300.1" y="249.3"/>
<use href="#R" x="243.2" y="238.5"/>
<use href="#R" x="98.7" y="246.8"/>
<use href="#R" x="280.4" y="236.5"/>
<use href="#R" x="67.8" y="252.7"/>
<use href="#R" x="152.3" y="241"/>
<use href="#R" x="133.4" y="237.1"/>
<use href="#R" x="80.7" y="243.1"/>
<use href="#R" x="100.9" y="234"/>
<use href="#R" x="81.4" y="240.6"/>
<use href="#R" x="265.3" y="246.8"/>
<use href="#R" x="203.9" y="250.7"/>
<use href="#R" x="142.3" y="238.6"/>
<use href="#R" x="167.1" y="241.5"/>
<use href="#R" x="171.9" y="246.8"/>
<use href="#R" x="45.3" y="235.2"/>
<use href="#R" x="145.9" y="235"/>
<use href="#R" x="116.9" y="233.8"/>
<use href="#R" x="252" y="234.4"/>
<use href="#R" x="148.9" y="241.6"/>
<use href="#R" x="185.5" y="240.8"/>
<use href="#R" x="168" y="240.1"/>
<use href="#R" x="66.5" y="235.1"/>
<use href="#R" x="161.2" y="255.1"/>
<use href="#R" x="167.3" y="252.5"/>
<use href="#R" x="78.6" y="248.6"/>
<use href="#R" x="157.5" y="248.5"/>
<use href="#R" x="63" y="244.9"/>
<use href="#R" x="253.9" y="251.7"/>
<use href="#R" x="308.6" y="245.1"/>
<use href="#R" x="177.1" y="243.2"/>
<use href="#R" x="297.5" y="237.8"/>
<use href="#R" x="232.5" y="235.7"/>
<use href="#R" x="259.7" y="246"/>
<use href="#R" x="307.7" y="242.8"/>
<use href="#R" x="252.7" y="244.1"/>
<use href="#R" x="102.2" y="236.6"/>
<use href="#R" x="82.9" y="238"/>
<use href="#R" x="49.8" y="249.2"/>
<use href="#R" x="196.1" y="236.5"/>
<use href="#R" x="240.5" y="241.4"/>
<use href="#R" x="88.2" y="238.3"/>
<use href="#R" x="209.6" y="253.4"/>
<use href="#R" x="227.4" y="246.9"/>
<use href="#R" x="74.6" y="237.2"/>
<use href="#R" x="123.5" y="245"/>
<use href="#R" x="63.4" y="239"/>
<use href="#R" x="169.1" y="239.2"/>
<use href="#R" x="73.7" y="239.4"/>
<use href="#R" x="55.1" y="251"/>
<use href="#R" x="94.1" y="235"/>
<use href="#R" x="278.1" y="247.8"/>
<use href="#R" x="130.6" y="232.8"/>
<use href="#R" x="75.3" y="249.2"/>
<use href="#R" x="234.7" y="240.9"/>
<use href="#R" x="188.9" y="249.9"/>
<use href="#R" x="232.8" y="246.6"/>
<use href="#R" x="163.5" y="241.4"/>
<use href="#R" x="118" y="253.6"/>
<use href="#R" x="131" y="251.7"/>
<use href="#R" x="115.3" y="245"/>
<use href="#R" x="62.7" y="235.7"/>
<use href="#R" x="297.4" y="287.2"/>
<use href="#R" x="286.1" y="229.8"/>
<use href="#R" x="68.1" y="238.9"/>
<use href="#R" x="243.1" y="242.7"/>
<use href="#R" x="194" y="234.3"/>
<use href="#R" x="151.8" y="249.2"/>
<use href="#R" x="49.4" y="239.3"/>
<use href="#R" x="305.6" y="238.3"/>
<use href="#R" x="78.2" y="241.5"/>
<use href="#R" x="94.6" y="250.1"/>
<use href="#R" x="100.3" y="241"/>
<use href="#R" x="289.3" y="283.9"/>
<use href="#R" x="323.6" y="239.9"/>
<use href="#R" x="219.8" y="236.4"/>
<use href="#R" x="112.7" y="248.1"/>
<use href="#R" x="146.1" y="244.5"/>
<use href="#R" x="110.2" y="241.8"/>
<use href="#R" x="319.7" y="250.4"/>
<use href="#R" x="241.5" y="238.6"/>
<use href="#R" x="255.9" y="236.4"/>
<use href="#R" x="136.9" y="268"/>
<use href="#R" x="281.8" y="244.4"/>
<use href="#R" x="42.9" y="237.4"/>
<use href="#R" x="264.9" y="250.6"/>
<use href="#R" x="227.8" y="261.2"/>
<use href="#R" x="233.2" y="247"/>
<use href="#R" x="287.2" y="247.3"/>
<use href="#R" x="105.3" y="240.6"/>
<use href="#R" x="290.8" y="244.6"/>
<use href="#R" x="246.2" y="243.9"/>
<use href="#R" x="105" y="244"/>
<use href="#R" x="281.9" y="238.9"/>
<use href="#R" x="106.8" y="236.9"/>
<use href="#R" x="316.1" y="249.7"/>
<use href="#R" x="310.5" y="238.6"/>
<use href="#R" x="42" y="235.1"/>
<use href="#R" x="208.8" y="240.2"/>
<use href="#R" x="158" y="242.9"/>
<use href="#R" x="99.2" y="247.1"/>
<use href="#R" x="200.1" y="236.9"/>
<use href="#R" x="102.7" y="249.2"/>
<use href="#R" x="155.9" y="268.3"/>
<use href="#R" x="73.5" y="248.4"/>
<use href="#R" x="200.5" y="235.8"/>
<use href="#R" x="141.1" y="240.3"/>
<use href="#R" x="129.9" y="239.6"/>
<use href="#R" x="71.6" y="238.6"/>
<use href="#R" x="199.7" y="237.9"/>
<use href="#R" x="227.5" y="246.8"/>
<use href="#R" x="271.9" y="237.5"/>
<use href="#R" x="201.1" y="255.4"/>
<use href="#R" x="60.9" y="234.6"/>
<use href="#R" x="184.3" y="241.9"/>
<use href="#R" x="66.6" y="242.4"/>
<use href="#R" x="239.7" y="240.2"/>
<use href="#R" x="175" y="233"/>
<use href="#R" x="149.5" y="246.3"/>
<use href="#R" x="260.6" y="238.8"/>
<use href="#R" x="288.5" y="244.2"/>
<use href="#R" x="98.9" y="242.2"/>
<use href="#R" x="117.3" y="242.3"/>
<use href="#R" x="231.4" y="250.1"/>
<use href="#R" x="111.2" y="238.1"/>
<use href="#R" x="46.2" y="238.2"/>
<use href="#R" x="110" y="245.6"/>
<use href="#R" x="117.3" y="242.1"/>
<use href="#R" x="255.6" y="241.2"/>
<use href="#R" x="281.4" y="241.5"/>
<use href="#R" x="96.2" y="264.8"/>
<use href="#R" x="77.3" y="238.5"/>
<use href="#R" x="181.1" y="247.2"/>
<use href="#R" x="165.2" y="236.4"/>
<use href="#R" x="82.5" y="248.8"/>
<use href="#R" x="69.3" y="256.4"/>
<use href="#R" x="143.3" y="241.5"/>
<use href="#R" x="124.2" y="238.9"/>
<use href="#R" x="105.6" y="240.6"/>
<use href="#R" x="43.5" y="236.1"/>
<use href="#R" x="178.7" y="245.2"/>
<use href="#R" x="126.8" y="245.6"/>
<use href="#R" x="281.3" y="241.6"/>
<use href="#R" x="311.1" y="237.3"/>
<use href="#R" x="284.7" y="247.2"/>
<use href="#R" x="65.7" y="246"/>
<use href="#R" x="84.3" y="239.2"/>
<use href="#R" x="202.1" y="235.7"/>
<use href="#R" x="196.2" y="242.2"/>
<use href="#R" x="73.1" y="247.9"/>
<use href="#R" x="297.5" y="250.3"/>
<use href="#R" x="176.3" y="241.4"/>
<use href="#R" x="75.4" y="230.3"/>
<use href="#R" x="171.1" y="236.1"/>
<use href="#R" x="219.2" y="240.6"/>
<use href="#R" x="274.9" y="250.1"/>
<use href="#R" x="301.7" y="239.6"/>
<use href="#R" x="251.1" y="252"/>
<use href="#R" x="268" y="240.2"/>
<use href="#R" x="270.1" y="246.2"/>
<use href="#R" x="140.4" y="248.9"/>
<use href="#R" x="105.8" y="245.4"/>
<use href="#R" x="232.6" y="253.6"/>
<use href="#R" x="201.9" y="245.2"/>
<use href="#R" x="173.2" y="240.3"/>
<use href="#R" x="61.8" y="249.5"/>
<use href="#R" x="253.7" y="245.6"/>
<use href="#R" x="173" y="244.9"/>
<use href="#R" x="42" y="244.3"/>
<use href="#R" x="229.3" y="241.5"/>
<use href="#R" x="116.5" y="239.4"/>
<use href="#R" x="170.8" y="229.2"/>
<use href="#R" x="238.2" y="240.6"/>
<use href="#R" x="77.1" y="244.5"/>
<use href="#R" x="320.9" y="249.9"/>
<use href="#R" x="95.9" y="269.1"/>
<use href="#R" x="294.6" y="257.8"/>
<use href="#R" x="131.3" y="246.3"/>
<use href="#R" x="197.5" y="240.3"/>
<use href="#R" x="62.3" y="243.3"/>
<use href="#R" x="72.1" y="247.8"/>
<use href="#R" x="170.4" y="236.8"/>
<use href="#R" x="168.3" y="267.2"/>
<use href="#R" x="130.8" y="244.6"/>
<use href="#R" x="202" y="236.5"/>
<use href="#R" x="95.3" y="242.9"/>
<use href="#R" x="316.4" y="242.9"/>
<use href="#R" x="213.6" y="240.9"/>
<use href="#R" x="194.5" y="241.2"/>
<use href="#R" x="86.5" y="250"/>
<use href="#R" x="141.5" y="249.8"/>
<use href="#R" x="178.4" y="233.7"/>
<use href="#R" x="326.1" y="243.9"/>
<use href="#R" x="265.3" y="236.7"/>
<use href="#R" x="122.8" y="238.9"/>
<use href="#R" x="321.8" y="250.1"/>
<use href="#R" x="280.7" y="243.8"/>
<use href="#R" x="130.9" y="235.3"/>
<use href="#R" x="248.8" y="239.1"/>
<use href="#R" x="273.1" y="244.1"/>
<use href="#R" x="322" y="246.6"/>
<use href="#R" x="247.9" y="245.1"/>
<use href="#R" x="176.9" y="236.7"/>
<use href="#R" x="286.1" y="246.3"/>
<use href="#R" x="229.1" y="246.1"/>
<use href="#R" x="110.1" y="265.9"/>
<use href="#R" x="234.5" y="247"/>
<use href="#R" x="292.8" y="239.8"/>
<use href="#R" x="283" y="241.2"/>
<use href="#R" x="311.3" y="243.7"/>
<use href="#R" x="207.8" y="243.5"/>
<use href="#R" x="85.5" y="245.1"/>
<use href="#R" x="254.7" y="239.2"/>
<use href="#R" x="198.8" y="245"/>
<use href="#R" x="277.7" y="246.3"/>
<use href="#R" x="242.7" y="252.8"/>
<use href="#R" x="79.1" y="241.3"/>
<use href="#R" x="214.9" y="241.7"/>
<use href="#R" x="177.6" y="243.7"/>
<use href="#R" x="233.7" y="239.6"/>
<use href="#R" x="89.8" y="233.4"/>
<use href="#R" x="185.7" y="253.1"/>
<use href="#R" x="277.3" y="241.1"/>
<use href="#R" x="151.2" y="249.9"/>
<use href="#R" x="94.2" y="251.2"/>
<use href="#R" x="60.6" y="238.5"/>
<use href="#R" x="320.4" y="241.8"/>
<use href="#R" x="270.2" y="239.3"/>
<use href="#R" x="265.7" y="238.3"/>
<use href="#R" x="133.6" y="240.3"/>
<use href="#R" x="199" y="247.1"/>
<use href="#R" x="205.3" y="258.4"/>
<use href="#R" x="251.6" y="225.9"/>
<use href="#R" x="216.2" y="246.2"/>
<use href="#R" x="134.1" y="248.1"/>
<use href="#R" x="94.8" y="235.5"/>
<use href="#R" x="120.9" y="246.6"/>
<use href="#R" x="321.2" y="240.6"/>
<use href="#R" x="276.7" y="246.5"/>
<use href="#R" x="263" y="251.4"/>
<use href="#R" x="322.5" y="237.7"/>
<use href="#R" x="259.8" y="243.4"/>
<use href="#R" x="223.3" y="236.7"/>
<use href="#R" x="319.1" y="238.6"/>
<use href="#R" x="54.6" y="252.3"/>
<use href="#R" x="96.3" y="239.8"/>
<use href="#R" x="198.9" y="254.2"/>
<use href="#R" x="312.4" y="236.8"/>
<use href="#R" x="120.7" y="240.4"/>
<use href="#R" x="277.6" y="263.6"/>
<use href="#R" x="86.3" y="242.5"/>
<use href="#R" x="113.2" y="244.5"/>
<use href="#R" x="57.5" y="243"/>
<use href="#R" x="212.9" y="247.5"/>
<use href="#R" x="144.8" y="243.8"/>
<use href="#R" x="120.4" y="246.8"/>
<use href="#R" x="276.1" y="242"/>
<use href="#R" x="254.4" y="241.7"/>
<use href="#R" x="218.9" y="238.7"/>
<use href="#R" x="212.9" y="246.2"/>
<use href="#R" x="272.4" y="247.1"/>
<use href="#R" x="62.7" y="251.3"/>
<use href="#R" x="289.5" y="257.2"/>
<use href="#R" x="296.6" y="246.6"/>
<use href="#R" x="271" y="239.1"/>
<use href="#R" x="316.5" y="254.2"/>
<use href="#R" x="243.1" y="241"/>
<use href="#R" x="58.4" y="241.7"/>
<use href="#R" x="253.5" y="234.5"/>
<use href="#R" x="322.9" y="243.3"/>
<use href="#R" x="119.2" y="244.1"/>
<use href="#R" x="317.6" y="245"/>
<use href="#R" x="297.9" y="240.8"/>
<use href="#R" x="106.7" y="242.7"/>
<use href="#R" x="226.5" y="236.2"/>
<use href="#R" x="290.9" y="240.5"/>
<use href="#R" x="108.1" y="234.5"/>
<use href="#R" x="325.8" y="239.5"/>
<use href="#R" x="48.1" y="242.4"/>
<use href="#R" x="288.7" y="250"/>
<use href="#R" x="283.2" y="239.8"/>
<use href="#R" x="249.1" y="252.9"/>
<use href="#R" x="115.7" y="239.5"/>
<use href="#R" x="146.3" y="241.2"/>
<use href="#R" x="160.8" y="245.5"/>
<use href="#R" x="231.1" y="240.9"/>
<use href="#R" x="66.1" y="236.9"/>
<use href="#R" x="191" y="240.9"/>
<use href="#R" x="293.8" y="246.3"/>
<use href="#R" x="280.9" y="238.4"/>
<use href="#R" x="174" y="245.8"/>
<use href="#R" x="110" y="249.7"/>
<use href="#R" x="58" y="243"/>
<use href="#R" x="67.6" y="240.5"/>
<use href="#R" x="48.6" y="236.5"/>
<use href="#R" x="274.3" y="242"/>
<use href="#R" x="88" y="238.6"/>
<use href="#R" x="276.5" y="248.7"/>
<use href="#R" x="55" y="247"/>
<use href="#R" x="193.7" y="244.6"/>
<use href="#R" x="268.7" y="235"/>
<use href="#R" x="236.7" y="239.5"/>
<use href="#R" x="161.6" y="248.3"/>
<use href="#R" x="135" y="242.1"/>
<use href="#R" x="144.3" y="241.9"/>
<use href="#R" x="293.3" y="244.6"/>
<use href="#R" x="163" y="251.8"/>
<use href="#R" x="54.2" y="242.3"/>
<use href="#R" x="125.8" y="234.9"/>
<use href="#R" x="318.2" y="244.9"/>
<use href="#R" x="236.2" y="243.6"/>
<use href="#R" x="55.3" y="249"/>
<use href="#R" x="154.8" y="248.1"/>
<use href="#R" x="124.1" y="241.8"/>
<use href="#R" x="256.9" y="244.7"/>
<use href="#R" x="201" y="250.3"/>
<use href="#R" x="324" y="244.1"/>
<use href="#R" x="127.2" y="242.5"/>
<use href="#R" x="182" y="244.1"/>
<use href="#R" x="184.3" y="244.9"/>
<use href="#R" x="258.5" y="240.2"/>
<use href="#R" x="102.5" y="254.5"/>
<use href="#R" x="61" y="247"/>
<use href="#R" x="181.1" y="263.2"/>
<use href="#R" x="50.3" y="252.7"/>
<use href="#R" x="305.5" y="241"/>
<use href="#R" x="210.5" y="252.5"/>
<use href="#R" x="51.4" y="238.6"/>
<use href="#R" x="211" y="243.3"/>
<use href="#R" x="313.5" y="233.4"/>
<use href="#R" x="267" y="246.3"/>
<use href="#R" x="181.2" y="247.4"/>
<use href="#R" x="136.4" y="237.8"/>
<use href="#R" x="108.2" y="249"/>
<use href="#R" x="259.8" y="243.1"/>
<use href="#R" x="282.1" y="246.1"/>
<use href="#R" x="131.6" y="244"/>
<use href="#R" x="45.5" y="241.3"/>
<use href="#R" x="113" y="255.5"/>
<use href="#R" x="55.7" y="243"/>
<use href="#R" x="51.3" y="244.1"/>
<use href="#R" x="255.1" y="243.4"/>
<use href="#R" x="157.3" y="242"/>
<use href="#R" x="88.2" y="244.9"/>
<use href="#R" x="309.9" y="238.4"/>
<use href="#R" x="262.1" y="252.6"/>
<use href="#R" x="207.1" y="252.7"/>
<use href="#R" x="84.6" y="247.6"/>
<use href="#R" x="299.7" y="245.5"/>
<use href="#R" x="191.2" y="240.2"/>
<use href="#R" x="226.9" y="240.6"/>
<use href="#R" x="318.6" y="246.7"/>
<use href="#R" x="312.5" y="245.5"/>
<use href="#R" x="104.2" y="245.1"/>
<use href="#R" x="189.9" y="242.8"/>
<use href="#R" x="147.9" y="234.6"/>
<use href="#R" x="132.3" y="247.9"/>
<use href="#R" x="218" y="257.4"/>
<use href="#R" x="200.6" y="246"/>
<use href="#R" x="226.4" y="249.3"/>
<use href="#R" x="312.1" y="235.2"/>
<use href="#R" x="157.7" y="250.8"/>
<use href="#R" x="186.8" y="236.5"/>
<use href="#R" x="49.5" y="243"/>
<use href="#R" x="292.2" y="241.3"/>
<use href="#R" x="144" y="242.2"/>
<use href="#R" x="226.1" y="234.8"/>
<use href="#R" x="214" y="235.4"/>
<use href="#R" x="91.4" y="245.6"/>
<use href="#R" x="213.7" y="238"/>
<use href="#R" x="113.6" y="255.9"/>
<use href="#R" x="80.8" y="247.1"/>
<use href="#R" x="266.5" y="238.6"/>
<use href="#R" x="67.1" y="244.9"/>
<use href="#R" x="185.3" y="235.9"/>
<use href="#R" x="190.6" y="251.4"/>
<use href="#R" x="136.2" y="245.1"/>
<use href="#R" x="172.4" y="238.4"/>
<use href="#R" x="326.5" y="248.1"/>
<use href="#R" x="233.8" y="240.9"/>
<use href="#R" x="143.1" y="253"/>
<use href="#R" x="319.8" y="244.2"/>
<use href="#R" x="194.2" y="250.2"/>
<use href="#R" x="204.2" y="247.5"/>
<use href="#R" x="263.7" y="247.9"/>
<use href="#R" x="249.5" y="240.9"/>
<use href="#R" x="164.2" y="237.9"/>
<use href="#R" x="142.9" y="243"/>
<use href="#R" x="99.9" y="242.1"/>
<use href="#R" x="106.8" y="244.5"/>
<use href="#R" x="62.3" y="232.2"/>
<use href="#R" x="247.3" y="237.1"/>
<use href="#R" x="236.1" y="242.7"/>
<use href="#R" x="226.9" y="245.8"/>
<use href="#R" x="263.9" y="243.3"/>
<use href="#R" x="198" y="243"/>
<use href="#R" x="193.2" y="246.2"/>
<use href="#R" x="115.7" y="251.7"/>
<use href="#R" x="230.2" y="243.8"/>
<use href="#R" x="281.1" y="243.7"/>
<use href="#R" x="55" y="249.6"/>
<use href="#R" x="247.8" y="243.3"/>
<use href="#R" x="288.6" y="272.6"/>
<use href="#R" x="225.1" y="240"/>
<use href="#R" x="285" y="245.4"/>
<use href="#R" x="182.6" y="247.5"/>
<use href="#R" x="144.8" y="247"/>
<use href="#R" x="232.6" y="236"/>
<use href="#R" x="294" y="240.9"/>
<use href="#R" x="323" y="233.8"/>
<use href="#R" x="124.4" y="232.4"/>
<use href="#R" x="270.9" y="242.8"/>
<use href="#R" x="309.7" y="247.7"/>
<use href="#R" x="70.2" y="236.8"/>
<use href="#R" x="153.5" y="242.8"/>
<use href="#R" x="93.2" y="245.8"/>
<use href="#R" x="74.1" y="244.3"/>
<use href="#R" x="193.9" y="246"/>
<use href="#R" x="132.4" y="248.1"/>
<use href="#R" x="254.4" y="237.2"/>
<use href="#R" x="294.7" y="249.8"/>
<use href="#R" x="138.6" y="253.6"/>
<use href="#R" x="56.9" y="233.5"/>
<use href="#R" x="278.1" y="247.1"/>
<use href="#R" x="156.1" y="240.7"/>
<use href="#R" x="235.9" y="239.8"/>
<use href="#R" x="51.8" y="236.3"/>
<use href="#R" x="168.8" y="237.3"/>
<use href="#R" x="264.1" y="252.7"/>
<use href="#R" x="119.6" y="240"/>
<use href="#R" x="287.8" y="250.3"/>
<use href="#R" x="160.1" y="247.5"/>
<use href="#R" x="58.2" y="263.1"/>
<use href="#R" x="226.9" y="254.5"/>
<use href="#R" x="259.9" y="244.3"/>
<use href="#R" x="239" y="244.9"/>
<use href="#R" x="286.6" y="244"/>
<use href="#R" x="216.9" y="249.3"/>
<use href="#R" x="265" y="239.5"/>
<use href="#R" x="97.5" y="242.7"/>
<use href="#R" x="53.8" y="232.9"/>
<use href="#R" x="43.8" y="240.5"/>
<use href="#R" x="71.4" y="243.9"/>
<use href="#R" x="101.8" y="247.4"/>
<use href="#R" x="48" y="238.8"/>
<use href="#R" x="204.6" y="247.6"/>
<use href="#R" x="80.9" y="235.1"/>
<use href="#R" x="187.9" y="241.9"/>
<use href="#R" x="54.3" y="240.6"/>
<use href="#R" x="221.4" y="241.8"/>
<use href="#R" x="40.9" y="245.1"/>
<use href="#R" x="261.6" y="247.9"/>
<use href="#R" x="194" y="238.1"/>
<use href="#R" x="198.9" y="236.8"/>
<use href="#R" x="309.1" y="246"/>
<use href="#R" x="169.8" y="246.8"/>
<use href="#R" x="203.5" y="245.2"/>
<use href="#R" x="269" y="260"/>
<use href="#R" x="100.3" y="240.3"/>
<use href="#R" x="109" y="236.7"/>
<use href="#R" x="77.1" y="241.6"/>
<use href="#R" x="46.2" y="241.5"/>
<use href="#R" x="98.3" y="248.2"/>
<use href="#R" x="302.6" y="247.7"/>
<use href="#R" x="70.8" y="236.1"/>
<use href="#R" x="49.8" y="247.8"/>
<use href="#R" x="229.3" y="244.2"/>
<use href="#R" x="318.9" y="243.6"/>
<use href="#R" x="276.8" y="238"/>
<use href="#R" x="137.9" y="234.9"/>
<use href="#R" x="80.4" y="235.8"/>
<use href="#R" x="250" y="232.3"/>
<use href="#R" x="309" y="245.2"/>
<use href="#R" x="324.9" y="245"/>
<use href="#R" x="274.5" y="268.1"/>
<use href="#R" x="188.3" y="243.6"/>
<use href="#R" x="303.9" y="248.2"/>
<use href="#R" x="215.4" y="242.3"/>
<use href="#R" x="70.4" y="248.7"/>
<use href="#R" x="190.7" y="238.2"/>
<use href="#R" x="147.7" y="240.9"/>
<use href="#R" x="144.6" y="248.5"/>
<use href="#R" x="163.4" y="254.4"/>
<use href="#R" x="314.4" y="249.8"/>
<use href="#R" x="265.2" y="240.9"/>
<use href="#R" x="136.8" y="246.1"/>
<use href="#R" x="60.5" y="240.8"/>
<use href="#R" x="232.1" y="251.7"/>
<use href="#R" x="95.6" y="246"/>
<use href="#R" x="139.6" y="254.1"/>
<use href="#R" x="243.8" y="245.1"/>
<use href="#R" x="40.6" y="241.6"/>
<use href="#R" x="120.2" y="230.5"/>
<use href="#R" x="51.4" y="238.2"/>
<use href="#R" x="223.6" y="230.3"/>
<use href="#R" x="84.6" y="239.7"/>
<use href="#R" x="269.5" y="251.6"/>
<use href="#R" x="253.2" y="237.7"/>
<use href="#R" x="175.5" y="248.3"/>
<use href="#R" x="240.4" y="244.3"/>
<use href="#R" x="253.1" y="241.3"/>
<use href="#R" x="150.5" y="247.2"/>
<use href="#R" x="285.9" y="246.4"/>
<use href="#R" x="137.3" y="238.6"/>
<use href="#R" x="134.7" y="254.6"/>
<use href="#R" x="45.1" y="254.5"/>
<use href="#R" x="243.7" y="240.8"/>
<use href="#R" x="129.5" y="240.7"/>
<use href="#R" x="258.7" y="241"/>
<use href="#R" x="158.1" y="241"/>
<use href="#R" x="130.5" y="234.8"/>
<use href="#R" x="76.9" y="238.7"/>
<use href="#R" x="185.4" y="238"/>
<use href="#R" x="124" y="245.2"/>
<use href="#R" x="103.4" y="237.2"/>
<use href="#R" x="71.7" y="247.8"/>
<use href="#R" x="170.5" y="251.5"/>
<use href="#R" x="99.9" y="240.4"/>
<use href="#R" x="113.6" y="242.5"/>
<use href="#R" x="279.8" y="242.3"/>
<use href="#R" x="109.9" y="235.5"/>
<use href="#R" x="106.4" y="239"/>
<use href="#R" x="153.6" y="246.5"/>
<use href="#R" x="123.2" y="238.1"/>
<use href="#R" x="157.1" y="266.3"/>
<use href="#R" x="52.2" y="237.7"/>
<use href="#R" x="138.5" y="238.3"/>
<use href="#R" x="224.5" y="227.2"/>
<use href="#R" x="210.1" y="241.9"/>
<use href="#R" x="322.8" y="246.9"/>
<use href="#R" x="207.1" y="268.6"/>
<use href="#R" x="151.7" y="242"/>
<use href="#R" x="154.1" y="242.4"/>
<use href="#R" x="222.7" y="244"/>
<use href="#R" x="287.7" y="237.8"/>
<use href="#R" x="324.5" y="234"/>
<use href="#R" x="262.5" y="233.3"/>
<use href="#R" x="206" y="240.3"/>
<use href="#R" x="156.8" y="245.4"/>
<use href="#R" x="289.7" y="241.9"/>
<use href="#R" x="46.6" y="239.4"/>
<use href="#R" x="228.8" y="237.8"/>
<use href="#R" x="165.9" y="243.5"/>
<use href="#R" x="44.1" y="241.3"/>
<use href="#R" x="240.1" y="249.1"/>
<use href="#R" x="308.6" y="242.3"/>
<use href="#R" x="267.6" y="239.1"/>
<use href="#R" x="251.1" y="244.1"/>
<use href="#R" x="304.8" y="240.8"/>
<use href="#R" x="98.8" y="241.2"/>
<use href="#R" x="158.2" y="241.3"/>
<use href="#R" x="112.3" y="240.2"/>
<use href="#R" x="261.2" y="236.8"/>
<use href="#R" x="210.9" y="240.3"/>
<use href="#R" x="266.1" y="242"/>
<use href="#R" x="113.9" y="275.9"/>
<use href="#R" x="310.1" y="237.2"/>
<use href="#R" x="214.6" y="237.9"/>
<use href="#R" x="115.3" y="253.8"/>
<use href="#R" x="234.8" y="246.6"/>
<use href="#R" x="295.1" y="248.5"/>
<use href="#R" x="238" y="243.9"/>
<use href="#R" x="62.9" y="245.4"/>
<use href="#R" x="286.8" y="237.4"/>
<use href="#R" x="195.8" y="243.7"/>
<use href="#R" x="263.3" y="248.2"/>
<use href="#R" x="81" y="244.3"/>
<use href="#R" x="111.3" y="237.4"/>
<use href="#R" x="127.3" y="245.7"/>
<use href="#R" x="231" y="240.2"/>
<use href="#R" x="245" y="252.8"/>
<use href="#R" x="257.3" y="241.9"/>
<use href="#R" x="46.7" y="241.7"/>
<use href="#R" x="257.1" y="248.2"/>
<use href="#R" x="152.4" y="233.1"/>
<use href="#R" x="93.2" y="240.7"/>
<use href="#R" x="257.8" y="254.6"/>
<use href="#R" x="82.8" y="241.6"/>
<use href="#R" x="55.8" y="248.5"/>
<use href="#R" x="53.5" y="242"/>
<use href="#R" x="207" y="243.7"/>
<use href="#R" x="308.9" y="254.2"/>
<use href="#R" x="155.4" y="240.5"/>
<use href="#R" x="282.3" y="245.9"/>
<use href="#R" x="183.2" y="236.6"/>
<use href="#R" x="301.2" y="236.8"/>
<use href="#R" x="283.7" y="240.7"/>
<use href="#R" x="238.4" y="255"/>
<use href="#R" x="168.5" y="238"/>
<use href="#R" x="64.1" y="240.2"/>
<use href="#R" x="265.7" y="243"/>
<use href="#R" x="122.1" y="252.3"/>
<use href="#R" x="151.1" y="241.7"/>
<use href="#R" x="304.4" y="250.8"/>
<use href="#R" x="323.6" y="244.1"/>
<use href="#R" x="135" y="247"/>
<use href="#R" x="245.5" y="241.3"/>
<use href="#R" x="259.5" y="238.3"/>
<use href="#R" x="292.6" y="234.3"/>
<use href="#R" x="136" y="241.8"/>
<use href="#R" x="324.2" y="239.3"/>
<use href="#R" x="322.4" y="238.4"/>
<use href="#R" x="189.4" y="243.9"/>
<use href="#R" x="56.8" y="243.5"/>
<use href="#R" x="81.7" y="248"/>
<use href="#R" x="311.5" y="254.2"/>
<use href="#R" x="234.5" y="241.6"/>
<use href="#R" x="146.2" y="236.5"/>
<use href="#R" x="273.3" y="239.1"/>
<use href="#R" x="84.1" y="250.9"/>
<use href="#R" x="69.2" y="238.3"/>
<use href="#R" x="58.9" y="257.4"/>
<use href="#R" x="195.1" y="243.6"/>
<use href="#R" x="270.2" y="234.8"/>
<use href="#R" x="61.1" y="239.6"/>
<use href="#R" x="136.5" y="243.2"/>
<use href="#R" x="166.1" y="240.3"/>
<use href="#R" x="274" y="236.9"/>
<use href="#R" x="199.5" y="242.3"/>
<use href="#R" x="70.7" y="239"/>
<use href="#R" x="82.8" y="243.7"/>
<use href="#R" x="68.7" y="244.8"/>
<use href="#R" x="268" y="233.8"/>
<use href="#R" x="162.1" y="243.1"/>
<use href="#R" x="186.5" y="228.3"/>
<use href="#R" x="290.8" y="252"/>
<use href="#R" x="85" y="240.9"/>
<use href="#R" x="97.4" y="245.7"/>
<use href="#R" x="181.2" y="246.9"/>
<use href="#R" x="123.4" y="240.8"/>
<use href="#R" x="213.2" y="239.5"/>
<use href="#R" x="301.1" y="243.9"/>
<use href="#R" x="240" y="236.6"/>
<use href="#R" x="208.3" y="240.6"/>
<use href="#R" x="320.3" y="235.7"/>
<use href="#R" x="170.8" y="235.3"/>
<use href="#R" x="198.3" y="244.8"/>
<use href="#R" x="300.6" y="240.7"/>
<use href="#R" x="211.1" y="245.6"/>
<use href="#R" x="241.1" y="240.2"/>
<use href="#R" x="121.9" y="245.9"/>
<use href="#R" x="65.9" y="246.2"/>
<use href="#R" x="314.5" y="240.7"/>
<use href="#R" x="269" y="236"/>
<use href="#R" x="92.3" y="257"/>
<use href="#R" x="198.1" y="247.5"/>
<use href="#R" x="80.2" y="272.5"/>
<use href="#R" x="242.2" y="243.9"/>
<use href="#R" x="225.1" y="239.8"/>
<use href="#R" x="143.4" y="238.5"/>
<use href="#R" x="237" y="247.3"/>
<use href="#R" x="192.2" y="236.6"/>
<use href="#R" x="256.6" y="271.4"/>
<use href="#R" x="50.8" y="247.8"/>
<use href="#R" x="71.3" y="244"/>
<use href="#R" x="201.4" y="242.6"/>
<use href="#R" x="236.1" y="232.9"/>
<use href="#R" x="181.7" y="258.5"/>
<use href="#R" x="150.5" y="236.3"/>
<use href="#R" x="172.1" y="244.3"/>
<use href="#R" x="107.5" y="239.5"/>
<use href="#R" x="234.2" y="243.8"/>
<use href="#R" x="214.4" y="239"/>
<use href="#R" x="315.9" y="237.4"/>
<use href="#R" x="324.6" y="235.1"/>
<use href="#R" x="143.8" y="244.5"/>
<use href="#R" x="126.5" y="238.6"/>
<use href="#R" x="234.3" y="243.3"/>
<use href="#R" x="174.3" y="238.6"/>
<use href="#R" x="289.8" y="265.4"/>
<use href="#R" x="124.9" y="241.4"/>
<use href="#R" x="192.9" y="242.2"/>
<use href="#R" x="104.4" y="246.7"/>
<use href="#R" x="225.2" y="248.6"/>
<use href="#R" x="161.6" y="248.2"/>
<use href="#R" x="317.5" y="239.5"/>
<use href="#R" x="82" y="242.2"/>
<use href="#R" x="57.7" y="245.6"/>
<use href="#R" x="286.7" y="251.8"/>
<use href="#R" x="194.9" y="248.5"/>
<use href="#R" x="188.8" y="240.1"/>
<use href="#R" x="188.4" y="249.3"/>
<use href="#R" x="150.6" y="249.1"/>
<use href="#R" x="313.6" y="241"/>
<use href="#R" x="116.2" y="239.7"/>
<use href="#R" x="141.5" y="261.5"/>
<use href="#R" x="246.9" y="239.9"/>
<use href="#R" x="295.9" y="257.7"/>
<use href="#R" x="43.2" y="239.9"/>
<use href="#R" x="70.4" y="254.2"/>
<use href="#R" x="154.6" y="242.8"/>
<use href="#R" x="284" y="242.7"/>
<use href="#R" x="148.2" y="236.6"/>
<use href="#R" x="45.3" y="244.9"/>
<use href="#R" x="121.6" y="246.2"/>
<use href="#R" x="314.3" y="245.9"/>
<use href="#R" x="142.4" y="247.2"/>
<use href="#R" x="315.8" y="241.9"/>
<use href="#R" x="128.1" y="227.8"/>
<use href="#R" x="75.5" y="241.6"/>
<use href="#R" x="269.3" y="248"/>
<use href="#R" x="258.8" y="248.7"/>
<use href="#R" x="250.7" y="238.7"/>
<use href="#R" x="174.1" y="246.4"/>
<use href="#R" x="78.1" y="240.6"/>
<use href="#R" x="231.5" y="241"/>
<use href="#R" x="124.9" y="240.1"/>
<use href="#R" x="114.6" y="242.8"/>
<use href="#R" x="228.4" y="239.8"/>
<use href="#R" x="141.3" y="241.9"/>
<use href="#R" x="53.8" y="246.1"/>
<use href="#R" x="162.6" y="238.3"/>
<use href="#R" x="104.4" y="247.2"/>
<use href="#R" x="317.3" y="240.9"/>
<use href="#R" x="298.1" y="232.8"/>
<use href="#R" x="166.7" y="240"/>
<use href="#R" x="102.2" y="235.7"/>
<use href="#R" x="106.9" y="237.7"/>
<use href="#R" x="229.7" y="231.3"/>
<use href="#R" x="301.5" y="265.6"/>
<use href="#R" x="95.7" y="247.9"/>
<use href="#R" x="279.6" y="243.9"/>
<use href="#R" x="131.3" y="240.9"/>
<use href="#R" x="268.7" y="239.8"/>
<use href="#R" x="223.9" y="245.5"/>
<use href="#R" x="114.8" y="232.7"/>
<use href="#R" x="158.9" y="237.8"/>
<use href="#R" x="277.1" y="247.1"/>
<use href="#R" x="110.4" y="237.2"/>
<use href="#R" x="160.4" y="236.8"/>
<use href="#R" x="145" y="250.7"/>
<use href="#R" x="86" y="237.7"/>
<use href="#R" x="314.9" y="230"/>
<use href="#R" x="44.5" y="231.7"/>
<use href="#R" x="157.6" y="240.8"/>
<use href="#R" x="249.8" y="245.3"/>
<use href="#R" x="117" y="245.2"/>
<use href="#R" x="232.1" y="238.7"/>
<use href="#R" x="137" y="241.4"/>
<use href="#R" x="138.7" y="246.3"/>
<use href="#R" x="153.5" y="250.4"/>
<use href="#R" x="86.4" y="276.5"/>
<use href="#R" x="226.5" y="251.1"/>
<use href="#R" x="96.5" y="273.5"/>
<use href="#R" x="184" y="240"/>
<use href="#R" x="137.7" y="255.5"/>
<use href="#R" x="286.4" y="242.9"/>
<use href="#R" x="298.2" y="236"/>
<use href="#R" x="206.2" y="246.4"/>
<use href="#R" x="150.3" y="248.3"/>
<use href="#R" x="311.7" y="243.3"/>
<use href="#R" x="242.6" y="237.4"/>
<use href="#R" x="176.3" y="238.9"/>
<use href="#R" x="91.7" y="241.3"/>
<use href="#R" x="247.3" y="237.9"/>
<use href="#R" x="100.6" y="228"/>
<use href="#R" x="103.7" y="246.2"/>
<use href="#R" x="109.2" y="241.7"/>
<use href="#R" x="135.5" y="239"/>
<use href="#R" x="320.8" y="263.8"/>
<use href="#R" x="222.6" y="240.8"/>
<use href="#R" x="271.8" y="241.3"/>
<use href="#R" x="82.8" y="247.2"/>
<use href="#R" x="48.8" y="243"/>
<use href="#R" x="86.7" y="239.8"/>
<use href="#R" x="325.3" y="242.1"/>
<use href="#R" x="164.9" y="243.5"/>
<use href="#R" x="192" y="244.6"/>
<use href="#R" x="152.7" y="236.7"/>
<use href="#R" x="231.7" y="246.4"/>
<use href="#R" x="213.3" y="253.2"/>
<use href="#R" x="139.6" y="251"/>
<use href="#R" x="214.8" y="253.1"/>
<use href="#R" x="312.9" y="240.4"/>
<use href="#R" x="274.1" y="239.1"/>
<use href="#R" x="306.2" y="246"/>
<use href="#R" x="296" y="236.5"/>
<use href="#R" x="131.6" y="251.9"/>
<use href="#R" x="153.9" y="241.6"/>
<use href="#R" x="288.1" y="239.1"/>
<use href="#R" x="194.7" y="239.3"/>
<use href="#R" x="111.7" y="247.2"/>
<use href="#R" x="199.1" y="245"/>
<use href="#R" x="201.4" y="238"/>
<use href="#R" x="100.1" y="242.1"/>
<use href="#R" x="119.9" y="240.6"/>
<use href="#R" x="225.6" y="238"/>
<use href="#R" x="178.7" y="239.4"/>
<use href="#R" x="299.9" y="251"/>
<use href="#R" x="209.2" y="239.8"/>
<use href="#R" x="248.6" y="238"/>
<use href="#R" x="47.5" y="246.5"/>
<use href="#R" x="147.7" y="236.8"/>
<use href="#R" x="130.3" y="241.6"/>
<use href="#R" x="211.9" y="238.4"/>
<use href="#R" x="123.7" y="241.2"/>
<use href="#R" x="305.5" y="241.4"/>
<use href="#R" x="306.6" y="235.2"/>
<use href="#R" x="60.4" y="252.1"/>
<use href="#R" x="269.3" y="270.7"/>
<use href="#R" x="247.1" y="250.1"/>
<use href="#R" x="140.3" y="241.9"/>
<use href="#R" x="88.5" y="244.8"/>
<use href="#R" x="52.5" y="238.6"/>
<use href="#R" x="208.6" y="243"/>
<use href="#R" x="215.6" y="253.9"/>
<use href="#R" x="42.6" y="246.9"/>
<use href="#R" x="128.6" y="251.3"/>
<use href="#R" x="265.8" y="253.2"/>
<use href="#R" x="128.4" y="240.5"/>
<use href="#R" x="115" y="244.6"/>
<use href="#R" x="288.5" y="244.7"/>
<use href="#R" x="220" y="240.3"/>
<use href="#R" x="230.5" y="235.1"/>
<use href="#R" x="210.5" y="235.8"/>
<use href="#R" x="152.7" y="247.1"/>
<use href="#R" x="76" y="233.5"/>
<use href="#R" x="112.9" y="241"/>
<use href="#R" x="241.4" y="250.1"/>
<use href="#R" x="243.8" y="240.9"/>
<use href="#R" x="192.2" y="239.5"/>
<use href="#R" x="78.9" y="242"/>
<use href="#R" x="85.1" y="241.8"/>
<use href="#R" x="71.8" y="247"/>
<use href="#R" x="198" y="235.7"/>
<use href="#R" x="123.2" y="255.5"/>
<use href="#R" x="160.3" y="245"/>
<use href="#R" x="296.8" y="247.4"/>
<use href="#R" x="203.5" y="247.4"/>
<use href="#R" x="293.8" y="249.7"/>
<use href="#R" x="159.2" y="248.4"/>
<use href="#R" x="299.4" y="246.5"/>
<use href="#R" x="114.2" y="242.7"/>
<use href="#R" x="309.1" y="246.1"/>
<use href="#R" x="307.2" y="243"/>
<use href="#R" x="50.9" y="251.5"/>
<use href="#R" x="132" y="243.2"/>
<use href="#R" x="193.7" y="246.7"/>
<use href="#R" x="211.2" y="245.8"/>
<use href="#R" x="92.3" y="242.7"/>
<use href="#R" x="283.4" y="236.3"/>
<use href="#R" x="168.6" y="245.8"/>
<use href="#R" x="133.1" y="233.1"/>
<use href="#R" x="195.2" y="244.6"/>
<use href="#R" x="69.1" y="245.8"/>
<use href="#R" x="106.2" y="237.9"/>
<use href="#R" x="178.4" y="235"/>
<use href="#R" x="228" y="251.6"/>
<use href="#R" x="261.6" y="240.4"/>
<use href="#R" x="272.1" y="238.5"/>
<use href="#R" x="239.1" y="247.1"/>
<use href="#R" x="275" y="243.3"/>
<use href="#R" x="205.4" y="241.1"/>
<use href="#R" x="280.6" y="243.3"/>
<use href="#R" x="202.4" y="238.6"/>
<use href="#R" x="228" y="262.9"/>
<use href="#R" x="118.9" y="239.7"/>
<use href="#R" x="279" y="240.6"/>
<use href="#R" x="216.1" y="243.5"/>
<use href="#R" x="63.7" y="244.3"/>
<use href="#R" x="165.5" y="247.3"/>
<use href="#R" x="275.8" y="241.8"/>
<use href="#R" x="294.6" y="241.2"/>
<use href="#R" x="237.6" y="252.4"/>
<use href="#R" x="86.1" y="245.2"/>
<use href="#R" x="201.7" y="236.2"/>
<use href="#R" x="168" y="245.7"/>
<use href="#R" x="261.1" y="247.4"/>
<use href="#R" x="318" y="252.5"/>
<use href="#B" x="213.1" y="243.8"/>
<use href="#B" x="217.1" y="242.8"/>
<use href="#B" x="241.5" y="241.3"/>
<use href="#B" x="67.2" y="241.3"/>
<use href="#B" x="99.2" y="244.7"/>
<use href="#B" x="236.2" y="244"/>
<use href="#B" x="202.8" y="239.9"/>
<use href="#B" x="143.9" y="242.6"/>
<use href="#B" x="182.7" y="241.5"/>
<use href="#B" x="161.5" y="245.5"/>
<use href="#B" x="171.1" y="242.7"/>
<use href="#B" x="66.7" y="247.9"/>
<use href="#B" x="201.6" y="246.1"/>
<use href="#B" x="111.7" y="240.1"/>
<use href="#B" x="225.6" y="237.8"/>
<use href="#B" x="268.7" y="244.3"/>
<use href="#B" x="158.1" y="243"/>
<use href="#B" x="248.1" y="237.9"/>
<use href="#B" x="45.7" y="241.6"/>
<use href="#B" x="90.5" y="244.3"/>
<use href="#B" x="271.1" y="242.8"/>
<use href="#B" x="155.5" y="246.1"/>
<use href="#B" x="112" y="246.6"/>
<use href="#B" x="130.6" y="245.5"/>
<use href="#B" x="159.9" y="238.7"/>
<use href="#B" x="134.9" y="240.5"/>
<use href="#B" x="201.4" y="240.9"/>
<use href="#B" x="251.8" y="245.7"/>
<use href="#B" x="102.3" y="241.1"/>
<use href="#B" x="150.9" y="239.6"/>
<use href="#B" x="113.8" y="236.6"/>
<use href="#B" x="262.6" y="243.6"/>
<use href="#B" x="78.1" y="236.3"/>
<use href="#B" x="89.1" y="236.5"/>
<use href="#B" x="219.7" y="240.7"/>
<use href="#B" x="160.6" y="235"/>
<use href="#B" x="82" y="245.6"/>
<use href="#B" x="49.1" y="241.3"/>
<use href="#B" x="216.7" y="243"/>
<use href="#B" x="195.1" y="239.8"/>
<use href="#B" x="92" y="241.6"/>
<use href="#B" x="62.6" y="239.8"/>
<use href="#B" x="61.2" y="243.2"/>
<use href="#B" x="61.8" y="241"/>
<use href="#B" x="204.4" y="236"/>
<use href="#B" x="92.9" y="239.9"/>
<use href="#B" x="243.4" y="242.8"/>
<use href="#B" x="115.2" y="239.7"/>
<use href="#B" x="249.2" y="239.4"/>
<use href="#B" x="47.6" y="243.6"/>
<use href="#B" x="95.1" y="235.8"/>
<use href="#B" x="164.9" y="241.8"/>
<use href="#B" x="92.4" y="237.8"/>
<use href="#B" x="55.9" y="241.4"/>
<use href="#B" x="200" y="241.7"/>
<use href="#B" x="199.4" y="242.1"/>
<use href="#B" x="263.1" y="241.4"/>
<use href="#B" x="299.5" y="241.6"/>
<use href="#B" x="247.4" y="247"/>
<use href="#B" x="210.7" y="244.7"/>
<use href="#B" x="217.5" y="242.6"/>
<use href="#B" x="148.9" y="239"/>
<use href="#B" x="128" y="247.3"/>
<use href="#B" x="179.7" y="240.1"/>
<use href="#B" x="195.6" y="244.2"/>
<use href="#B" x="162.6" y="240.2"/>
<use href="#B" x="57.9" y="241.8"/>
<use href="#B" x="43.1" y="243.4"/>
<use href="#B" x="61.2" y="243.3"/>
<use href="#B" x="55.9" y="241.6"/>
<use href="#B" x="123.5" y="243.3"/>
<use href="#B" x="117.6" y="239.6"/>
<use href="#B" x="254.6" y="241.9"/>
<use href="#B" x="225.9" y="243.3"/>
<use href="#B" x="164.2" y="240.9"/>
<use href="#B" x="82.8" y="239.5"/>
<use href="#B" x="226.7" y="242.5"/>
<use href="#B" x="251.7" y="238"/>
<use href="#B" x="108.6" y="241.6"/>
<use href="#B" x="215.1" y="238.9"/>
<use href="#B" x="248.6" y="238.7"/>
<use href="#B" x="156.4" y="242.7"/>
<use href="#B" x="200.6" y="237.8"/>
<use href="#B" x="174.1" y="246.7"/>
<use href="#B" x="284.9" y="243.7"/>
<use href="#B" x="42.1" y="237.8"/>
<use href="#B" x="92.9" y="241.4"/>
<use href="#B" x="233.5" y="240.9"/>
<use href="#B" x="100.6" y="247"/>
<use href="#B" x="215.1" y="241.1"/>
<use href="#B" x="207.5" y="240"/>
<use href="#B" x="254.1" y="240.9"/>
<use href="#B" x="149.4" y="240.5"/>
<use href="#B" x="156.5" y="242.3"/>
<use href="#B" x="270.9" y="242.5"/>
<use href="#B" x="254.8" y="242.9"/>
<use href="#B" x="77.7" y="243.1"/>
<use href="#B" x="211.2" y="243.2"/>
<use href="#B" x="263.3" y="238.5"/>
<use href="#B" x="157.7" y="243.4"/>
<use href="#B" x="198.2" y="235"/>
<use href="#B" x="132" y="240.5"/>
<use href="#B" x="210.4" y="242.6"/>
<use href="#B" x="249.6" y="237.1"/>
<use href="#B" x="188.2" y="240.5"/>
<use href="#B" x="243.9" y="244.4"/>
<use href="#B" x="78.2" y="244"/>
<use href="#B" x="202.6" y="241.8"/>
<use href="#B" x="221" y="242"/>
<use href="#B" x="84.7" y="242.1"/>
<use href="#B" x="220.8" y="242.1"/>
<use href="#B" x="81.3" y="238.2"/>
<use href="#B" x="81.3" y="239.5"/>
<use href="#B" x="190.8" y="237.1"/>
<use href="#B" x="271.6" y="238.6"/>
<use href="#B" x="219.3" y="240.6"/>
<use href="#B" x="205.5" y="239.3"/>
<use href="#B" x="75.5" y="240.2"/>
<use href="#B" x="223.2" y="240.8"/>
<use href="#B" x="221.5" y="242.5"/>
<use href="#B" x="194.4" y="242"/>
<use href="#B" x="49.6" y="238"/>
<use href="#B" x="96.1" y="239.6"/>
<use href="#B" x="64" y="241.3"/>
<use href="#B" x="210.7" y="241.2"/>
<use href="#B" x="228" y="241.6"/>
<use href="#B" x="192.6" y="240.3"/>
<use href="#B" x="178.7" y="239.8"/>
<use href="#B" x="106.9" y="239.6"/>
<use href="#B" x="165.7" y="243"/>
<use href="#B" x="197.1" y="240.1"/>
<use href="#B" x="60.2" y="239.5"/>
<use href="#B" x="76.4" y="236.1"/>
<use href="#B" x="259.2" y="244.1"/>
<use href="#B" x="120.4" y="241.5"/>
<use href="#B" x="95.1" y="237.2"/>
<use href="#B" x="130.1" y="242.5"/>
<use href="#B" x="255.7" y="239.2"/>
<use href="#B" x="270.9" y="236.3"/>
<use href="#B" x="217.1" y="235"/>
<use href="#B" x="248.2" y="240.2"/>
<use href="#B" x="225.6" y="239.6"/>
<use href="#B" x="109.4" y="240.2"/>
<use href="#B" x="110.9" y="242.8"/>
<use href="#B" x="208.9" y="245"/>
<use href="#B" x="68.2" y="241.2"/>
<use href="#B" x="127.9" y="238.2"/>
<use href="#B" x="195.8" y="243"/>
<use href="#B" x="159.4" y="243.1"/>
<use href="#B" x="210" y="243.5"/>
<use href="#B" x="104.5" y="246.4"/>
<use href="#B" x="245.5" y="239.6"/>
<use href="#B" x="56.4" y="237.3"/>
<use href="#B" x="212.1" y="236.9"/>
<use href="#B" x="72.1" y="242.7"/>
<use href="#B" x="123.6" y="245.6"/>
<use href="#B" x="112.6" y="237.2"/>
<use href="#B" x="199.8" y="243.7"/>
<use href="#B" x="255" y="244.6"/>
<use href="#B" x="192.8" y="240.4"/>
<use href="#B" x="72.5" y="238.2"/>
<use href="#B" x="94.3" y="239.4"/>
<use href="#B" x="242.6" y="237.8"/>
<use href="#B" x="259.4" y="244.8"/>
<use href="#B" x="130.3" y="245"/>
<use href="#B" x="171.5" y="245.5"/>
<use href="#B" x="110.1" y="241.2"/>
<use href="#B" x="260" y="243"/>
<use href="#B" x="112.5" y="245"/>
<use href="#B" x="103.3" y="240.3"/>
<use href="#B" x="284.2" y="241.1"/>
<use href="#B" x="61.2" y="239.1"/>
<use href="#B" x="265.7" y="244.8"/>
<use href="#B" x="171.6" y="240.6"/>
<use href="#B" x="195.8" y="240.6"/>
<use href="#B" x="239.6" y="241.8"/>
<use href="#B" x="168.5" y="235.7"/>
<use href="#B" x="117.6" y="242.2"/>
<use href="#B" x="140.5" y="242.6"/>
<use href="#B" x="212.6" y="243.2"/>
<use href="#B" x="215.8" y="243.1"/>
<use href="#B" x="107.9" y="236.3"/>
<use href="#B" x="154.8" y="234.9"/>
<use href="#B" x="270" y="244.7"/>
<use href="#B" x="216.9" y="245.1"/>
<use href="#B" x="180" y="242.6"/>
<use href="#B" x="211.7" y="243.4"/>
<use href="#B" x="141.2" y="234.7"/>
<use href="#B" x="241" y="235.9"/>
<use href="#B" x="113.6" y="236.5"/>
<use href="#B" x="123.1" y="241"/>
<use href="#B" x="54.2" y="242"/>
<use href="#B" x="78.3" y="242.1"/>
<use href="#B" x="249.1" y="241.6"/>
<use href="#B" x="268.5" y="242.3"/>
<use href="#B" x="143.4" y="240.2"/>
<use href="#B" x="179.1" y="245.2"/>
<use href="#B" x="77.8" y="239.9"/>
<use href="#B" x="183.5" y="239.8"/>
<use href="#B" x="234.1" y="243.9"/>
<use href="#B" x="95.1" y="241.9"/>
<use href="#B" x="143.8" y="243.9"/>
<use href="#B" x="173.2" y="243.1"/>
<use href="#B" x="267" y="242.2"/>
<use href="#B" x="161.4" y="244.1"/>
<use href="#B" x="50.9" y="243.8"/>
<use href="#B" x="94.7" y="243.5"/>
<use href="#B" x="313.6" y="242.4"/>
<use href="#B" x="48.5" y="238.5"/>
<use href="#B" x="195.2" y="238.4"/>
<use href="#B" x="121.6" y="233.9"/>
<use href="#B" x="95.9" y="243.9"/>
<use href="#B" x="54.9" y="241.3"/>
<use href="#B" x="247.4" y="244.3"/>
<use href="#B" x="116.2" y="237.3"/>
<use href="#B" x="199.8" y="241.8"/>
<use href="#B" x="255" y="240.1"/>
<use href="#B" x="267" y="238.7"/>
<use href="#B" x="172.6" y="240.5"/>
<use href="#B" x="206.2" y="247.6"/>
<use href="#B" x="114.8" y="239.1"/>
<use href="#B" x="235.5" y="240.8"/>
<use href="#B" x="153.1" y="241.9"/>
<use href="#B" x="110.4" y="244.7"/>
<use href="#B" x="176.3" y="243.6"/>
<use href="#B" x="146.8" y="241.2"/>
<use href="#B" x="48.2" y="242.2"/>
<use href="#B" x="66.9" y="238.1"/>
<use href="#B" x="49.7" y="242.5"/>
<use href="#B" x="220.1" y="240.7"/>
<use href="#B" x="187.5" y="241.7"/>
<use href="#B" x="93.5" y="241.9"/>
<use href="#B" x="175.6" y="241.3"/>
<use href="#B" x="137.3" y="242.5"/>
<use href="#B" x="252.3" y="241.9"/>
<use href="#B" x="62" y="244.7"/>
<use href="#B" x="79.3" y="241.5"/>
<use href="#B" x="87.6" y="238.5"/>
<use href="#B" x="158.8" y="240.7"/>
<use href="#B" x="41.8" y="244.3"/>
<use href="#B" x="266.3" y="243.6"/>
<use href="#B" x="197.4" y="240.9"/>
<use href="#B" x="211.8" y="242.2"/>
<use href="#B" x="224" y="245"/>
<use href="#B" x="181.8" y="240.3"/>
<use href="#B" x="136.2" y="240.2"/>
<use href="#B" x="45.3" y="238.3"/>
<use href="#B" x="120.9" y="240.9"/>
<use href="#B" x="235.8" y="239.5"/>
<use href="#B" x="221.7" y="236.7"/>
<use href="#B" x="162.6" y="239.6"/>
<use href="#B" x="249.9" y="243.2"/>
<use href="#B" x="48.8" y="243.3"/>
<use href="#B" x="163.3" y="238.2"/>
<use href="#B" x="83.4" y="243.1"/>
<use href="#B" x="232.1" y="237.8"/>
<use href="#B" x="232.9" y="242.4"/>
<use href="#B" x="209.6" y="241.8"/>
<use href="#B" x="257.5" y="239.5"/>
<use href="#B" x="173.7" y="243.3"/>
<use href="#B" x="63.5" y="239.8"/>
<use href="#B" x="187.6" y="238.2"/>
<use href="#B" x="176.4" y="234.6"/>
<use href="#B" x="244.2" y="241.7"/>
<use href="#B" x="102.7" y="239.7"/>
<use href="#B" x="211.1" y="248"/>
<use href="#B" x="101.1" y="240.9"/>
<use href="#B" x="195.3" y="241.8"/>
<use href="#B" x="73.4" y="239.2"/>
<use href="#B" x="111.4" y="236.4"/>
<use href="#B" x="189.1" y="242.2"/>
<use href="#B" x="166.9" y="243"/>
<use href="#B" x="167.2" y="238.3"/>
<use href="#B" x="103.1" y="244.8"/>
<use href="#B" x="132.4" y="244.1"/>
<use href="#B" x="168.5" y="243.8"/>
<use href="#B" x="220.2" y="237.5"/>
<use href="#B" x="203.3" y="235.4"/>
<use href="#B" x="244.7" y="241.3"/>
<use href="#B" x="103" y="245.9"/>
<use href="#B" x="166.8" y="240.6"/>
<use href="#B" x="251.9" y="240.5"/>
<use href="#B" x="41.6" y="242.8"/>
<use href="#B" x="189" y="243.3"/>
<use href="#B" x="216.5" y="241.9"/>
<use href="#B" x="150.2" y="240.1"/>
<use href="#B" x="139" y="244.6"/>
<use href="#B" x="268" y="240.4"/>
<use href="#B" x="151.2" y="245.3"/>
<use href="#B" x="69" y="241.4"/>
<use href="#B" x="86.2" y="235.3"/>
<use href="#B" x="213.9" y="240.9"/>
<use href="#B" x="137.9" y="246.4"/>
<use href="#B" x="103.4" y="246"/>
<use href="#B" x="198.6" y="238.2"/>
<use href="#B" x="236" y="235.9"/>
<use href="#B" x="227.5" y="242.1"/>
<use href="#B" x="62.4" y="239.6"/>
<use href="#B" x="82.9" y="241.3"/>
<use href="#B" x="53.9" y="242.4"/>
<use href="#B" x="150.9" y="243.9"/>
<use href="#B" x="214" y="240.3"/>
<use href="#B" x="67.7" y="241"/>
<use href="#B" x="265.5" y="242.7"/>
<use href="#B" x="190" y="241.8"/>
<use href="#B" x="57.2" y="240.2"/>
<use href="#B" x="173.2" y="238.1"/>
<use href="#B" x="136.5" y="237.5"/>
<use href="#B" x="180.2" y="241.9"/>
<use href="#B" x="240.5" y="244.1"/>
<use href="#B" x="234.9" y="240.1"/>
<use href="#B" x="51.6" y="241.5"/>
<use href="#B" x="226.5" y="242.1"/>
<use href="#B" x="258.2" y="238.2"/>
<use href="#B" x="161" y="242.7"/>
<use href="#B" x="170.5" y="242.3"/>
<use href="#B" x="230.4" y="243.8"/>
<use href="#B" x="84.8" y="242.9"/>
<use href="#B" x="42.6" y="240.7"/>
<use href="#B" x="57.4" y="241.4"/>
<use href="#B" x="216.6" y="242.5"/>
<use href="#B" x="299.8" y="244.1"/>
<use href="#B" x="87.7" y="240.9"/>
<use href="#B" x="251.5" y="241.1"/>
<use href="#B" x="242.5" y="242.8"/>
<use href="#B" x="320.4" y="242.4"/>
<use href="#B" x="65.7" y="244.5"/>
<use href="#B" x="256.1" y="238.9"/>
<use href="#B" x="175.2" y="246.3"/>
<use href="#B" x="231.2" y="236.4"/>
<use href="#B" x="244.8" y="240.1"/>
<use href="#B" x="145.3" y="243.1"/>
<use href="#B" x="96.3" y="241.6"/>
<use href="#B" x="73.9" y="242.1"/>
<use href="#B" x="216.7" y="244.9"/>
<use href="#B" x="52.7" y="241.5"/>
<use href="#B" x="195.5" y="243"/>
<use href="#B" x="107.2" y="237.6"/>
<use href="#B" x="156.1" y="248.2"/>
<use href="#B" x="192.4" y="241.5"/>
<use href="#B" x="206.9" y="243.3"/>
<use href="#B" x="191.7" y="241.1"/>
<use href="#B" x="88.1" y="242.4"/>
<use href="#B" x="267.1" y="241.9"/>
<use href="#B" x="182.4" y="243.8"/>
<use href="#B" x="216.1" y="242.9"/>
<use href="#B" x="105.8" y="240.2"/>
<use href="#B" x="43.2" y="241.8"/>
<use href="#B" x="257.3" y="242.8"/>
<use href="#B" x="117.9" y="239.8"/>
<use href="#B" x="43.3" y="239.3"/>
<use href="#B" x="239" y="239.2"/>
<use href="#B" x="181.1" y="246.5"/>
<use href="#B" x="160.4" y="245.9"/>
<use href="#B" x="229.4" y="239.6"/>
<use href="#B" x="253" y="238.6"/>
<use href="#B" x="59.5" y="238.3"/>
<use href="#B" x="62.9" y="242.9"/>
<use href="#B" x="220" y="247"/>
<use href="#B" x="192.6" y="238.6"/>
<use href="#B" x="125.6" y="241.1"/>
<use href="#B" x="270.6" y="236.8"/>
<use href="#B" x="127.4" y="244.3"/>
<use href="#B" x="128.2" y="239.3"/>
<use href="#B" x="222.5" y="239.3"/>
<use href="#B" x="93.3" y="241.8"/>
<use href="#B" x="162.8" y="240.4"/>
<use href="#B" x="243.3" y="241.6"/>
<use href="#B" x="58.5" y="242.7"/>
<use href="#B" x="321" y="242.8"/>
<use href="#B" x="243.1" y="240.4"/>
<use href="#B" x="79.9" y="239"/>
<use href="#B" x="49.9" y="239.4"/>
<use href="#B" x="215.7" y="237.5"/>
<use href="#B" x="265.3" y="239.1"/>
<use href="#B" x="172.3" y="240.9"/>
<use href="#B" x="249.9" y="241.8"/>
<use href="#B" x="84.9" y="238"/>
<use href="#B" x="256.5" y="237.6"/>
<use href="#B" x="319.7" y="239.4"/>
<use href="#B" x="174.7" y="246.5"/>
<use href="#B" x="256.9" y="241.5"/>
<use href="#B" x="108.2" y="238.4"/>
<use href="#B" x="166.3" y="240.8"/>
<use href="#B" x="264.3" y="241.3"/>
<use href="#B" x="61.1" y="242.9"/>
<use href="#B" x="80.4" y="243.2"/>
<use href="#B" x="250.1" y="242.4"/>
<use href="#B" x="83" y="243.5"/>
<use href="#B" x="130.3" y="243.1"/>
<use href="#B" x="223.4" y="242.5"/>
<use href="#B" x="131.6" y="242.3"/>
<use href="#B" x="52.6" y="244.8"/>
<use href="#B" x="224.6" y="239.8"/>
<use href="#B" x="137.9" y="242.8"/>
<use href="#B" x="98.1" y="244.4"/>
<use href="#B" x="228.5" y="238"/>
<use href="#B" x="199.1" y="242.9"/>
<use href="#B" x="203.8" y="243"/>
<use href="#B" x="121.6" y="239.3"/>
<use href="#B" x="197.4" y="244.5"/>
<use href="#B" x="73.1" y="240.7"/>
<use href="#B" x="194.6" y="236"/>
<use href="#B" x="169.2" y="245.2"/>
<use href="#B" x="55.7" y="240.1"/>
<use href="#B" x="86.2" y="237.4"/>
<use href="#B" x="234.1" y="240.4"/>
<use href="#B" x="189.8" y="241.8"/>
<use href="#B" x="261.5" y="246.2"/>
<use href="#B" x="85.2" y="240.4"/>
<use href="#B" x="126.5" y="238.8"/>
<use href="#B" x="51" y="243.2"/>
<use href="#B" x="82.4" y="238.5"/>
<use href="#B" x="110.6" y="238.6"/>
<use href="#B" x="144.6" y="239.8"/>
<use href="#B" x="148.9" y="240.2"/>
<use href="#B" x="152.9" y="244.4"/>
<use href="#B" x="243.4" y="239.2"/>
<use href="#B" x="106.5" y="245.6"/>
<use href="#B" x="232.3" y="242.3"/>
<use href="#B" x="285.2" y="235.9"/>
<use href="#B" x="129.4" y="241.2"/>
<use href="#B" x="180.3" y="241.7"/>
<use href="#B" x="198.5" y="244.3"/>
<use href="#B" x="89.7" y="244.8"/>
<use href="#B" x="140.6" y="243.6"/>
<use href="#B" x="269.1" y="243.3"/>
<use href="#B" x="168.8" y="241.2"/>
<use href="#B" x="257.8" y="241.5"/>
<use href="#B" x="234.8" y="242.4"/>
<use href="#B" x="185.4" y="240.7"/>
<use href="#B" x="144" y="238.3"/>
<use href="#B" x="101.2" y="242.5"/>
<use href="#B" x="147.6" y="240.2"/>
<use href="#B" x="145" y="238.9"/>
<use href="#B" x="246" y="240.1"/>
<use href="#B" x="181.4" y="242"/>
<use href="#B" x="143.5" y="242.6"/>
<use href="#B" x="133.2" y="246.8"/>
<use href="#B" x="118.7" y="243.7"/>
<use href="#B" x="150" y="238.5"/>
<use href="#B" x="165.6" y="241.9"/>
<use href="#B" x="167.8" y="239.6"/>
<use href="#B" x="120.3" y="243.2"/>
<use href="#B" x="305.7" y="247.3"/>
<use href="#B" x="211" y="240.6"/>
<use href="#B" x="135.7" y="244.1"/>
<use href="#B" x="105.5" y="239.1"/>
<use href="#B" x="98.5" y="239.5"/>
<use href="#B" x="108.3" y="242.9"/>
<use href="#B" x="197.2" y="242.6"/>
<use href="#B" x="138.9" y="242.2"/>
<use href="#B" x="246.4" y="243.5"/>
<use href="#B" x="265" y="241.6"/>
<use href="#B" x="259.5" y="242.4"/>
<use href="#B" x="267.6" y="240.6"/>
<use href="#B" x="127" y="239.1"/>
<use href="#B" x="145.2" y="238.6"/>
<use href="#B" x="148.3" y="240.5"/>
<use href="#B" x="260.8" y="244.1"/>
<use href="#B" x="260.8" y="240"/>
<use href="#B" x="193" y="237.4"/>
<use href="#B" x="258.6" y="240.4"/>
<use href="#B" x="64.8" y="243"/>
<use href="#B" x="46.4" y="239.1"/>
<use href="#B" x="220.1" y="242.6"/>
<use href="#B" x="182.6" y="241.7"/>
<use href="#B" x="115" y="243.9"/>
<use href="#B" x="191.2" y="242.8"/>
<use href="#B" x="183.9" y="242.4"/>
<use href="#B" x="40.3" y="242.9"/>
<use href="#B" x="276.6" y="241.9"/>
<use href="#B" x="125.2" y="245.3"/>
<use href="#B" x="98.4" y="242.4"/>
<use href="#B" x="100.4" y="242.6"/>
<use href="#B" x="154.4" y="235.6"/>
<use href="#B" x="243.7" y="236.3"/>
<use href="#B" x="73.2" y="240.1"/>
<use href="#B" x="76.8" y="245.2"/>
<use href="#B" x="218.5" y="238.4"/>
<use href="#B" x="227.1" y="240.6"/>
<use href="#B" x="253.6" y="240.7"/>
<use href="#B" x="232.1" y="238.6"/>
<use href="#B" x="152.1" y="247.6"/>
<use href="#B" x="97" y="242.3"/>
<use href="#B" x="64.1" y="241.8"/>
<use href="#B" x="42.7" y="238.9"/>
<use href="#B" x="253.8" y="240"/>
<use href="#B" x="132.1" y="242.7"/>
<use href="#B" x="246.8" y="241.1"/>
<use href="#B" x="238.6" y="240.9"/>
<use href="#B" x="264.8" y="240.4"/>
<use href="#B" x="182.2" y="239"/>
<use href="#B" x="180.9" y="241.8"/>
<use href="#B" x="224.8" y="238.6"/>
<use href="#B" x="155.2" y="241.7"/>
<use href="#B" x="268.5" y="244.1"/>
<use href="#B" x="173.8" y="240.4"/>
<use href="#B" x="187.3" y="238.1"/>
<use href="#B" x="104.2" y="238.8"/>
<use href="#B" x="225.1" y="243.1"/>
<use href="#B" x="176.4" y="237.8"/>
<use href="#B" x="167.5" y="238.7"/>
<use href="#B" x="235.1" y="239"/>
<use href="#B" x="248.9" y="236.6"/>
<use href="#B" x="320.7" y="239.6"/>
<use href="#B" x="269.8" y="241.4"/>
<use href="#B" x="60.3" y="237.5"/>
<use href="#B" x="63.5" y="247.6"/>
<use href="#B" x="259.1" y="236.6"/>
<use href="#B" x="210.2" y="241.8"/>
<use href="#B" x="201.7" y="244.3"/>
<use href="#B" x="187.9" y="243.8"/>
<use href="#B" x="291.8" y="239.8"/>
<use href="#B" x="189.2" y="241.4"/>
<use href="#B" x="141.4" y="241.8"/>
<use href="#B" x="91.7" y="240"/>
<use href="#B" x="55.2" y="246.2"/>
<use href="#B" x="165.1" y="235.9"/>
<use href="#B" x="148.5" y="239.5"/>
<use href="#B" x="110" y="237.8"/>
<use href="#B" x="185.7" y="242.3"/>
<use href="#B" x="123.6" y="241.2"/>
<use href="#B" x="126.2" y="243.4"/>
<use href="#B" x="232.8" y="239.6"/>
<use href="#B" x="298.1" y="241.9"/>
<use href="#B" x="142" y="238.9"/>
<use href="#B" x="44.7" y="244"/>
<use href="#B" x="68.2" y="240.1"/>
<use href="#B" x="153.1" y="245.6"/>
<use href="#B" x="198.7" y="239.2"/>
<use href="#B" x="134.9" y="245.9"/>
<use href="#B" x="93.2" y="241.7"/>
<use href="#B" x="175" y="240.7"/>
<use href="#B" x="41.2" y="240.5"/>
<use href="#B" x="229.8" y="238.6"/>
<use href="#B" x="134.9" y="241.7"/>
<use href="#B" x="156.7" y="236.1"/>
<use href="#B" x="153.1" y="243.6"/>
<use href="#B" x="234.1" y="242.9"/>
<use href="#B" x="240.1" y="241.4"/>
<use href="#B" x="129.8" y="239.2"/>
<use href="#B" x="95.9" y="237.1"/>
<use href="#B" x="62.8" y="240.8"/>
<use href="#B" x="202.2" y="234.4"/>
<use href="#B" x="109.7" y="243"/>
<use href="#B" x="250.6" y="243"/>
<use href="#B" x="256.9" y="244.2"/>
<use href="#B" x="173.5" y="237.7"/>
<use href="#B" x="152.4" y="245.2"/>
<use href="#B" x="130" y="239.5"/>
<use href="#B" x="145.8" y="241.6"/>
<use href="#B" x="192.3" y="238.5"/>
<use href="#B" x="76.9" y="242.6"/>
<use href="#B" x="197.8" y="244.2"/>
<use href="#B" x="142.8" y="247.5"/>
<use href="#B" x="206.4" y="246.2"/>
<use href="#B" x="124.8" y="243.9"/>
<use href="#B" x="198.1" y="240.9"/>
<use href="#B" x="70.8" y="236.4"/>
<use href="#B" x="179.7" y="239.2"/>
<use href="#B" x="99.7" y="240.4"/>
<use href="#B" x="50.5" y="239.7"/>
<use href="#B" x="241.7" y="242.5"/>
<use href="#B" x="256.6" y="242.4"/>
<use href="#B" x="108.1" y="239.1"/>
<use href="#B" x="206.2" y="244.6"/>
<use href="#B" x="257.1" y="240.4"/>
<use href="#B" x="90.8" y="239.9"/>
<use href="#B" x="256" y="241"/>
<use href="#B" x="269.4" y="242.1"/>
<use href="#B" x="251.1" y="241.8"/>
<use href="#B" x="262.1" y="236"/>
<use href="#B" x="146.8" y="239.5"/>
<use href="#B" x="180.7" y="243.7"/>
<use href="#B" x="107.8" y="242.6"/>
<use href="#B" x="109.1" y="243.8"/>
<use href="#B" x="139.4" y="240.1"/>
<use href="#B" x="99.4" y="242.6"/>
<use href="#B" x="136.3" y="243.9"/>
<use href="#B" x="106.4" y="248.1"/>
<use href="#B" x="43.4" y="239.7"/>
<use href="#B" x="153.7" y="238.7"/>
<use href="#B" x="241.9" y="239.5"/>
<use href="#B" x="177" y="242.8"/>
<use href="#B" x="136.8" y="239.5"/>
<use href="#B" x="57.3" y="238.2"/>
<use href="#B" x="184.2" y="241.1"/>
<use href="#B" x="95.5" y="245.7"/>
<use href="#B" x="186.2" y="242.2"/>
<use href="#B" x="116.7" y="243.8"/>
<use href="#B" x="119.7" y="245.8"/>
<use href="#B" x="120.9" y="244.8"/>
<use href="#B" x="224.2" y="240.1"/>
<use href="#B" x="65.3" y="242.2"/>
<use href="#B" x="145.6" y="243.5"/>
<use href="#B" x="172.3" y="241.5"/>
<use href="#B" x="128.9" y="244.4"/>
<use href="#B" x="259.7" y="237.5"/>
<use href="#B" x="204.3" y="238.4"/>
<use href="#B" x="241" y="246.8"/>
<use href="#B" x="247.6" y="241"/>
<use href="#B" x="155.1" y="237.9"/>
<use href="#B" x="61.9" y="240.1"/>
<use href="#B" x="254.4" y="240.9"/>
<use href="#B" x="212.8" y="237.5"/>
<use href="#B" x="253" y="242.9"/>
<use href="#B" x="95.4" y="237.9"/>
<use href="#B" x="189" y="239"/>
<use href="#B" x="49.1" y="244.4"/>
<use href="#B" x="237" y="238.8"/>
<use href="#B" x="283.7" y="239.5"/>
<use href="#B" x="146.2" y="246"/>
<use href="#B" x="201.6" y="237.7"/>
<use href="#B" x="89.9" y="234"/>
<use href="#B" x="99.5" y="242"/>
<use href="#B" x="165.7" y="243.5"/>
<use href="#B" x="135.6" y="238.8"/>
<use href="#B" x="260.9" y="242.2"/>
<use href="#B" x="190.5" y="240.8"/>
<use href="#B" x="205.3" y="242.2"/>
<use href="#B" x="91.9" y="245.5"/>
<use href="#B" x="202.4" y="239.8"/>
<use href="#B" x="105.3" y="236.4"/>
<use href="#B" x="264.3" y="239.3"/>
<use href="#B" x="236.7" y="240.5"/>
<use href="#B" x="153.9" y="240.3"/>
<use href="#B" x="71.8" y="239.1"/>
<use href="#B" x="79" y="241.2"/>
<use href="#B" x="169" y="240.5"/>
<use href="#B" x="215.9" y="235.2"/>
<use href="#B" x="112.2" y="241.9"/>
<use href="#B" x="154.3" y="242.9"/>
<use href="#B" x="163.2" y="240.7"/>
<use href="#B" x="170.9" y="239.9"/>
<use href="#B" x="139.6" y="244"/>
<use href="#B" x="154.4" y="241.3"/>
<use href="#B" x="161.2" y="242"/>
<use href="#B" x="165.4" y="244.6"/>
<use href="#B" x="158.8" y="243.6"/>
<use href="#B" x="80.2" y="245.4"/>
<use href="#B" x="268.5" y="243"/>
<use href="#B" x="58" y="239.8"/>
<use href="#B" x="205.7" y="244.3"/>
<use href="#B" x="233.5" y="240.6"/>
<use href="#B" x="238" y="240.9"/>
<use href="#B" x="223.7" y="238.5"/>
<use href="#B" x="212" y="243.5"/>
<use href="#B" x="124.6" y="238.9"/>
<use href="#B" x="263.8" y="236.5"/>
<use href="#B" x="74.8" y="242.1"/>
<use href="#B" x="46.4" y="240.9"/>
<use href="#B" x="50.4" y="242.9"/>
<use href="#B" x="89.2" y="234.5"/>
<use href="#B" x="62.1" y="243.6"/>
<use href="#B" x="114.4" y="244.3"/>
<use href="#B" x="245.7" y="240.8"/>
<use href="#B" x="136.7" y="240"/>
<use href="#B" x="80.6" y="240.9"/>
<use href="#B" x="277.9" y="241.3"/>
<use href="#B" x="42.8" y="238.9"/>
<use href="#B" x="254.1" y="238.2"/>
<use href="#B" x="41.1" y="242.2"/>
<use href="#B" x="248.6" y="245.4"/>
<use href="#B" x="126.7" y="248.3"/>
<use href="#B" x="263.6" y="246.7"/>
<use href="#B" x="151.5" y="237.1"/>
<use href="#B" x="270" y="242.7"/>
<use href="#B" x="105.3" y="246.5"/>
<use href="#B" x="119.9" y="238.2"/>
<use href="#B" x="77.5" y="246.3"/>
<use href="#B" x="55.5" y="237.9"/>
<use href="#B" x="67.9" y="240.1"/>
<use href="#B" x="123.9" y="242.5"/>
<use href="#B" x="204.6" y="240.4"/>
<use href="#B" x="81.2" y="242.4"/>
<use href="#B" x="53" y="239.4"/>
<use href="#B" x="216.8" y="243"/>
<use href="#B" x="144.6" y="242.8"/>
<use href="#B" x="89.1" y="237.5"/>
<use href="#B" x="168.2" y="241.3"/>
<use href="#B" x="92.6" y="235.1"/>
<use href="#B" x="265" y="238.2"/>
<use href="#B" x="65.2" y="239.2"/>
<use href="#B" x="125.2" y="237.8"/>
<use href="#B" x="76.2" y="244.1"/>
<use href="#B" x="140.8" y="241.6"/>
<use href="#B" x="64.4" y="238.9"/>
<use href="#B" x="142.5" y="239.4"/>
<use href="#B" x="262.2" y="245.2"/>
<use href="#B" x="245.3" y="240.5"/>
<use href="#B" x="47.2" y="242.7"/>
<use href="#B" x="133.7" y="241.1"/>
<use href="#B" x="207.2" y="239.6"/>
<use href="#B" x="74.3" y="243.2"/>
<use href="#B" x="197.9" y="241.1"/>
<use href="#B" x="199.6" y="246.2"/>
<use href="#B" x="207.8" y="235.5"/>
<use href="#B" x="144.9" y="246.5"/>
<use href="#B" x="90.6" y="241.3"/>
<use href="#B" x="214.8" y="243.7"/>
<use href="#B" x="138.1" y="242.4"/>
<use href="#B" x="208.4" y="242.2"/>
<use href="#B" x="218" y="240.9"/>
<use href="#B" x="174.5" y="240"/>
<use href="#B" x="67.2" y="235.7"/>
<use href="#B" x="186.8" y="240.9"/>
<use href="#B" x="268.7" y="240.4"/>
<use href="#B" x="220.9" y="242.9"/>
<use href="#B" x="228.6" y="242.1"/>
<use href="#B" x="232.7" y="242.5"/>
<use href="#B" x="102.2" y="241.5"/>
<use href="#B" x="52.3" y="239.8"/>
<use href="#B" x="151.3" y="243.1"/>
<use href="#B" x="45.2" y="240.5"/>
<use href="#B" x="170" y="239.8"/>
<use href="#B" x="52" y="239.9"/>
<use href="#B" x="60.7" y="239.7"/>
<use href="#B" x="184.8" y="238.8"/>
<use href="#B" x="48.9" y="237.1"/>
<use href="#B" x="110.7" y="238"/>
<use href="#R" x="252.2" y="246.9"/>
<use href="#R" x="312.5" y="236.7"/>
<use href="#R" x="206.4" y="242.8"/>
<use href="#R" x="139.3" y="247.3"/>
<use href="#R" x="86.3" y="229.8"/>
<use href="#R" x="218.1" y="239.1"/>
<use href="#R" x="140.8" y="241.1"/>
<use href="#R" x="167.7" y="233.9"/>
<use href="#R" x="114.9" y="245.3"/>
<use href="#R" x="186.9" y="241.8"/>
<use href="#R" x="158.4" y="240.9"/>
<use href="#R" x="51.7" y="281"/>
<use href="#R" x="65.1" y="252.7"/>
<use href="#R" x="121.7" y="240.2"/>
<use href="#R" x="213.4" y="242"/>
<use href="#R" x="199.9" y="243.9"/>
<use href="#R" x="220.5" y="237.8"/>
<use href="#R" x="259.4" y="244.9"/>
<use href="#R" x="259" y="237.2"/>
<use href="#R" x="155.5" y="241.7"/>
<use href="#R" x="178" y="246.6"/>
<use href="#R" x="113.2" y="254.4"/>
<use href="#R" x="170.8" y="240.3"/>
<use href="#R" x="71.6" y="251.2"/>
<use href="#R" x="108.2" y="248.6"/>
<use href="#R" x="266.7" y="239.2"/>
<use href="#R" x="57.2" y="236.4"/>
<use href="#R" x="224" y="237"/>
<use href="#R" x="182.9" y="236"/>
<use href="#R" x="247.1" y="238.6"/>
<use href="#R" x="207" y="241.3"/>
<use href="#R" x="91.6" y="240"/>
<use href="#R" x="299.4" y="252.3"/>
<use href="#R" x="177.5" y="249.7"/>
<use href="#R" x="83.8" y="247.9"/>
<use href="#R" x="138.9" y="244.2"/>
<use href="#R" x="272.8" y="239"/>
<use href="#R" x="236.2" y="245.6"/>
<use href="#R" x="265.5" y="245.4"/>
<use href="#R" x="179.4" y="245.7"/>
<use href="#R" x="241.1" y="241.1"/>
<use href="#R" x="74.4" y="238.7"/>
<use href="#R" x="188.1" y="234.8"/>
<use href="#R" x="107.4" y="245.5"/>
<use href="#R" x="209.5" y="247.5"/>
<use href="#R" x="305.9" y="243"/>
<use href="#R" x="60.4" y="239.7"/>
<use href="#R" x="175" y="242.1"/>
<use href="#R" x="43.9" y="236.7"/>
<use href="#R" x="294.4" y="243.1"/>
<use href="#R" x="283.6" y="242.9"/>
<use href="#R" x="130.6" y="246.5"/>
<use href="#R" x="212.3" y="246.4"/>
<use href="#R" x="316.9" y="237.3"/>
<use href="#R" x="323.8" y="243.6"/>
<use href="#R" x="44.6" y="235.8"/>
<use href="#R" x="40.8" y="241"/>
<use href="#R" x="62.9" y="235.6"/>
<use href="#R" x="82.7" y="241.9"/>
<use href="#R" x="238.5" y="241.2"/>
<use href="#R" x="173" y="236.2"/>
<use href="#R" x="306.5" y="237.7"/>
<use href="#R" x="87.3" y="238.3"/>
<use href="#R" x="75.9" y="242.1"/>
<use href="#R" x="275.5" y="237.8"/>
<use href="#R" x="127.5" y="237.1"/>
<use href="#R" x="138.1" y="244"/>
<use href="#R" x="324.8" y="245.3"/>
<use href="#R" x="126.5" y="237.1"/>
<use href="#R" x="262.6" y="239"/>
<use href="#R" x="288.7" y="237.1"/>
<use href="#R" x="55.3" y="237.6"/>
<use href="#R" x="72.8" y="245.9"/>
<use href="#R" x="154.8" y="245.7"/>
<use href="#R" x="277.6" y="229.2"/>
<use href="#R" x="51.6" y="239.6"/>
<use href="#R" x="63.9" y="234"/>
<use href="#R" x="118.8" y="239.4"/>
<use href="#R" x="77" y="238.9"/>
<use href="#R" x="323" y="241.6"/>
<use href="#R" x="140.3" y="241.9"/>
<use href="#R" x="147.8" y="242.5"/>
<use href="#R" x="204.8" y="267.5"/>
<use href="#R" x="164.8" y="271.6"/>
<use href="#R" x="302.5" y="246.3"/>
<use href="#R" x="107.4" y="244.5"/>
<use href="#R" x="83.6" y="242.1"/>
<use href="#R" x="111.9" y="238.5"/>
<use href="#R" x="125.2" y="234.6"/>
<use href="#R" x="219.3" y="239.5"/>
<use href="#R" x="114.2" y="239.9"/>
<use href="#R" x="175.8" y="240.8"/>
<use href="#R" x="267.3" y="243.2"/>
<use href="#R" x="117.4" y="237.4"/>
<use href="#R" x="272.5" y="241.7"/>
<use href="#R" x="322.1" y="246.8"/>
<use href="#R" x="153.1" y="237.4"/>
<use href="#R" x="56.1" y="240.5"/>
<use href="#R" x="52.2" y="242.1"/>
<use href="#R" x="271.2" y="234.9"/>
<use href="#R" x="94.2" y="240.9"/>
<use href="#R" x="183.7" y="243.3"/>
<use href="#R" x="241.9" y="239.9"/>
<use href="#R" x="291.8" y="238.1"/>
<use href="#R" x="139.6" y="230.4"/>
<use href="#R" x="122.3" y="251.1"/>
<use href="#R" x="53.1" y="246.8"/>
<use href="#R" x="248.4" y="235.8"/>
<use href="#R" x="222" y="243.1"/>
<use href="#R" x="276.7" y="247.5"/>
<use href="#R" x="159.2" y="250.8"/>
<use href="#R" x="236.4" y="248.6"/>
<use href="#R" x="195.1" y="248.2"/>
<use href="#R" x="256.9" y="245.4"/>
<use href="#R" x="201.8" y="240.9"/>
<use href="#R" x="281.6" y="240.4"/>
<use href="#R" x="285.4" y="240.6"/>
<use href="#R" x="222.5" y="240.2"/>
<use href="#R" x="119.2" y="246.2"/>
<use href="#R" x="237.1" y="244.5"/>
<use href="#R" x="314" y="234.6"/>
<use href="#R" x="68.2" y="239"/>
<use href="#R" x="269.8" y="237.1"/>
<use href="#R" x="252.7" y="244.7"/>
<use href="#R" x="295.3" y="228.6"/>
<use href="#R" x="177" y="239.9"/>
<use href="#R" x="68.4" y="243.7"/>
<use href="#R" x="229.7" y="236.6"/>
<use href="#R" x="107.4" y="240.4"/>
<use href="#R" x="118.2" y="273"/>
<use href="#R" x="224.9" y="239.2"/>
<use href="#R" x="111.4" y="259.5"/>
<use href="#R" x="60" y="234.8"/>
<use href="#R" x="222.7" y="245"/>
<use href="#R" x="169.3" y="228.2"/>
<use href="#R" x="141" y="237"/>
<use href="#R" x="289.9" y="242.2"/>
<use href="#R" x="189.6" y="233.7"/>
<use href="#R" x="90.1" y="242.3"/>
<use href="#R" x="40.8" y="241.5"/>
<use href="#R" x="274.2" y="241.6"/>
<use href="#R" x="80.5" y="237"/>
<use href="#R" x="131.6" y="261.6"/>
<use href="#R" x="158.7" y="240.9"/>
<use href="#R" x="290.6" y="240.6"/>
<use href="#R" x="72.7" y="254.1"/>
<use href="#R" x="195.7" y="242.5"/>
<use href="#R" x="205.7" y="245.1"/>
<use href="#R" x="235.9" y="246.3"/>
<use href="#R" x="227.3" y="236.4"/>
<use href="#R" x="68.2" y="231"/>
<use href="#R" x="194.3" y="247"/>
<use href="#R" x="227.3" y="240.6"/>
<use href="#R" x="139" y="242.1"/>
<use href="#R" x="135.4" y="257"/>
<use href="#R" x="133.5" y="242.6"/>
<use href="#R" x="212.6" y="248.5"/>
<use href="#R" x="302.1" y="245"/>
<use href="#R" x="303.4" y="231.9"/>
<use href="#R" x="126" y="238.8"/>
<use href="#R" x="302.2" y="251.9"/>
<use href="#R" x="307.4" y="238"/>
<use href="#R" x="179.8" y="229.7"/>
<use href="#R" x="78.7" y="246.2"/>
<use href="#R" x="50" y="246.4"/>
<use href="#R" x="319.3" y="249.1"/>
<use href="#R" x="44.1" y="244.3"/>
<use href="#R" x="284.6" y="246.8"/>
<use href="#R" x="141.8" y="241.2"/>
<use href="#R" x="247.7" y="232.7"/>
<use href="#R" x="189.4" y="238.5"/>
<use href="#R" x="219.6" y="246.7"/>
<use href="#R" x="143.4" y="238.4"/>
<use href="#R" x="310.9" y="251.2"/>
<use href="#R" x="250.4" y="238.3"/>
<use href="#R" x="59.8" y="232.3"/>
<use href="#R" x="162.6" y="242.9"/>
<use href="#R" x="232.1" y="237"/>
<use href="#R" x="86.6" y="240.8"/>
<use href="#R" x="277.8" y="252.3"/>
<use href="#R" x="308" y="237.9"/>
<use href="#R" x="75.6" y="236.4"/>
<use href="#R" x="266.9" y="244.4"/>
<use href="#R" x="192.6" y="250.6"/>
<use href="#R" x="107.1" y="246.9"/>
<use href="#R" x="65.2" y="241"/>
<use href="#R" x="308.4" y="234.2"/>
<use href="#R" x="123.6" y="238.9"/>
<use href="#R" x="72.3" y="247.2"/>
<use href="#R" x="240.5" y="234.6"/>
<use href="#R" x="112.6" y="242.4"/>
<use href="#R" x="180.3" y="244.7"/>
<use href="#R" x="214" y="239.4"/>
<use href="#R" x="254.8" y="258.2"/>
<use href="#R" x="163.5" y="240.3"/>
<use href="#R" x="297.1" y="238"/>
<use href="#R" x="314.6" y="242.9"/>
<use href="#R" x="116.4" y="245.7"/>
<use href="#R" x="174.4" y="248.9"/>
<use href="#R" x="197.9" y="243.1"/>
<use href="#R" x="89.6" y="240.4"/>
<use href="#R" x="295.4" y="246"/>
<use href="#R" x="41.7" y="238.4"/>
<use href="#R" x="302.9" y="240"/>
<use href="#R" x="187.3" y="244.7"/>
<use href="#R" x="71.1" y="234.7"/>
<use href="#R" x="134.1" y="247.5"/>
<use href="#R" x="256.1" y="248.3"/>
<use href="#R" x="173.5" y="241.6"/>
<use href="#R" x="264.3" y="236.9"/>
<use href="#R" x="118.8" y="232.2"/>
<use href="#R" x="282.5" y="243.7"/>
<use href="#R" x="255.4" y="247.6"/>
<use href="#R" x="57.3" y="241.2"/>
<use href="#R" x="121.8" y="252.8"/>
<use href="#R" x="92.2" y="240"/>
<use href="#R" x="161.5" y="238.2"/>
<use href="#R" x="73.5" y="245"/>
<use href="#R" x="144.1" y="229.8"/>
<use href="#R" x="315.2" y="238"/>
<use href="#R" x="145.5" y="236.9"/>
<use href="#R" x="54.9" y="235.7"/>
<use href="#R" x="180.6" y="243.8"/>
<use href="#R" x="49.5" y="243.4"/>
<use href="#R" x="292.8" y="241"/>
<use href="#R" x="301.9" y="238.1"/>
<use href="#R" x="246.7" y="246"/>
<use href="#R" x="184.5" y="245.6"/>
<use href="#R" x="133.4" y="233.5"/>
<use href="#R" x="235.4" y="240.3"/>
<use href="#R" x="87.1" y="245.6"/>
<use href="#R" x="292.5" y="229.1"/>
<use href="#R" x="120.3" y="240"/>
<use href="#R" x="210.9" y="236.6"/>
<use href="#R" x="239" y="239.1"/>
<use href="#R" x="221.8" y="248.1"/>
<use href="#R" x="136.1" y="241.7"/>
<use href="#R" x="101.3" y="253.2"/>
<use href="#R" x="149.6" y="240.1"/>
<use href="#R" x="229.9" y="244.7"/>
<use href="#R" x="207" y="241"/>
<use href="#R" x="279.2" y="240.7"/>
<use href="#R" x="66.4" y="242.6"/>
<use href="#R" x="146" y="240.2"/>
<use href="#R" x="260.4" y="235.8"/>
<use href="#R" x="74.5" y="237.6"/>
<use href="#R" x="159.5" y="246.9"/>
<use href="#R" x="238.2" y="236.8"/>
<use href="#R" x="206.7" y="238.3"/>
<use href="#R" x="302.4" y="239.6"/>
<use href="#R" x="326.5" y="242.1"/>
<use href="#R" x="92.6" y="250.8"/>
<use href="#R" x="119.8" y="243.1"/>
<use href="#R" x="142.8" y="238.5"/>
<use href="#R" x="101.8" y="241.8"/>
<use href="#R" x="91.9" y="240.6"/>
<use href="#R" x="69.5" y="250.3"/>
<use href="#R" x="287.5" y="247.5"/>
<use href="#R" x="197.4" y="241.1"/>
<use href="#R" x="96.4" y="244.5"/>
<use href="#R" x="151.5" y="249.8"/>
<use href="#R" x="196.8" y="238.5"/>
<use href="#R" x="264" y="244"/>
<use href="#R" x="322.2" y="235.1"/>
<use href="#R" x="109.1" y="247.9"/>
<use href="#B" x="296.6" y="246.8"/>
<use href="#B" x="280.2" y="237"/>
<use href="#B" x="303.7" y="245.6"/>
<use href="#B" x="312.3" y="247.8"/>
<use href="#B" x="322.8" y="238.5"/>
<use href="#B" x="304.7" y="246.4"/>
<use href="#B" x="311.2" y="250"/>
<use href="#B" x="302" y="243.1"/>
<use href="#B" x="308" y="235.1"/>
<use href="#B" x="324.1" y="246.5"/>
<use href="#B" x="325.7" y="245.8"/>
<use href="#B" x="280.4" y="242.2"/>
<use href="#B" x="309.7" y="240"/>
<use href="#B" x="288.3" y="240"/>
<use href="#B" x="326.2" y="249.4"/>
<use href="#B" x="289.1" y="246.9"/>
<use href="#B" x="318.5" y="245.5"/>
<use href="#B" x="309.1" y="242.7"/>
<use href="#B" x="316.4" y="244.1"/>
<use href="#B" x="316" y="239.3"/>
<use href="#B" x="286.4" y="233.7"/>
<use href="#B" x="274.9" y="241.4"/>
<use href="#B" x="300.4" y="238.5"/>
<use href="#B" x="281.3" y="241.8"/>
<use href="#B" x="287.2" y="238"/>
<use href="#B" x="281.3" y="237.8"/>
<use href="#B" x="316.7" y="243.4"/>
<use href="#B" x="276.1" y="251"/>
<use href="#B" x="316.1" y="244.6"/>
<use href="#B" x="272.1" y="235.6"/>
<use href="#B" x="323.3" y="239.1"/>
<use href="#B" x="324.7" y="244.2"/>
<use href="#B" x="288.7" y="243.9"/>
<use href="#B" x="285.9" y="231.4"/>
<use href="#B" x="324.6" y="242.5"/>
<use href="#B" x="293.7" y="238.4"/>
<use href="#B" x="301.7" y="241.5"/>
<use href="#B" x="304" y="248.9"/>
<use href="#B" x="303" y="243.9"/>
<use href="#B" x="276.2" y="247.4"/>
<use href="#B" x="279.9" y="236.9"/>
<use href="#B" x="307.1" y="226.7"/>
<use href="#B" x="318" y="239.4"/>
<use href="#B" x="282.1" y="244"/>
<use href="#B" x="282" y="243.5"/>
<use href="#B" x="289.4" y="246"/>
<use href="#B" x="301.3" y="240.6"/>
<use href="#B" x="326.2" y="249.6"/>
<use href="#B" x="316.5" y="238.3"/>
<use href="#B" x="318.2" y="244.9"/>
<use href="#B" x="286.9" y="240.3"/>
<use href="#B" x="302.4" y="242.1"/>
<use href="#B" x="325.2" y="247.5"/>
<use href="#B" x="297.5" y="245.6"/>
<use href="#B" x="281.8" y="243"/>
<use href="#B" x="290.5" y="248.6"/>
<use href="#B" x="281.7" y="244"/>
<use href="#B" x="326.3" y="247.2"/>
<use href="#B" x="302" y="245.2"/>
<use href="#B" x="300.2" y="230.1"/>
<use href="#B" x="283.2" y="248.6"/>
<use href="#B" x="274.4" y="243.6"/>
<use href="#B" x="303.1" y="237.6"/>
<use href="#B" x="283.6" y="251.3"/>
<use href="#B" x="315.9" y="243.1"/>
<use href="#B" x="280.8" y="240.7"/>
<use href="#B" x="326.1" y="249.4"/>
<use href="#B" x="319.3" y="252.4"/>
<use href="#B" x="297" y="243.7"/>
<use href="#B" x="309.5" y="239.7"/>
<use href="#B" x="310.2" y="245.7"/>
<use href="#B" x="325.3" y="246.3"/>
<use href="#B" x="282" y="244.7"/>
<use href="#B" x="307.7" y="233.8"/>
<use href="#B" x="304.3" y="248.9"/>
<use href="#B" x="290.3" y="251.6"/>
<use href="#B" x="303.1" y="242.8"/>
<use href="#B" x="319" y="242.7"/>
<use href="#B" x="303" y="240.9"/>
<use href="#B" x="296.7" y="249.8"/>
<use href="#B" x="301.6" y="239.7"/>
<use href="#B" x="309.4" y="240.5"/>
<use href="#B" x="310.4" y="243.5"/>
<use href="#B" x="283.8" y="250.2"/>
<use href="#B" x="295.3" y="237.6"/>
<use href="#B" x="307.5" y="230.8"/>
<use href="#B" x="290.3" y="259.1"/>
<use href="#B" x="318.1" y="247.8"/>
<use href="#B" x="288.4" y="242"/>
<use href="#B" x="296.1" y="245.3"/>
<use href="#B" x="281.6" y="240"/>
<use href="#B" x="275.7" y="244.3"/>
<use href="#B" x="304.1" y="246.5"/>
<use href="#B" x="304.3" y="250"/>
<use href="#B" x="300.5" y="233.2"/>
<use href="#B" x="275.3" y="247.7"/>
<use href="#B" x="275.4" y="249.7"/>
<use href="#B" x="302.2" y="239.1"/>
<use href="#B" x="308.6" y="238.6"/>
<use href="#B" x="301" y="239.9"/>
<use href="#B" x="316.1" y="240"/>
<use href="#B" x="302.6" y="239.4"/>
<use href="#B" x="294.5" y="237.3"/>
<use href="#B" x="273.2" y="236.9"/>
<use href="#B" x="323.1" y="237.4"/>
<use href="#B" x="279.8" y="236.2"/>
<use href="#B" x="317.6" y="248.2"/>
<use href="#B" x="274.6" y="250.5"/>
<use href="#B" x="288.2" y="241"/>
<use href="#B" x="300.6" y="236.1"/>
<use href="#B" x="271.7" y="232.7"/>
<use href="#B" x="279.3" y="241.9"/>
<use href="#B" x="275.8" y="251.2"/>
<use href="#B" x="309.3" y="239.6"/>
<use href="#B" x="321.6" y="231.8"/>
<use href="#B" x="274.9" y="248.9"/>
<use href="#B" x="274.7" y="246.8"/>
<use href="#B" x="301" y="237.2"/>
<use href="#B" x="308.8" y="239"/>
<use href="#B" x="273.7" y="242.2"/>
<use href="#B" x="282.4" y="246.4"/>
<use href="#B" x="281.7" y="246.7"/>
<use href="#B" x="314.7" y="231.2"/>
<use href="#B" x="289.6" y="245.5"/>
<use href="#B" x="278.6" y="231.7"/>
<use href="#B" x="310.8" y="246.4"/>
<use href="#B" x="303.6" y="244.7"/>
<use href="#B" x="271.6" y="235.6"/>
<use href="#B" x="288.8" y="245.3"/>
<use href="#B" x="296.8" y="248"/>
<use href="#B" x="279.7" y="240.1"/>
<use href="#B" x="318.3" y="247.3"/>
<use href="#B" x="324.5" y="246.9"/>
<use href="#B" x="296.9" y="251"/>
<use href="#B" x="279.4" y="232.6"/>
<use href="#B" x="317.1" y="239.4"/>
<use href="#B" x="288.2" y="240.1"/>
<use href="#B" x="311.8" y="249"/>
<use href="#B" x="294.4" y="239.5"/>
<use href="#B" x="308.9" y="238.7"/>
<use href="#B" x="286" y="231.9"/>
<use href="#B" x="286.6" y="237.7"/>
<use href="#B" x="286" y="237.4"/>
<use href="#B" x="300.5" y="236.8"/>
<use href="#B" x="312" y="250.8"/>
<use href="#B" x="288.8" y="240.9"/>
<use href="#B" x="324.4" y="244.9"/>
<use href="#B" x="323.4" y="237.6"/>
<use href="#B" x="304.5" y="242.4"/>
<use href="#B" x="294.8" y="236.6"/>
<use href="#B" x="300.3" y="232.8"/>
<use href="#B" x="272.7" y="236.5"/>
<use href="#B" x="279.4" y="233.7"/>
<use href="#B" x="293.8" y="234.8"/>
<use href="#B" x="311.5" y="254.7"/>
<use href="#B" x="289.9" y="246.3"/>
<use href="#B" x="301.1" y="240.2"/>
<use href="#B" x="295.1" y="238.3"/>
<use href="#B" x="324.3" y="244"/>
<use href="#B" x="314.5" y="232"/>
<use href="#B" x="323.2" y="234.1"/>
<use href="#B" x="297.6" y="251.7"/>
<use href="#B" x="281.5" y="240.6"/>
<use href="#B" x="281.4" y="238.3"/>
<use href="#B" x="297.7" y="243.9"/>
<use href="#B" x="316.6" y="237.8"/>
<use href="#B" x="297.8" y="256.2"/>
<use href="#B" x="325.6" y="244.8"/>
<use href="#B" x="317" y="241.6"/>
<use href="#B" x="295.6" y="240.5"/>
<use href="#B" x="286.7" y="235"/>
<use href="#B" x="317.7" y="242.8"/>
<use href="#B" x="272.9" y="240.1"/>
<use href="#B" x="308.7" y="243.2"/>
<use href="#B" x="272.7" y="235.4"/>
<use href="#B" x="295.5" y="242.5"/>
<use href="#B" x="282.7" y="242.9"/>
<use href="#B" x="326.6" y="244.3"/>
<use href="#B" x="285.8" y="234.5"/>
<use href="#B" x="274.6" y="244.1"/>
<use href="#B" x="296.3" y="241.4"/>
<use href="#B" x="283.2" y="251.1"/>
<use href="#B" x="326" y="248.2"/>
<use href="#B" x="318.8" y="246"/>
<use href="#B" x="322.2" y="235.4"/>
<use href="#B" x="309.9" y="244.8"/>
<use href="#B" x="276.2" y="247.9"/>
<use href="#B" x="288.3" y="238.3"/>
<use href="#B" x="302.7" y="241"/>
<use href="#B" x="280.7" y="241"/>
<use href="#B" x="322.7" y="234.6"/>
<use href="#B" x="294.6" y="239.8"/>
<use href="#B" x="282" y="245.4"/>
<use href="#B" x="280.3" y="232.4"/>
<use href="#B" x="311.5" y="241.7"/>
<use href="#B" x="272.7" y="237.2"/>
<use href="#B" x="272.8" y="236.7"/>
<use href="#B" x="272.3" y="232.4"/>
<use href="#B" x="304.5" y="250.3"/>
<use href="#B" x="274" y="243"/>
<use href="#B" x="311.1" y="243"/>
<use href="#B" x="309" y="243.5"/>
<use href="#B" x="296.4" y="244.2"/>
<use href="#B" x="273.4" y="241.6"/>
<use href="#B" x="305.3" y="246.3"/>
<use href="#B" x="290.6" y="249.8"/>
<use href="#B" x="278.7" y="232.1"/>
<use href="#B" x="301.2" y="241.8"/>
<use href="#B" x="318.5" y="249.2"/>
<use href="#B" x="302.8" y="243"/>
<use href="#B" x="317.6" y="242.3"/>
<use href="#B" x="325.4" y="245.2"/>
<use href="#B" x="324.5" y="240.2"/>
<use href="#B" x="311.9" y="245.5"/>
<use href="#B" x="323.8" y="239.5"/>
<use href="#B" x="309.7" y="240.4"/>
<use href="#B" x="288.9" y="244.6"/>
<use href="#B" x="318.8" y="247.7"/>
<use href="#B" x="302.8" y="236.9"/>
<use href="#B" x="301.8" y="239.7"/>
<use href="#B" x="281.9" y="239.8"/>
<use href="#B" x="271.8" y="237.1"/>
<use href="#B" x="297.3" y="245.2"/>
<use href="#B" x="301.5" y="239.7"/>
<use href="#B" x="322.2" y="234.5"/>
<use href="#B" x="296.1" y="242.2"/>
<use href="#B" x="325.1" y="243.1"/>
<use href="#B" x="322.7" y="240.1"/>
<use href="#B" x="275.9" y="246.1"/>
<use href="#B" x="314.6" y="232.6"/>
<use href="#B" x="275.2" y="246"/>
<use href="#B" x="282.9" y="250.6"/>
<use href="#B" x="301.9" y="238.2"/>
<use href="#B" x="308.4" y="235.6"/>
<use href="#B" x="276.5" y="255.9"/>
<use href="#B" x="312.5" y="247.9"/>
<use href="#B" x="283" y="244.6"/>
<use href="#B" x="310.4" y="243.4"/>
<use href="#B" x="314.9" y="234.7"/>
<use href="#B" x="281.9" y="241.3"/>
<use href="#B" x="296.5" y="246.2"/>
<use href="#B" x="293.5" y="234.6"/>
<use href="#B" x="294.3" y="238.2"/>
<use href="#B" x="293.4" y="234.8"/>
<use href="#B" x="274.8" y="248.5"/>
<use href="#B" x="287.6" y="242.9"/>
<use href="#B" x="316.8" y="242.3"/>
<use href="#B" x="274.4" y="243.5"/>
<use href="#B" x="289.8" y="247.1"/>
<use href="#B" x="293.3" y="230.3"/>
<use href="#B" x="318.1" y="241.7"/>
<use href="#B" x="281.2" y="242"/>
<use href="#B" x="293.6" y="236.3"/>
<use href="#B" x="310.7" y="246.8"/>
<use href="#B" x="309.8" y="236.7"/>
<use href="#B" x="285.6" y="234"/>
<use href="#B" x="296.4" y="244.1"/>
<use href="#B" x="287.2" y="236.8"/>
<use href="#B" x="288" y="236.9"/>
<use href="#B" x="282.3" y="250.5"/>
<use href="#B" x="273.3" y="234.2"/>
<use href="#B" x="317" y="244.6"/>
<use href="#B" x="288.3" y="240.7"/>
<use href="#B" x="308" y="233.8"/>
<use href="#B" x="278.7" y="231.5"/>
<use href="#B" x="311" y="249.7"/>
<use href="#B" x="315.1" y="239.5"/>
<use href="#B" x="315.5" y="234.4"/>
<use href="#B" x="290.8" y="249.7"/>
<use href="#B" x="316.7" y="238.3"/>
<use href="#B" x="314.9" y="235.1"/>
<use href="#B" x="309.1" y="235.2"/>
<use href="#B" x="295.9" y="239.3"/>
<use href="#B" x="294.9" y="242.2"/>
<use href="#B" x="275.6" y="251.4"/>
<use href="#B" x="323.6" y="243.1"/>
<use href="#B" x="319.2" y="250.4"/>
<use href="#B" x="293.5" y="232.5"/>
<use href="#B" x="279.5" y="231.2"/>
<use href="#B" x="274.9" y="244.9"/>
<use href="#B" x="303.4" y="246.8"/>
<use href="#B" x="321.8" y="231.5"/>
<use href="#B" x="314.9" y="238.4"/>
<use href="#B" x="272.1" y="233.5"/>
<use href="#B" x="276.2" y="249.6"/>
<use href="#B" x="283.4" y="247.7"/>
<use href="#B" x="317.3" y="243.2"/>
<use href="#B" x="276.1" y="251.3"/>
<use href="#B" x="275.7" y="246.8"/>
<use href="#B" x="310" y="241.6"/>
<use href="#B" x="307.7" y="236.2"/>
<use href="#B" x="272.3" y="238.5"/>
<use href="#B" x="295.9" y="247.1"/>
<use href="#B" x="293.7" y="234.2"/>
<use href="#B" x="295" y="244.3"/>
<use href="#B" x="319" y="246.7"/>
<use href="#B" x="286.9" y="237.9"/>
<use href="#B" x="325" y="242"/>
<use href="#B" x="310.5" y="243"/>
<use href="#B" x="273.8" y="244.7"/>
<use href="#B" x="286.6" y="239.3"/>
<use href="#B" x="287.8" y="243.7"/>
<use href="#B" x="304" y="246.9"/>
<use href="#B" x="315.7" y="232.2"/>
<use href="#B" x="289.1" y="245.2"/>
<use href="#B" x="274.1" y="242.7"/>
<use href="#B" x="287.5" y="244.4"/>
<use href="#B" x="297.6" y="250.5"/>
<use href="#B" x="317.4" y="241.9"/>
<use href="#B" x="323.3" y="242.5"/>
<use href="#B" x="308.5" y="235.9"/>
<use href="#B" x="293" y="235.3"/>
<use href="#B" x="302.6" y="247.9"/>
<use href="#B" x="300.6" y="239.6"/>
<use href="#B" x="315.3" y="238.6"/>
<use href="#B" x="273.1" y="237.4"/>
<use href="#B" x="308" y="233.8"/>
<use href="#B" x="304.8" y="246.4"/>
<use href="#B" x="283.6" y="253.2"/>
<use href="#B" x="289.2" y="246.8"/>
<use href="#B" x="285.9" y="236.7"/>
<use href="#B" x="296.4" y="245.9"/>
<use href="#B" x="315" y="238.1"/>
<use href="#B" x="309.1" y="241.7"/>
<use href="#B" x="294.1" y="235.8"/>
<use href="#B" x="290.7" y="249.7"/>
<use href="#B" x="325.1" y="242.7"/>
<use href="#B" x="311.3" y="242.4"/>
<use href="#B" x="279.5" y="239.3"/>
<use href="#B" x="286.6" y="236.1"/>
<use href="#B" x="280.3" y="241.1"/>
<use href="#B" x="287" y="236.7"/>
<use href="#B" x="297.1" y="247.8"/>
<use href="#B" x="295.1" y="243.6"/>
<use href="#B" x="294.3" y="240.9"/>
<use href="#B" x="300" y="234.3"/>
<use href="#B" x="322.9" y="237.9"/>
<use href="#B" x="322.8" y="242.3"/>
<use href="#B" x="317.4" y="243.6"/>
<use href="#B" x="317.7" y="241.6"/>
<use href="#B" x="315.4" y="238.7"/>
<use href="#B" x="280.6" y="238.3"/>
<use href="#B" x="283.4" y="245.5"/>
<use href="#B" x="326.6" y="250.6"/>
<use href="#B" x="302.6" y="242.9"/>
<use href="#B" x="279.4" y="234.9"/>
<use href="#B" x="273.2" y="236.7"/>
<use href="#B" x="286.7" y="239.8"/>
<use href="#B" x="308.1" y="234.1"/>
<use href="#B" x="273" y="238.8"/>
<use href="#B" x="289.6" y="249.4"/>
<use href="#B" x="289.7" y="245.3"/>
<use href="#B" x="272.4" y="234.9"/>
<use href="#B" x="321.6" y="236.7"/>
<use href="#B" x="317" y="243.3"/>
<use href="#B" x="290.1" y="250.3"/>
<use href="#B" x="288.6" y="242.8"/>
<use href="#B" x="283.4" y="253.8"/>
<use href="#B" x="295" y="240"/>
<use href="#B" x="280" y="243.8"/>
<use href="#B" x="294.8" y="245.8"/>
<use href="#B" x="316.8" y="239.6"/>
<use href="#B" x="318.5" y="250.1"/>
<use href="#B" x="290.4" y="245.1"/>
<use href="#B" x="318.3" y="248.1"/>
<use href="#B" x="287.5" y="240.5"/>
<use href="#B" x="289.1" y="243.8"/>
<use href="#B" x="304.4" y="246.7"/>
<use href="#B" x="304.7" y="247.5"/>
<use href="#B" x="303.8" y="248.9"/>
<use href="#B" x="321.9" y="236.9"/>
<use href="#B" x="295.4" y="246.1"/>
<use href="#B" x="278.9" y="233"/>
<use href="#B" x="280.9" y="245.7"/>
<use href="#B" x="308.1" y="233.8"/>
<use href="#B" x="324" y="242.9"/>
<use href="#B" x="322.7" y="233"/>
<use href="#B" x="302.7" y="243.9"/>
<use href="#B" x="325.7" y="252.3"/>
<use href="#B" x="307.7" y="234.6"/>
<use href="#B" x="324.4" y="239.6"/>
<use href="#B" x="303.9" y="244.7"/>
<use href="#B" x="287.5" y="240.1"/>
<use href="#R" x="266.9" y="251"/>
<use href="#R" x="65.8" y="252.6"/>
<use href="#R" x="156" y="252"/>
<use href="#R" x="262.9" y="236.8"/>
<use href="#R" x="150.7" y="251.7"/>
<use href="#R" x="147.6" y="240.4"/>
<use href="#R" x="221" y="245.5"/>
<use href="#R" x="284.4" y="249.7"/>
<use href="#R" x="142.6" y="241.1"/>
<use href="#R" x="230.3" y="235.3"/>
<use href="#R" x="193.2" y="244.3"/>
<use href="#R" x="82.2" y="240"/>
<use href="#R" x="237.7" y="239.4"/>
<use href="#R" x="241.3" y="243.4"/>
<use href="#R" x="229.9" y="247.3"/>
<use href="#R" x="100.8" y="238.5"/>
<use href="#R" x="258.7" y="236.9"/>
<use href="#R" x="64.1" y="242.5"/>
<use href="#R" x="264.5" y="253.2"/>
<use href="#R" x="315.3" y="240.2"/>
<use href="#R" x="182.1" y="237.4"/>
<use href="#R" x="93.2" y="249.1"/>
<use href="#R" x="170.3" y="246.9"/>
<use href="#R" x="50.8" y="241.8"/>
<use href="#R" x="169.6" y="245.9"/>
<use href="#R" x="116.4" y="248"/>
<use href="#R" x="208.4" y="245"/>
<use href="#R" x="243.6" y="235.2"/>
<use href="#R" x="187.6" y="251.4"/>
<use href="#R" x="257.9" y="240.3"/>
<use href="#R" x="155" y="245.4"/>
<use href="#R" x="300.2" y="282.7"/>
<use href="#R" x="87.5" y="246.8"/>
<use href="#R" x="275.1" y="240"/>
<use href="#R" x="46.1" y="244.1"/>
<use href="#R" x="58" y="262.7"/>
<use href="#R" x="309.4" y="232.3"/>
<use href="#R" x="301.7" y="243.6"/>
<use href="#R" x="248.4" y="251.2"/>
<use href="#R" x="165.3" y="243.8"/>
<use href="#R" x="187.9" y="264.8"/>
<use href="#R" x="147" y="246"/>
<use href="#R" x="190.7" y="245.1"/>
<use href="#R" x="257.8" y="241.6"/>
<use href="#R" x="122.7" y="235.8"/>
<use href="#R" x="45.8" y="241.9"/>
<use href="#R" x="124.7" y="246.8"/>
<use href="#R" x="272.4" y="235.3"/>
<use href="#R" x="97.7" y="233.9"/>
<use href="#R" x="77.8" y="241.1"/>
<use href="#R" x="90" y="244.4"/>
<use href="#R" x="63.5" y="263.1"/>
<use href="#R" x="64.9" y="239.8"/>
<use href="#R" x="216.7" y="250.7"/>
<use href="#R" x="74.5" y="253.1"/>
<use href="#R" x="274.3" y="244.5"/>
<use href="#R" x="236.8" y="239.7"/>
<use href="#R" x="262.6" y="238.4"/>
<use href="#R" x="290.9" y="236.4"/>
<use href="#R" x="101.9" y="240.4"/>
<use href="#R" x="116.7" y="242"/>
<use href="#R" x="85.6" y="243"/>
<use href="#R" x="303.6" y="240"/>
<use href="#R" x="299.3" y="238.8"/>
<use href="#R" x="252.4" y="240.4"/>
<use href="#R" x="229.2" y="244.1"/>
<use href="#R" x="136.3" y="244.9"/>
<use href="#R" x="260.4" y="241.8"/>
<use href="#R" x="304.3" y="243.1"/>
<use href="#R" x="101.1" y="241.7"/>
<use href="#Y" x="260.8" y="243.4"/>
<use href="#Y" x="141.7" y="246.3"/>
<use href="#Y" x="240.2" y="241.6"/>
<use href="#G" x="151.5" y="249.1"/>
<use href="#Y" x="202.1" y="243.2"/>
<use href="#Y" x="314.4" y="247.5"/>
<use href="#Y" x="292" y="245.6"/>
<use href="#Y" x="69.4" y="243.6"/>
<use href="#Y" x="87.9" y="248.7"/>
<use href="#Y" x="180.5" y="244.5"/>
<use href="#Y" x="261.1" y="246.2"/>
<use href="#Y" x="124.4" y="246.2"/>
<use href="#Y" x="146.4" y="241.9"/>
<use href="#G" x="92.9" y="242.3"/>
<use href="#Y" x="142" y="242.4"/>
<use href="#Y" x="202.3" y="246.8"/>
<use href="#Y" x="181" y="247.4"/>
<use href="#Y" x="240.7" y="248.2"/>
<use href="#Y" x="64.4" y="252.8"/>
<use href="#G" x="324.4" y="247.8"/>
<use href="#G" x="93.6" y="246.8"/>
<use href="#G" x="151.3" y="242.6"/>
<use href="#Y" x="87.9" y="250.4"/>
<use href="#G" x="268.3" y="244.1"/>
<use href="#Y" x="314.9" y="247.3"/>
<use href="#G" x="268.4" y="251"/>
<use href="#Y" x="124.3" y="244.5"/>
<use href="#G" x="207.8" y="246.1"/>
<use href="#Y" x="292.4" y="251.3"/>
<use href="#Y" x="68.6" y="239.1"/>
<use href="#Y" x="146.2" y="246"/>
<use href="#G" x="206.9" y="244.8"/>
<use href="#G" x="323.7" y="249.4"/>
<use href="#Y" x="65" y="247"/>
<use href="#R" x="216.6" y="242.3"/>
<use href="#R" x="165" y="243"/>
<use href="#R" x="163.6" y="239.2"/>
<use href="#R" x="169.7" y="240.7"/>
<use href="#R" x="202.3" y="252.3"/>
<use href="#R" x="41.3" y="244.4"/>
<use href="#R" x="220.1" y="249.7"/>
<use href="#R" x="316.9" y="239.1"/>
<use href="#R" x="219.5" y="236.3"/>
<use href="#R" x="290" y="240.3"/>
<use href="#R" x="297.3" y="246.2"/>
<use href="#R" x="41.4" y="233"/>
<use href="#R" x="217.9" y="244.5"/>
<use href="#R" x="307.7" y="242"/>
<use href="#R" x="76.1" y="232.6"/>
<use href="#R" x="212.4" y="240.4"/>
<use href="#R" x="69.1" y="241.9"/>
<use href="#R" x="315.6" y="244.3"/>
<use href="#R" x="293.9" y="248"/>
<use href="#R" x="159.9" y="252.5"/>
<use href="#R" x="88.4" y="241.3"/>
<use href="#R" x="87.4" y="253.3"/>
<use href="#R" x="307.6" y="241.9"/>
<use href="#R" x="238.8" y="256.5"/>
<use href="#R" x="62.7" y="250.4"/>
<use href="#R" x="283.7" y="275.6"/>
<use href="#R" x="260.9" y="240.3"/>
<use href="#R" x="161.3" y="237.9"/>
<use href="#R" x="160.2" y="244.5"/>
<use href="#R" x="125.3" y="232.8"/>
<use href="#R" x="190.5" y="237.9"/>
<use href="#R" x="97" y="239.2"/>
<use href="#R" x="89" y="238.5"/>
<use href="#R" x="320.5" y="239"/>
<use href="#R" x="175.2" y="243.5"/>
<use href="#R" x="300.5" y="240.4"/>
<use href="#R" x="147.2" y="238.4"/>
<use href="#R" x="295.1" y="253.3"/>
<use href="#R" x="174.3" y="234.3"/>
<use href="#R" x="269.8" y="239.6"/>
<use href="#R" x="146.7" y="248.3"/>
<use href="#R" x="161" y="246.2"/>
<use href="#R" x="300.4" y="243.8"/>
<use href="#R" x="254" y="239.9"/>
<use href="#R" x="97" y="243.5"/>
<use href="#R" x="79.3" y="246.1"/>
<use href="#R" x="209.3" y="263.3"/>
<use href="#R" x="264.2" y="232.1"/>
<use href="#R" x="254.9" y="236.5"/>
<use href="#R" x="78.9" y="251.5"/>
<use href="#R" x="70" y="273.8"/>
<use href="#R" x="228.4" y="247.9"/>
<use href="#R" x="235.3" y="237.1"/>
<use href="#R" x="276.1" y="237.3"/>
<use href="#R" x="109.3" y="246.6"/>
<use href="#R" x="129.7" y="240.1"/>
<use href="#R" x="83.7" y="239.4"/>
<use href="#R" x="205.7" y="263.9"/>
<use href="#R" x="250.7" y="245.1"/>
<use href="#R" x="144.9" y="237.8"/>
<use href="#R" x="200.4" y="246.3"/>
<use href="#R" x="311.6" y="251.1"/>
<use href="#R" x="208.7" y="243.7"/>
<use href="#R" x="59.4" y="240.6"/>
<use href="#R" x="252" y="238.8"/>
<use href="#R" x="44.6" y="266.7"/>
<use href="#R" x="53.1" y="257.5"/>
<use href="#R" x="108.3" y="239.7"/>
<use href="#R" x="306.9" y="236.2"/>
<use href="#R" x="59.6" y="262.5"/>
<use href="#R" x="63.7" y="263.1"/>
<use href="#R" x="65.6" y="272.1"/>
<use href="#R" x="76.3" y="272.3"/>
<use href="#R" x="53.8" y="284.1"/>
<use href="#R" x="64.2" y="291"/>
<use href="#R" x="96.5" y="268.6"/>
<use href="#R" x="98.8" y="265.4"/>
<use href="#R" x="122.1" y="263.3"/>
<use href="#R" x="117.5" y="269.1"/>
<use href="#R" x="149.2" y="269.4"/>
<use href="#R" x="157.3" y="273.5"/>
<use href="#R" x="160.8" y="266.5"/>
<use href="#R" x="163.7" y="271.7"/>
<use href="#R" x="166.5" y="268.3"/>
<use href="#R" x="186.2" y="273.1"/>
<use href="#R" x="236.9" y="278"/>
<use href="#R" x="245.4" y="278.9"/>
<use href="#T" x="43.5" y="261.9"/>
<use href="#T" x="46.3" y="260.8"/>
<use href="#T" x="76.3" y="287.3"/>
<use href="#T" x="80.2" y="288.7"/>
<use href="#T" x="83.6" y="286.7"/>
<use href="#T" x="83.8" y="292.2"/>
<use href="#T" x="79.8" y="295.6"/>
<use href="#T" x="72.9" y="300.2"/>
<use href="#T" x="76.3" y="304.4"/>
<use href="#T" x="72.9" y="309.8"/>
<use href="#T" x="129.6" y="279.2"/>
<use href="#T" x="130.5" y="281.3"/>
<use href="#T" x="133.7" y="282.7"/>
<use href="#T" x="137.1" y="279"/>
<use href="#T" x="137.7" y="282.1"/>
<use href="#T" x="140.6" y="285"/>
<use href="#T" x="186.9" y="289.2"/>
<use href="#T" x="190.5" y="294.3"/>
<use href="#T" x="193.8" y="292.3"/>
<use href="#T" x="194.6" y="294.3"/>
<use href="#T" x="198.2" y="290.3"/>
<use href="#T" x="186.9" y="297.7"/>
<use href="#T" x="191.1" y="300"/>
<use href="#T" x="198.2" y="302.3"/>
<use href="#T" x="247.7" y="291.5"/>
<use href="#T" x="251.5" y="291.2"/>
<use href="#T" x="251.5" y="296.5"/>
<use href="#T" x="244.3" y="299.7"/>
<use href="#T" x="244.3" y="304.6"/>
<use href="#T" x="247.7" y="306.9"/>
<use href="#T" x="255.1" y="305.1"/>
<use href="#T" x="255.1" y="309.2"/>
<use href="#T" x="301.3" y="300.8"/>
<use href="#T" x="305.2" y="304.8"/>
<use href="#T" x="312.5" y="307.7"/>
<use href="#T" x="308.8" y="310.9"/>
<use href="#T" x="301.3" y="317.5"/>
<use href="#T" x="305.4" y="321"/>
<use href="#T" x="309.1" y="317.5"/>
<use href="#T" x="312.9" y="325.2"/>
<rect x="401.5" y="35" width="113.5" height="107.3" fill="#fff" stroke="#c8c8c8" stroke-width="1"/>
<path d="M401.5 61.8H515M486.6 35V142.3" stroke="#d6d6d6" stroke-width="1.5" fill="none"/>
<text x="456.2" y="32.1" font-size="7.9" text-anchor="middle" font-weight="normal" fill="#111" textLength="25.5" lengthAdjust="spacingAndGlyphs">KMS11</text>
<text x="401.5" y="70.8" font-size="5.6" text-anchor="middle" font-weight="bold" fill="#222">-30</text>
<text x="429.9" y="70.8" font-size="5.6" text-anchor="middle" font-weight="bold" fill="#222">-20</text>
<text x="458.2" y="70.8" font-size="5.6" text-anchor="middle" font-weight="bold" fill="#222">-10</text>
<text x="515" y="70.8" font-size="5.6" text-anchor="middle" font-weight="bold" fill="#222">10</text>
<text x="479.6" y="37" font-size="5.6" text-anchor="middle" font-weight="bold" fill="#222">10</text>
<text x="479.6" y="90.7" font-size="5.6" text-anchor="middle" font-weight="bold" fill="#222">-10</text>
<text x="479.6" y="117.5" font-size="5.6" text-anchor="middle" font-weight="bold" fill="#222">-20</text>
<text x="479.6" y="144.3" font-size="5.6" text-anchor="middle" font-weight="bold" fill="#222">-30</text>
<text x="403.8" y="44" font-size="5.6" font-weight="bold" fill="#222">R<tspan dy="-2" font-size="3.6">2</tspan><tspan dy="2"> = 0.86</tspan></text>
<text x="454.7" y="159.2" font-size="7.4" text-anchor="middle" font-weight="normal" fill="#222" textLength="78" lengthAdjust="spacingAndGlyphs">B-score (1st duplicate)</text>
<text transform="translate(388.4,93.2) rotate(-90)" font-size="7.4" text-anchor="middle" font-weight="normal" fill="#222" textLength="77.9" lengthAdjust="spacingAndGlyphs">B-score (2nd duplicate)</text>
<use href="#r" x="459.2" y="76"/>
<use href="#r" x="459.8" y="82.3"/>
<use href="#r" x="456.3" y="82.3"/>
<use href="#r" x="462.1" y="77.7"/>
<use href="#r" x="464.4" y="74.8"/>
<use href="#r" x="466.2" y="73.1"/>
<use href="#r" x="462.7" y="83.5"/>
<use href="#r" x="464.4" y="84"/>
<use href="#r" x="465.6" y="82.3"/>
<use href="#r" x="467.3" y="78.8"/>
<use href="#r" x="469.6" y="77.7"/>
<use href="#r" x="460.4" y="87.5"/>
<use href="#r" x="461" y="92.1"/>
<use href="#r" x="457.5" y="92.7"/>
<use href="#r" x="454.6" y="93.3"/>
<use href="#r" x="452.3" y="95.6"/>
<use href="#r" x="447.7" y="94.4"/>
<use href="#r" x="450" y="97.3"/>
<use href="#r" x="454" y="96.2"/>
<use href="#r" x="444.2" y="99"/>
<use href="#r" x="448.8" y="100.2"/>
<use href="#r" x="451.7" y="102.5"/>
<use href="#r" x="448.3" y="102.5"/>
<use href="#r" x="444.8" y="104.8"/>
<use href="#r" x="446.5" y="107.1"/>
<use href="#r" x="441.9" y="104.2"/>
<use href="#r" x="439.6" y="106"/>
<use href="#r" x="431" y="105.4"/>
<use href="#r" x="433.8" y="104.8"/>
<use href="#r" x="437.3" y="107.7"/>
<use href="#r" x="438.5" y="109.4"/>
<use href="#r" x="432.7" y="110.6"/>
<use href="#r" x="429.8" y="110.6"/>
<use href="#r" x="425.2" y="110"/>
<use href="#r" x="421.2" y="109.4"/>
<use href="#r" x="428.1" y="112.3"/>
<use href="#r" x="426.9" y="114.6"/>
<use href="#r" x="435.6" y="112.3"/>
<use href="#r" x="437.9" y="113.5"/>
<use href="#r" x="440.2" y="112.3"/>
<use href="#r" x="441.9" y="111.2"/>
<use href="#r" x="433.8" y="115.8"/>
<use href="#r" x="436.7" y="116.9"/>
<use href="#r" x="438.5" y="119.2"/>
<use href="#r" x="435.6" y="118.7"/>
<use href="#r" x="432.7" y="120.4"/>
<use href="#r" x="436.7" y="121"/>
<use href="#r" x="439" y="122.7"/>
<use href="#r" x="431" y="123.3"/>
<use href="#r" x="454" y="122.1"/>
<use href="#r" x="420.4" y="109.4"/>
<use href="#r" x="424.4" y="111.3"/>
<use href="#r" x="425.8" y="114"/>
<use href="#r" x="428.5" y="112.9"/>
<use href="#r" x="431.2" y="110.8"/>
<use href="#r" x="429.8" y="116.2"/>
<use href="#r" x="427.1" y="120.2"/>
<use href="#r" x="431.2" y="122.9"/>
<use href="#r" x="433.9" y="121.5"/>
<use href="#r" x="436.5" y="118.8"/>
<use href="#r" x="439.2" y="117.5"/>
<use href="#r" x="441.9" y="114.8"/>
<use href="#r" x="444.6" y="112.1"/>
<use href="#r" x="425.8" y="130.2"/>
<use href="#r" x="435.2" y="119.4"/>
<use href="#r" x="454" y="122.1"/>
<use href="#r" x="458.1" y="125.6"/>
<use href="#r" x="462.1" y="126.4"/>
<use href="#r" x="461.3" y="132.3"/>
<use href="#r" x="449.5" y="137.2"/>
<use href="#r" x="450.5" y="138.2"/>
<use href="#r" x="416" y="124"/>
<use href="#r" x="478.1" y="72"/>
<use href="#r" x="473" y="76.8"/>
<use href="#r" x="474.4" y="71.9"/>
<use href="#r" x="476.9" y="65.3"/>
<use href="#r" x="474.4" y="69.9"/>
<use href="#r" x="478.6" y="71.9"/>
<use href="#r" x="486.4" y="64.7"/>
<use href="#r" x="479.7" y="61.4"/>
<use href="#r" x="484.2" y="65.8"/>
<use href="#r" x="485.1" y="64.7"/>
<use href="#r" x="488.6" y="69.4"/>
<use href="#r" x="482.1" y="69.2"/>
<use href="#r" x="477.1" y="67.4"/>
<use href="#r" x="480.5" y="69.2"/>
<use href="#r" x="483.2" y="67.1"/>
<use href="#r" x="478.7" y="67.6"/>
<use href="#r" x="481.9" y="64"/>
<use href="#r" x="486.8" y="59.1"/>
<use href="#r" x="479.3" y="68.8"/>
<use href="#r" x="475.2" y="72.6"/>
<use href="#r" x="482.2" y="63.7"/>
<use href="#r" x="479.2" y="69.8"/>
<use href="#r" x="485.3" y="65"/>
<use href="#r" x="475.3" y="67.9"/>
<use href="#r" x="486.5" y="64.2"/>
<use href="#r" x="486.9" y="62.4"/>
<use href="#r" x="478.8" y="68.3"/>
<use href="#r" x="479.6" y="65.7"/>
<use href="#r" x="482" y="63.3"/>
<use href="#r" x="487.1" y="67.9"/>
<use href="#r" x="487.6" y="64.5"/>
<use href="#r" x="481.1" y="69.9"/>
<use href="#r" x="486.7" y="60.6"/>
<use href="#r" x="474.6" y="68.6"/>
<use href="#r" x="477.9" y="70.9"/>
<use href="#r" x="479" y="62.5"/>
<use href="#r" x="475.9" y="67.3"/>
<use href="#r" x="481.9" y="66.3"/>
<use href="#r" x="481.8" y="58.4"/>
<use href="#r" x="485.1" y="60.4"/>
<use href="#r" x="489.1" y="60.5"/>
<use href="#r" x="476" y="64.3"/>
<use href="#r" x="473.8" y="73.1"/>
<use href="#r" x="495.2" y="55.1"/>
<use href="#r" x="484.6" y="68.3"/>
<use href="#r" x="480.6" y="63.5"/>
<use href="#r" x="479.8" y="65.2"/>
<use href="#r" x="483.3" y="63.7"/>
<use href="#r" x="480.4" y="66.2"/>
<use href="#r" x="484.1" y="60.7"/>
<use href="#r" x="488.3" y="64.1"/>
<use href="#r" x="486.2" y="63.8"/>
<use href="#r" x="485.1" y="65"/>
<use href="#r" x="477.7" y="72.7"/>
<use href="#r" x="493.1" y="55.5"/>
<use href="#r" x="490.7" y="50.6"/>
<use href="#r" x="486.7" y="61.5"/>
<use href="#r" x="487.1" y="65.1"/>
<use href="#r" x="481.8" y="63.8"/>
<use href="#r" x="486.9" y="67.3"/>
<use href="#r" x="481.4" y="65.6"/>
<use href="#r" x="487.3" y="58"/>
<use href="#r" x="482.7" y="62.3"/>
<use href="#r" x="480.4" y="69.9"/>
<use href="#r" x="477" y="74.2"/>
<use href="#r" x="477.8" y="75.6"/>
<use href="#r" x="480.5" y="65.6"/>
<use href="#r" x="484.2" y="60.6"/>
<use href="#r" x="487.3" y="64.9"/>
<use href="#r" x="484.7" y="63"/>
<use href="#r" x="483.7" y="63.8"/>
<use href="#r" x="485.8" y="67.3"/>
<use href="#r" x="471.8" y="72.3"/>
<use href="#r" x="477.7" y="70.8"/>
<use href="#r" x="478.3" y="69.6"/>
<use href="#r" x="485.2" y="60.7"/>
<use href="#r" x="486.7" y="61.9"/>
<use href="#r" x="493.2" y="61"/>
<use href="#r" x="477" y="69.8"/>
<use href="#r" x="483.8" y="67.4"/>
<use href="#r" x="471.6" y="75.2"/>
<use href="#r" x="473.3" y="67"/>
<use href="#r" x="487.7" y="61"/>
<use href="#r" x="482.5" y="69.1"/>
<use href="#r" x="485.7" y="63"/>
<use href="#r" x="479.5" y="64.6"/>
<use href="#r" x="487.4" y="63.4"/>
<use href="#r" x="486.7" y="60.7"/>
<use href="#r" x="486.6" y="65.3"/>
<use href="#r" x="491.3" y="63.4"/>
<use href="#r" x="484.9" y="61.6"/>
<use href="#r" x="489.3" y="57.4"/>
<use href="#r" x="478.1" y="68.3"/>
<use href="#r" x="480.3" y="68.8"/>
<use href="#r" x="486.5" y="62.9"/>
<use href="#r" x="482.4" y="69.4"/>
<use href="#r" x="488" y="64.7"/>
<use href="#r" x="483.2" y="67.2"/>
<use href="#r" x="473.1" y="70.1"/>
<use href="#r" x="480.6" y="71.9"/>
<use href="#r" x="480.4" y="64.3"/>
<use href="#r" x="479.4" y="67.7"/>
<use href="#r" x="483.3" y="67.7"/>
<use href="#r" x="485.4" y="61.1"/>
<use href="#r" x="491.5" y="64.9"/>
<use href="#r" x="473.8" y="68.2"/>
<use href="#r" x="482.5" y="68.3"/>
<use href="#r" x="485.6" y="64"/>
<use href="#r" x="489.3" y="61.2"/>
<use href="#r" x="486.3" y="64.7"/>
<use href="#r" x="489.3" y="60.6"/>
<use href="#r" x="483.3" y="63.2"/>
<use href="#r" x="491.4" y="54.9"/>
<use href="#r" x="484.2" y="66.3"/>
<use href="#r" x="487.4" y="60.7"/>
<use href="#r" x="487.9" y="65"/>
<use href="#r" x="480.1" y="60.2"/>
<use href="#r" x="481.8" y="65.5"/>
<use href="#r" x="477.9" y="72.4"/>
<use href="#r" x="485.7" y="58.7"/>
<use href="#r" x="474.4" y="75.3"/>
<use href="#r" x="478.9" y="59.6"/>
<use href="#r" x="488.3" y="57.8"/>
<use href="#r" x="487" y="63.3"/>
<use href="#r" x="479.7" y="64.2"/>
<use href="#r" x="484.3" y="65.5"/>
<use href="#r" x="484.5" y="58.9"/>
<use href="#r" x="474.1" y="70.2"/>
<use href="#r" x="479.8" y="69"/>
<use href="#r" x="479.1" y="66.8"/>
<use href="#r" x="487.6" y="58.2"/>
<use href="#r" x="480.8" y="66.5"/>
<use href="#r" x="473.9" y="71"/>
<use href="#r" x="484.5" y="63.4"/>
<use href="#r" x="481.7" y="63.4"/>
<use href="#r" x="466.6" y="76.1"/>
<use href="#r" x="483.7" y="64.3"/>
<use href="#r" x="486.8" y="64.2"/>
<use href="#r" x="481.6" y="68.3"/>
<use href="#r" x="483.7" y="64.8"/>
<use href="#r" x="481.7" y="69.8"/>
<use href="#r" x="487.1" y="63.8"/>
<use href="#r" x="475" y="68.3"/>
<use href="#r" x="483.5" y="60.1"/>
<use href="#r" x="484.8" y="65.2"/>
<use href="#r" x="476.5" y="71.3"/>
<use href="#r" x="486.2" y="60.8"/>
<use href="#r" x="476.5" y="69.4"/>
<use href="#r" x="482.1" y="67.3"/>
<use href="#r" x="486.7" y="62.1"/>
<use href="#r" x="476.1" y="72.3"/>
<use href="#r" x="489.1" y="57.5"/>
<use href="#r" x="474.5" y="71.6"/>
<use href="#r" x="481.1" y="65.7"/>
<use href="#r" x="477.6" y="65.9"/>
<use href="#r" x="477.7" y="64.3"/>
<use href="#r" x="476.5" y="70.8"/>
<use href="#r" x="476.7" y="63.5"/>
<use href="#r" x="484" y="63.8"/>
<use href="#r" x="480" y="63.5"/>
<use href="#r" x="489.5" y="57.6"/>
<use href="#r" x="487.1" y="59.3"/>
<use href="#r" x="482.9" y="66.6"/>
<use href="#r" x="477.9" y="67.6"/>
<use href="#r" x="481.7" y="66.5"/>
<use href="#r" x="479.6" y="68.9"/>
<use href="#r" x="488.5" y="59.4"/>
<use href="#r" x="483.2" y="69.3"/>
<use href="#r" x="478.3" y="76"/>
<use href="#r" x="489.9" y="60.4"/>
<use href="#r" x="488.2" y="55"/>
<use href="#r" x="489.7" y="59.2"/>
<use href="#r" x="485.6" y="64.9"/>
<use href="#r" x="492.1" y="59.8"/>
<use href="#r" x="489.3" y="61.8"/>
<use href="#r" x="483.2" y="66.4"/>
<use href="#r" x="489.3" y="62.2"/>
<use href="#r" x="481.8" y="64.7"/>
<use href="#r" x="476.8" y="68.8"/>
<use href="#r" x="479.3" y="71.3"/>
<use href="#r" x="481.8" y="69.6"/>
<use href="#r" x="477.9" y="67.6"/>
<use href="#r" x="484.1" y="64.9"/>
<use href="#r" x="484.3" y="66.4"/>
<use href="#r" x="487.9" y="60.4"/>
<use href="#r" x="483.7" y="60.6"/>
<use href="#r" x="481.6" y="68.5"/>
<use href="#r" x="486.7" y="65.3"/>
<use href="#r" x="486.4" y="63.4"/>
<use href="#r" x="482.9" y="66.8"/>
<use href="#r" x="482.6" y="68.4"/>
<use href="#r" x="485.4" y="68.6"/>
<use href="#r" x="480.2" y="61"/>
<use href="#r" x="476.2" y="66.8"/>
<use href="#r" x="483.8" y="64.6"/>
<use href="#r" x="482.7" y="66.2"/>
<use href="#r" x="480.8" y="66.3"/>
<use href="#r" x="487.6" y="66"/>
<use href="#r" x="484.4" y="62.2"/>
<use href="#r" x="476.1" y="67.5"/>
<use href="#r" x="475.6" y="68.6"/>
<use href="#r" x="473.8" y="65.8"/>
<use href="#r" x="476.9" y="66.8"/>
<use href="#r" x="483" y="62.4"/>
<use href="#r" x="488.8" y="56.2"/>
<use href="#r" x="484.1" y="62.5"/>
<use href="#r" x="487.3" y="63.8"/>
<use href="#r" x="476.5" y="73.3"/>
<use href="#r" x="481.1" y="65.4"/>
<use href="#r" x="481.4" y="63"/>
<use href="#r" x="489" y="55.3"/>
<use href="#r" x="485.9" y="65.7"/>
<use href="#r" x="492.6" y="59.6"/>
<use href="#r" x="479.5" y="68.2"/>
<use href="#r" x="487.3" y="61.3"/>
<use href="#r" x="484.8" y="60.3"/>
<use href="#r" x="472.4" y="69.9"/>
<use href="#r" x="478.6" y="68.8"/>
<use href="#r" x="482.7" y="67.2"/>
<use href="#r" x="491.2" y="59.6"/>
<use href="#r" x="476.9" y="68.7"/>
<use href="#r" x="485.8" y="60.3"/>
<use href="#r" x="471.8" y="74.4"/>
<use href="#r" x="474.3" y="71.9"/>
<use href="#r" x="487.2" y="64"/>
<use href="#r" x="488.8" y="55.8"/>
<use href="#r" x="482" y="64.5"/>
<use href="#r" x="482.7" y="62.9"/>
<use href="#r" x="473.6" y="72.3"/>
<use href="#r" x="490.1" y="57.1"/>
<use href="#r" x="479.7" y="67.3"/>
<use href="#r" x="482.4" y="62.9"/>
<use href="#r" x="473.9" y="70.3"/>
<use href="#r" x="480.1" y="68.6"/>
<use href="#r" x="486.3" y="64.4"/>
<use href="#r" x="477.8" y="66.1"/>
<use href="#r" x="480.9" y="67.1"/>
<use href="#r" x="475.4" y="69.6"/>
<use href="#r" x="486" y="67"/>
<use href="#r" x="481.7" y="67.7"/>
<use href="#r" x="486.3" y="61.8"/>
<use href="#r" x="485" y="61.1"/>
<use href="#r" x="478.4" y="67"/>
<use href="#r" x="491.8" y="62.4"/>
<use href="#r" x="489.7" y="59.5"/>
<use href="#r" x="479.1" y="74.8"/>
<use href="#r" x="478.7" y="69"/>
<use href="#r" x="486.5" y="61.3"/>
<use href="#r" x="489.8" y="56.5"/>
<use href="#r" x="480.6" y="69.4"/>
<use href="#r" x="479.3" y="71.2"/>
<use href="#r" x="480.4" y="70.7"/>
<use href="#r" x="483.7" y="64"/>
<use href="#r" x="486.5" y="66.4"/>
<use href="#r" x="483.4" y="62.4"/>
<use href="#r" x="483" y="67.9"/>
<use href="#r" x="486.8" y="61.3"/>
<use href="#r" x="479.3" y="63.6"/>
<use href="#r" x="486.5" y="63.2"/>
<use href="#r" x="489.6" y="63"/>
<use href="#r" x="491.6" y="58.9"/>
<use href="#r" x="487.3" y="58.4"/>
<use href="#r" x="483" y="66.6"/>
<use href="#r" x="486.2" y="60.9"/>
<use href="#r" x="485.9" y="60.1"/>
<use href="#r" x="470" y="68"/>
<use href="#r" x="481.5" y="60.5"/>
<use href="#r" x="484.2" y="63.9"/>
<use href="#r" x="480.5" y="74.4"/>
<use href="#r" x="475.2" y="67.4"/>
<use href="#r" x="488.2" y="64.6"/>
<use href="#r" x="485" y="62.3"/>
<use href="#r" x="483.2" y="65.3"/>
<use href="#r" x="480.7" y="67"/>
<use href="#r" x="488.2" y="59.8"/>
<use href="#r" x="482.7" y="61.9"/>
<use href="#r" x="477.9" y="68.4"/>
<use href="#r" x="482.7" y="67.8"/>
<use href="#r" x="472.8" y="66.6"/>
<use href="#r" x="483.6" y="67.4"/>
<use href="#r" x="493.7" y="61.6"/>
<use href="#r" x="485.2" y="61"/>
<use href="#r" x="477.4" y="73.7"/>
<use href="#r" x="483.7" y="63.4"/>
<use href="#r" x="480.3" y="73.5"/>
<use href="#r" x="478.9" y="71.3"/>
<use href="#r" x="469" y="75.8"/>
<use href="#r" x="485.1" y="63.9"/>
<use href="#r" x="480.6" y="68.3"/>
<use href="#r" x="479.7" y="67.8"/>
<use href="#r" x="487.9" y="63.1"/>
<use href="#r" x="483.4" y="66.9"/>
<use href="#r" x="484.3" y="70.7"/>
<use href="#r" x="487.7" y="65.8"/>
<use href="#r" x="489.9" y="59.6"/>
<use href="#r" x="481.8" y="62.8"/>
<use href="#r" x="479.3" y="74.9"/>
<use href="#r" x="489.4" y="60.9"/>
<use href="#r" x="484.8" y="62.5"/>
<use href="#r" x="488.4" y="57.4"/>
<use href="#r" x="479.1" y="75.3"/>
<use href="#r" x="470.4" y="70.6"/>
<use href="#r" x="466.3" y="78.3"/>
<use href="#r" x="488.7" y="60.9"/>
<use href="#r" x="479.6" y="69.4"/>
<use href="#r" x="482.9" y="62.7"/>
<use href="#r" x="478.8" y="63.9"/>
<use href="#r" x="484.9" y="60.7"/>
<use href="#r" x="481.9" y="61.9"/>
<use href="#r" x="481.7" y="66.5"/>
<use href="#r" x="483.8" y="60.2"/>
<use href="#r" x="492.8" y="58"/>
<use href="#r" x="479.1" y="70.4"/>
<use href="#r" x="483.2" y="66.3"/>
<use href="#r" x="483.4" y="61.9"/>
<use href="#r" x="482" y="68.2"/>
<use href="#r" x="480.4" y="66.8"/>
<use href="#r" x="491.4" y="60.2"/>
<use href="#r" x="487.2" y="65.6"/>
<use href="#r" x="488.8" y="55.8"/>
<use href="#r" x="482.5" y="67.4"/>
<use href="#r" x="476" y="71.7"/>
<use href="#r" x="484.8" y="64.8"/>
<use href="#r" x="484.9" y="65.6"/>
<use href="#r" x="482.7" y="65"/>
<use href="#r" x="479.2" y="68.9"/>
<use href="#r" x="486.7" y="61.3"/>
<use href="#r" x="490.6" y="64.9"/>
<use href="#r" x="477" y="70.9"/>
<use href="#r" x="481.7" y="68.9"/>
<use href="#r" x="480" y="62.7"/>
<use href="#r" x="476.9" y="66.9"/>
<use href="#r" x="484.5" y="66.6"/>
<use href="#r" x="481.4" y="63"/>
<use href="#r" x="482" y="73.2"/>
<use href="#r" x="477.2" y="65.9"/>
<use href="#r" x="486.7" y="64.4"/>
<use href="#r" x="481.6" y="69.1"/>
<use href="#r" x="477.8" y="67.2"/>
<use href="#r" x="485.4" y="67.3"/>
<use href="#r" x="489.1" y="61.7"/>
<use href="#r" x="485.1" y="67.5"/>
<use href="#r" x="485.5" y="62.7"/>
<use href="#r" x="482.6" y="66.6"/>
<use href="#r" x="475.8" y="68.1"/>
<use href="#r" x="478.4" y="67.5"/>
<use href="#r" x="482.9" y="71.5"/>
<use href="#r" x="484" y="60.3"/>
<use href="#r" x="482.8" y="67.6"/>
<use href="#r" x="485.4" y="66.8"/>
<use href="#r" x="475" y="74.5"/>
<use href="#r" x="483.3" y="59.4"/>
<use href="#r" x="481.2" y="67.9"/>
<use href="#r" x="480" y="70"/>
<use href="#r" x="498.9" y="54.9"/>
<use href="#r" x="478.5" y="69.4"/>
<use href="#r" x="483.1" y="63.2"/>
<use href="#r" x="485" y="61.5"/>
<use href="#r" x="487.2" y="64"/>
<use href="#r" x="489.9" y="54.2"/>
<use href="#r" x="484.6" y="60.5"/>
<use href="#r" x="476.6" y="69.3"/>
<use href="#r" x="483.8" y="66.4"/>
<use href="#r" x="479" y="68.8"/>
<use href="#r" x="488.5" y="65.9"/>
<use href="#r" x="480" y="63.7"/>
<use href="#r" x="483.9" y="63.3"/>
<use href="#r" x="479.2" y="67.3"/>
<use href="#r" x="479.9" y="74.6"/>
<use href="#r" x="484.7" y="61.9"/>
<use href="#r" x="485.3" y="64.1"/>
<use href="#r" x="487.2" y="56.9"/>
<use href="#r" x="481.8" y="66.1"/>
<use href="#r" x="484.5" y="70.3"/>
<use href="#r" x="481.9" y="66.6"/>
<use href="#r" x="477.2" y="67.4"/>
<use href="#r" x="478.9" y="70.9"/>
<use href="#r" x="490.3" y="56.4"/>
<use href="#r" x="488.9" y="54.1"/>
<use href="#r" x="482.3" y="65.7"/>
<use href="#r" x="483.3" y="68.7"/>
<use href="#r" x="475.9" y="70.4"/>
<use href="#r" x="478.8" y="73.1"/>
<use href="#r" x="480.9" y="70.3"/>
<use href="#r" x="486.9" y="58.6"/>
<use href="#r" x="479.1" y="67"/>
<use href="#r" x="481" y="67.6"/>
<use href="#r" x="475.7" y="67"/>
<use href="#r" x="478.7" y="71.8"/>
<use href="#r" x="485.9" y="62.7"/>
<use href="#r" x="482.2" y="60.5"/>
<use href="#r" x="479.5" y="63.3"/>
<use href="#r" x="487.2" y="64"/>
<use href="#r" x="492.1" y="55.8"/>
<use href="#r" x="478.2" y="65.3"/>
<use href="#r" x="475.7" y="71.3"/>
<use href="#r" x="479.3" y="66.7"/>
<use href="#r" x="481.1" y="67.9"/>
<use href="#r" x="476.4" y="68.2"/>
<use href="#r" x="489.8" y="64.1"/>
<use href="#r" x="482.3" y="64.6"/>
<use href="#r" x="485.7" y="59.5"/>
<use href="#r" x="486" y="64.1"/>
<use href="#r" x="488.2" y="61.5"/>
<use href="#r" x="475.1" y="75.2"/>
<use href="#r" x="491.8" y="56.4"/>
<use href="#r" x="479.7" y="67.8"/>
<use href="#r" x="479.1" y="67.7"/>
<use href="#r" x="473" y="75.5"/>
<use href="#r" x="486.4" y="65"/>
<use href="#r" x="483.1" y="59.4"/>
<use href="#r" x="482.4" y="67.5"/>
<use href="#r" x="473.8" y="76.4"/>
<use href="#r" x="470.2" y="74"/>
<use href="#r" x="487.2" y="62.4"/>
<use href="#r" x="482" y="65.4"/>
<use href="#r" x="484.3" y="68.8"/>
<use href="#r" x="489.3" y="59.8"/>
<use href="#r" x="480.4" y="71.1"/>
<use href="#r" x="476.5" y="68.5"/>
<use href="#r" x="479.4" y="68"/>
<use href="#r" x="491.1" y="57.4"/>
<use href="#r" x="475.9" y="69.6"/>
<use href="#r" x="478.7" y="70.7"/>
<use href="#r" x="485.2" y="59"/>
<use href="#r" x="480" y="66.4"/>
<use href="#r" x="486.6" y="65.8"/>
<use href="#r" x="478.3" y="76.8"/>
<use href="#r" x="478.3" y="63.8"/>
<use href="#r" x="482.7" y="69.4"/>
<use href="#r" x="482.1" y="66"/>
<use href="#r" x="474.1" y="72.8"/>
<use href="#r" x="488.5" y="60.9"/>
<use href="#r" x="490.8" y="56.8"/>
<use href="#r" x="486.6" y="60.9"/>
<use href="#r" x="489.3" y="64.1"/>
<use href="#r" x="481.4" y="64.5"/>
<use href="#r" x="480.7" y="65.4"/>
<use href="#r" x="478.3" y="70.2"/>
<use href="#r" x="478.5" y="65.3"/>
<line x1="409" y1="137.7" x2="507.2" y2="41.5" stroke="#222" stroke-width="0.8"/>
<rect x="401.5" y="237" width="113.5" height="107.3" fill="#fff" stroke="#c8c8c8" stroke-width="1"/>
<path d="M401.5 263.8H515M486.6 237V344.3" stroke="#d6d6d6" stroke-width="1.5" fill="none"/>
<text x="458.2" y="234.1" font-size="7.9" text-anchor="middle" font-weight="normal" fill="#111" textLength="17.6" lengthAdjust="spacingAndGlyphs">INA6</text>
<text x="401.5" y="272.8" font-size="5.6" text-anchor="middle" font-weight="bold" fill="#222">-30</text>
<text x="429.9" y="272.8" font-size="5.6" text-anchor="middle" font-weight="bold" fill="#222">-20</text>
<text x="458.2" y="272.8" font-size="5.6" text-anchor="middle" font-weight="bold" fill="#222">-10</text>
<text x="515" y="272.8" font-size="5.6" text-anchor="middle" font-weight="bold" fill="#222">10</text>
<text x="479.6" y="239" font-size="5.6" text-anchor="middle" font-weight="bold" fill="#222">10</text>
<text x="479.6" y="292.6" font-size="5.6" text-anchor="middle" font-weight="bold" fill="#222">-10</text>
<text x="479.6" y="319.5" font-size="5.6" text-anchor="middle" font-weight="bold" fill="#222">-20</text>
<text x="479.6" y="346.3" font-size="5.6" text-anchor="middle" font-weight="bold" fill="#222">-30</text>
<text x="403.8" y="246" font-size="5.6" font-weight="bold" fill="#222">R<tspan dy="-2" font-size="3.6">2</tspan><tspan dy="2"> = 0.59</tspan></text>
<text x="457.1" y="361.2" font-size="7.4" text-anchor="middle" font-weight="normal" fill="#222" textLength="78" lengthAdjust="spacingAndGlyphs">B-score (1st duplicate)</text>
<text transform="translate(388.4,293.5) rotate(-90)" font-size="7.4" text-anchor="middle" font-weight="normal" fill="#222" textLength="77.9" lengthAdjust="spacingAndGlyphs">B-score (2nd duplicate)</text>
<use href="#r" x="445.8" y="259.4"/>
<use href="#r" x="453.3" y="264.2"/>
<use href="#r" x="453.8" y="266"/>
<use href="#r" x="456.7" y="266.5"/>
<use href="#r" x="459.6" y="261.3"/>
<use href="#r" x="463.1" y="259.6"/>
<use href="#r" x="463.1" y="266"/>
<use href="#r" x="469.4" y="261.3"/>
<use href="#r" x="468.8" y="267.1"/>
<use href="#r" x="466" y="272.3"/>
<use href="#r" x="468.3" y="275.8"/>
<use href="#r" x="470.6" y="278.7"/>
<use href="#r" x="471.2" y="282.7"/>
<use href="#r" x="463.7" y="282.7"/>
<use href="#r" x="466" y="283.3"/>
<use href="#r" x="445.8" y="285.9"/>
<use href="#r" x="464.2" y="286.7"/>
<use href="#r" x="466" y="287.9"/>
<use href="#r" x="468.3" y="289"/>
<use href="#r" x="463.1" y="290.2"/>
<use href="#r" x="459" y="290.2"/>
<use href="#r" x="456.7" y="290.8"/>
<use href="#r" x="460.2" y="291.9"/>
<use href="#r" x="457.3" y="294.2"/>
<use href="#r" x="456.2" y="296"/>
<use href="#r" x="459.6" y="296"/>
<use href="#r" x="463.1" y="293.1"/>
<use href="#r" x="466.5" y="293.1"/>
<use href="#r" x="470" y="293.1"/>
<use href="#r" x="445.2" y="296"/>
<use href="#r" x="444" y="298.3"/>
<use href="#r" x="446.3" y="298.8"/>
<use href="#r" x="451.5" y="300"/>
<use href="#r" x="454.4" y="300.6"/>
<use href="#r" x="457.3" y="301.2"/>
<use href="#r" x="455" y="302.3"/>
<use href="#r" x="452.7" y="303.5"/>
<use href="#r" x="460.8" y="302.3"/>
<use href="#r" x="463.1" y="301.2"/>
<use href="#r" x="437.1" y="304.4"/>
<use href="#r" x="454.4" y="308.1"/>
<use href="#r" x="456.2" y="310.4"/>
<use href="#r" x="459.6" y="308.1"/>
<use href="#r" x="449.2" y="312.1"/>
<use href="#r" x="452.6" y="308.2"/>
<use href="#r" x="455.4" y="310.5"/>
<use href="#r" x="484.2" y="332.4"/>
<use href="#r" x="491.2" y="292.5"/>
<use href="#r" x="472.5" y="288"/>
<use href="#r" x="475" y="285"/>
<use href="#r" x="468" y="280"/>
<use href="#r" x="473" y="279"/>
<use href="#r" x="482.5" y="270.2"/>
<use href="#r" x="480.2" y="267.1"/>
<use href="#r" x="489.5" y="265.6"/>
<use href="#r" x="490.6" y="259.4"/>
<use href="#r" x="490.3" y="268.5"/>
<use href="#r" x="479.8" y="266"/>
<use href="#r" x="483.2" y="269.7"/>
<use href="#r" x="480.3" y="268"/>
<use href="#r" x="486.7" y="262.8"/>
<use href="#r" x="485.6" y="265.4"/>
<use href="#r" x="484.2" y="266.7"/>
<use href="#r" x="474.8" y="271.1"/>
<use href="#r" x="486.1" y="267.3"/>
<use href="#r" x="483.1" y="269"/>
<use href="#r" x="489.5" y="263.3"/>
<use href="#r" x="487" y="260.5"/>
<use href="#r" x="480.5" y="264.4"/>
<use href="#r" x="479.9" y="269.7"/>
<use href="#r" x="492.7" y="260.2"/>
<use href="#r" x="478.7" y="267.7"/>
<use href="#r" x="485.4" y="264.7"/>
<use href="#r" x="474.6" y="270.5"/>
<use href="#r" x="475.6" y="273.2"/>
<use href="#r" x="481.5" y="266.9"/>
<use href="#r" x="483.9" y="267.2"/>
<use href="#r" x="485.9" y="263.8"/>
<use href="#r" x="482.9" y="268.1"/>
<use href="#r" x="479.5" y="276.4"/>
<use href="#r" x="484.8" y="267.3"/>
<use href="#r" x="483.6" y="273.6"/>
<use href="#r" x="478" y="268.6"/>
<use href="#r" x="485.4" y="260.4"/>
<use href="#r" x="496.3" y="256.8"/>
<use href="#r" x="479.4" y="272.8"/>
<use href="#r" x="486.4" y="261.2"/>
<use href="#r" x="484.2" y="271.7"/>
<use href="#r" x="484.2" y="263"/>
<use href="#r" x="486.8" y="267.4"/>
<use href="#r" x="483.4" y="275.4"/>
<use href="#r" x="484.7" y="265.7"/>
<use href="#r" x="482.6" y="271"/>
<use href="#r" x="484.1" y="264.2"/>
<use href="#r" x="483.4" y="266.2"/>
<use href="#r" x="479" y="270"/>
<use href="#r" x="477.4" y="268.4"/>
<use href="#r" x="491.7" y="260.6"/>
<use href="#r" x="483.6" y="264.2"/>
<use href="#r" x="488.1" y="263.5"/>
<use href="#r" x="479.8" y="270.6"/>
<use href="#r" x="482.8" y="268"/>
<use href="#r" x="484.4" y="268.6"/>
<use href="#r" x="492.6" y="260"/>
<use href="#r" x="483" y="268.4"/>
<use href="#r" x="486.9" y="259.3"/>
<use href="#r" x="484.5" y="264.8"/>
<use href="#r" x="486.3" y="267.4"/>
<use href="#r" x="486.7" y="267.6"/>
<use href="#r" x="487.6" y="265.2"/>
<use href="#r" x="481.4" y="265.9"/>
<use href="#r" x="489.8" y="262.4"/>
<use href="#r" x="488.3" y="263.3"/>
<use href="#r" x="487.4" y="269.8"/>
<use href="#r" x="491" y="263.5"/>
<use href="#r" x="482.2" y="270.8"/>
<use href="#r" x="486.1" y="268.3"/>
<use href="#r" x="487.9" y="266.3"/>
<use href="#r" x="484.4" y="266"/>
<use href="#r" x="488.2" y="263.4"/>
<use href="#r" x="490.1" y="258.9"/>
<use href="#r" x="484.6" y="263.9"/>
<use href="#r" x="490.7" y="260.3"/>
<use href="#r" x="484.3" y="263.4"/>
<use href="#r" x="478.2" y="270.9"/>
<use href="#r" x="481.1" y="277.8"/>
<use href="#r" x="477.4" y="267.4"/>
<use href="#r" x="482.5" y="273.4"/>
<use href="#r" x="484.2" y="269.8"/>
<use href="#r" x="490.6" y="263.9"/>
<use href="#r" x="484.6" y="269"/>
<use href="#r" x="488.9" y="262.2"/>
<use href="#r" x="485.8" y="261.5"/>
<use href="#r" x="481.7" y="270.2"/>
<use href="#r" x="483.2" y="275"/>
<use href="#r" x="484.7" y="266.9"/>
<use href="#r" x="481.5" y="262.1"/>
<use href="#r" x="478.5" y="264.9"/>
<use href="#r" x="490.4" y="261.5"/>
<use href="#r" x="485.5" y="269.6"/>
<use href="#r" x="487.3" y="264"/>
<use href="#r" x="485.9" y="264"/>
<use href="#r" x="493.5" y="257.8"/>
<use href="#r" x="480.6" y="264.8"/>
<use href="#r" x="476.3" y="272.9"/>
<use href="#r" x="480.8" y="267.7"/>
<use href="#r" x="487.3" y="266"/>
<use href="#r" x="490.9" y="261.4"/>
<use href="#r" x="486.2" y="265.8"/>
<use href="#r" x="488.3" y="258.7"/>
<use href="#r" x="486.1" y="264.9"/>
<use href="#r" x="470.2" y="270.1"/>
<use href="#r" x="482.6" y="275.2"/>
<use href="#r" x="491.7" y="257.4"/>
<use href="#r" x="481.8" y="266"/>
<use href="#r" x="478.3" y="269.5"/>
<use href="#r" x="482.5" y="269"/>
<use href="#r" x="478.3" y="270.5"/>
<use href="#r" x="477.3" y="269.9"/>
<use href="#r" x="485.8" y="265.4"/>
<use href="#r" x="489.4" y="266.5"/>
<use href="#r" x="479.9" y="270.6"/>
<use href="#r" x="487.1" y="262.8"/>
<use href="#r" x="489.5" y="263.5"/>
<use href="#r" x="477" y="268.5"/>
<use href="#r" x="483.6" y="267.5"/>
<use href="#r" x="482.1" y="267.2"/>
<use href="#r" x="475.3" y="275.1"/>
<use href="#r" x="479.2" y="268.5"/>
<use href="#r" x="496.3" y="257.2"/>
<use href="#r" x="490.8" y="260.4"/>
<use href="#r" x="478.6" y="267.8"/>
<use href="#r" x="484.6" y="265"/>
<use href="#r" x="483.2" y="268.8"/>
<use href="#r" x="477.1" y="270.3"/>
<use href="#r" x="487.6" y="264.8"/>
<use href="#r" x="487" y="258.9"/>
<use href="#r" x="487" y="266.8"/>
<use href="#r" x="490.4" y="261.4"/>
<use href="#r" x="481" y="268.9"/>
<use href="#r" x="492.8" y="262.5"/>
<use href="#r" x="486.3" y="270.4"/>
<use href="#r" x="486.2" y="265.2"/>
<use href="#r" x="484.9" y="267.5"/>
<use href="#r" x="484.5" y="262.6"/>
<use href="#r" x="480" y="264.1"/>
<use href="#r" x="488.9" y="267.7"/>
<use href="#r" x="479.7" y="277.5"/>
<use href="#r" x="481.7" y="266.9"/>
<use href="#r" x="485.8" y="265.6"/>
<use href="#r" x="490.4" y="262.2"/>
<use href="#r" x="489.4" y="259.9"/>
<use href="#r" x="483" y="268.6"/>
<use href="#r" x="486.9" y="266.4"/>
<use href="#r" x="482.4" y="269.2"/>
<use href="#r" x="472.7" y="275.8"/>
<use href="#r" x="487.4" y="268"/>
<use href="#r" x="479.7" y="266.7"/>
<use href="#r" x="478.6" y="263.5"/>
<use href="#r" x="483.6" y="267.2"/>
<use href="#r" x="485.9" y="260.3"/>
<use href="#r" x="484.9" y="265.8"/>
<use href="#r" x="483.1" y="267.6"/>
<use href="#r" x="481.5" y="264.6"/>
<use href="#r" x="475.2" y="277"/>
<use href="#r" x="492.8" y="261.4"/>
<use href="#r" x="475.8" y="267.3"/>
<use href="#r" x="480.8" y="269.4"/>
<use href="#r" x="479.1" y="269.2"/>
<use href="#r" x="478.3" y="272.1"/>
<use href="#r" x="494.9" y="256.9"/>
<use href="#r" x="480.2" y="268.9"/>
<use href="#r" x="496.3" y="257.1"/>
<use href="#r" x="478.1" y="272.2"/>
<use href="#r" x="489.5" y="263"/>
<use href="#r" x="481" y="266.4"/>
<use href="#r" x="487.3" y="262.6"/>
<use href="#r" x="486.7" y="269.3"/>
<use href="#r" x="489.2" y="259"/>
<use href="#r" x="484.4" y="263.7"/>
<use href="#r" x="482.1" y="269.2"/>
<use href="#r" x="490.1" y="264.1"/>
<use href="#r" x="485.7" y="266.7"/>
<use href="#r" x="489.5" y="256.7"/>
<use href="#r" x="480.8" y="264.2"/>
<use href="#r" x="487.2" y="267.3"/>
<use href="#r" x="474.1" y="277.9"/>
<use href="#r" x="481.3" y="270.5"/>
<use href="#r" x="483.1" y="269.3"/>
<use href="#r" x="482.9" y="267.3"/>
<use href="#r" x="483.2" y="271.1"/>
<use href="#r" x="499.3" y="253.8"/>
<use href="#r" x="484.5" y="264.7"/>
<use href="#r" x="484.7" y="261.3"/>
<use href="#r" x="485.2" y="264.4"/>
<use href="#r" x="480.9" y="269.4"/>
<use href="#r" x="484.2" y="264.5"/>
<use href="#r" x="480.4" y="266.2"/>
<use href="#r" x="475.1" y="273.4"/>
<use href="#r" x="478.8" y="268"/>
<use href="#r" x="483.5" y="269"/>
<use href="#r" x="478.3" y="263.1"/>
<use href="#r" x="480.8" y="269.2"/>
<use href="#r" x="484" y="264.8"/>
<use href="#r" x="480.6" y="269.6"/>
<use href="#r" x="485.9" y="263.1"/>
<use href="#r" x="483.4" y="268.5"/>
<use href="#r" x="479.9" y="269.1"/>
<use href="#r" x="482.7" y="268.6"/>
<use href="#r" x="479.7" y="271.7"/>
<use href="#r" x="484.3" y="267.3"/>
<use href="#r" x="484.5" y="268.2"/>
<use href="#r" x="479.7" y="272.5"/>
<use href="#r" x="487.5" y="259"/>
<use href="#r" x="486.6" y="267.5"/>
<use href="#r" x="487.6" y="263.1"/>
<use href="#r" x="486.8" y="263"/>
<use href="#r" x="479.1" y="275.3"/>
<use href="#r" x="482.3" y="267.7"/>
<use href="#r" x="479.1" y="271.5"/>
<use href="#r" x="480.7" y="264.5"/>
<use href="#r" x="482.7" y="270.2"/>
<use href="#r" x="479.3" y="267.4"/>
<use href="#r" x="485.7" y="269.2"/>
<use href="#r" x="480.1" y="268.6"/>
<use href="#r" x="482.6" y="267.9"/>
<use href="#r" x="484.9" y="261.1"/>
<use href="#r" x="487.6" y="266"/>
<use href="#r" x="488.8" y="267.8"/>
<use href="#r" x="482" y="269.8"/>
<use href="#r" x="488.7" y="257.6"/>
<use href="#r" x="481.2" y="274.6"/>
<use href="#r" x="479" y="265.1"/>
<use href="#r" x="487" y="261.7"/>
<use href="#r" x="484.8" y="267.2"/>
<use href="#r" x="477.2" y="274.7"/>
<use href="#r" x="487.9" y="267.1"/>
<use href="#r" x="482.3" y="267.7"/>
<use href="#r" x="483.5" y="265.8"/>
<use href="#r" x="484.4" y="265.1"/>
<use href="#r" x="485" y="267.1"/>
<use href="#r" x="481.4" y="270.1"/>
<use href="#r" x="485" y="268.5"/>
<use href="#r" x="486" y="265.7"/>
<use href="#r" x="485.3" y="261.9"/>
<use href="#r" x="485.9" y="261.8"/>
<use href="#r" x="486" y="270.2"/>
<use href="#r" x="485" y="263"/>
<use href="#r" x="494.5" y="260.6"/>
<use href="#r" x="484.4" y="267"/>
<use href="#r" x="488.6" y="263.5"/>
<use href="#r" x="482.7" y="264.6"/>
<use href="#r" x="481.4" y="267.2"/>
<use href="#r" x="484.2" y="266.4"/>
<use href="#r" x="476.9" y="275"/>
<use href="#r" x="478.7" y="271.2"/>
<use href="#r" x="487.8" y="262.3"/>
<use href="#r" x="490" y="261.5"/>
<use href="#r" x="490.9" y="259.8"/>
<use href="#r" x="489.6" y="262.1"/>
<use href="#r" x="490.7" y="261.8"/>
<use href="#r" x="483.4" y="260.6"/>
<use href="#r" x="477.4" y="265.5"/>
<use href="#r" x="476.9" y="279.1"/>
<use href="#r" x="486.1" y="266.2"/>
<use href="#r" x="490" y="262.5"/>
<use href="#r" x="485.9" y="255"/>
<use href="#r" x="482.9" y="271.5"/>
<use href="#r" x="483.5" y="263.8"/>
<use href="#r" x="487" y="265.5"/>
<use href="#r" x="488.9" y="266.3"/>
<use href="#r" x="494.8" y="262.7"/>
<use href="#r" x="479.4" y="267.8"/>
<use href="#r" x="481.6" y="271.5"/>
<use href="#r" x="486.1" y="260.7"/>
<use href="#r" x="476.7" y="268.5"/>
<use href="#r" x="481.2" y="264.7"/>
<use href="#r" x="485.8" y="264.6"/>
<use href="#r" x="485.8" y="262.3"/>
<use href="#r" x="481" y="271.8"/>
<use href="#r" x="485.7" y="263"/>
<use href="#r" x="487" y="262.5"/>
<use href="#r" x="495.9" y="251.4"/>
<use href="#r" x="469.3" y="280.3"/>
<use href="#r" x="488.2" y="256.8"/>
<use href="#r" x="481.9" y="267.4"/>
<use href="#r" x="479.8" y="266.1"/>
<use href="#r" x="485" y="259.1"/>
<use href="#r" x="486.7" y="260.7"/>
<use href="#r" x="482.6" y="267.8"/>
<use href="#r" x="485.6" y="267.3"/>
<use href="#r" x="488.5" y="259.6"/>
<use href="#r" x="479.8" y="266.9"/>
<use href="#r" x="481.6" y="274.7"/>
<use href="#r" x="479.3" y="273.6"/>
<use href="#r" x="485.2" y="271.1"/>
<use href="#r" x="483.7" y="272.8"/>
<use href="#r" x="477.3" y="269.6"/>
<use href="#r" x="479.3" y="269.9"/>
<use href="#r" x="482" y="266.1"/>
<use href="#r" x="482.1" y="274.9"/>
<use href="#r" x="484" y="260"/>
<use href="#r" x="480.8" y="274.5"/>
<use href="#r" x="481.6" y="270.8"/>
<use href="#r" x="481" y="268.8"/>
<use href="#r" x="482.7" y="260.4"/>
<use href="#r" x="485.4" y="266.1"/>
<use href="#r" x="484" y="265.5"/>
<use href="#r" x="481.6" y="264.4"/>
<use href="#r" x="481.4" y="275.7"/>
<use href="#r" x="486" y="268.5"/>
<use href="#r" x="481.4" y="264.6"/>
<use href="#r" x="482.1" y="263.5"/>
<use href="#r" x="482.7" y="269.3"/>
<use href="#r" x="474.4" y="280.7"/>
<use href="#r" x="484.3" y="270.4"/>
<use href="#r" x="474.5" y="271.6"/>
<use href="#r" x="482.8" y="262.3"/>
<use href="#r" x="487.7" y="262.8"/>
<use href="#r" x="478.6" y="276.4"/>
<use href="#r" x="486.6" y="265.3"/>
<use href="#r" x="481.3" y="268"/>
<use href="#r" x="479.1" y="263.8"/>
<use href="#r" x="493.4" y="263.8"/>
<use href="#r" x="481.6" y="268.7"/>
<use href="#r" x="485.2" y="264.3"/>
<use href="#r" x="477.4" y="267.7"/>
<use href="#r" x="486.2" y="262.8"/>
<use href="#r" x="488.9" y="256.8"/>
<use href="#r" x="489.9" y="264.6"/>
<use href="#r" x="479.7" y="274.8"/>
<use href="#r" x="477.9" y="274.6"/>
<use href="#r" x="490.9" y="266.7"/>
<use href="#r" x="477" y="271.7"/>
<use href="#r" x="487.8" y="262.3"/>
<use href="#r" x="485.6" y="264.1"/>
<use href="#r" x="491.7" y="259.2"/>
<use href="#r" x="484.1" y="264.8"/>
<use href="#r" x="490.3" y="264.4"/>
<use href="#r" x="484.9" y="257.7"/>
<use href="#r" x="488.8" y="268.6"/>
<use href="#r" x="484.6" y="265.7"/>
<use href="#r" x="474.4" y="272.3"/>
<use href="#r" x="492.6" y="262"/>
<use href="#r" x="485.8" y="270.6"/>
<use href="#r" x="479.4" y="265.8"/>
<use href="#r" x="470.2" y="272.8"/>
<use href="#r" x="488" y="263.5"/>
<use href="#r" x="486.8" y="266.8"/>
<use href="#r" x="481" y="267.6"/>
<use href="#r" x="484.9" y="267.4"/>
<use href="#r" x="492.2" y="257.2"/>
<use href="#r" x="483.6" y="264.4"/>
<use href="#r" x="491.8" y="260.8"/>
<use href="#r" x="485.3" y="262.7"/>
<use href="#r" x="480.8" y="265.4"/>
<use href="#r" x="491.3" y="261.4"/>
<use href="#r" x="488.6" y="266.6"/>
<use href="#r" x="484.6" y="270"/>
<use href="#r" x="488.4" y="263.3"/>
<use href="#r" x="478.6" y="271.3"/>
<use href="#r" x="480.7" y="273.6"/>
<use href="#r" x="487.9" y="265"/>
<use href="#r" x="482.9" y="266.2"/>
<use href="#r" x="490.2" y="263.1"/>
<use href="#r" x="487.2" y="266.4"/>
<use href="#r" x="475.9" y="266"/>
<use href="#r" x="487.7" y="260.2"/>
<use href="#r" x="478.9" y="265.9"/>
<use href="#r" x="485.6" y="271.1"/>
<use href="#r" x="489.1" y="265.7"/>
<use href="#r" x="479.4" y="272.4"/>
<use href="#r" x="478.1" y="276.2"/>
<use href="#r" x="490.8" y="261.9"/>
<use href="#r" x="489.3" y="260.8"/>
<use href="#r" x="492" y="257.7"/>
<use href="#r" x="490.5" y="264.7"/>
<use href="#r" x="474.2" y="273.2"/>
<use href="#r" x="485.3" y="268.4"/>
<use href="#r" x="485.5" y="263.9"/>
<use href="#r" x="488.2" y="266.6"/>
<use href="#r" x="480.8" y="263.5"/>
<use href="#r" x="491.1" y="262.4"/>
<use href="#r" x="484.1" y="270.4"/>
<use href="#r" x="483.9" y="262"/>
<use href="#r" x="479.8" y="265.1"/>
<use href="#r" x="487.2" y="264"/>
<use href="#r" x="485.3" y="259.1"/>
<use href="#r" x="483.6" y="267.1"/>
<use href="#r" x="482.2" y="274.4"/>
<use href="#r" x="486.5" y="263.3"/>
<use href="#r" x="484.9" y="271.6"/>
<use href="#r" x="477.1" y="270.2"/>
<use href="#r" x="476" y="272"/>
<use href="#r" x="488" y="265.7"/>
<use href="#r" x="476.9" y="267"/>
<use href="#r" x="478.7" y="279"/>
<use href="#r" x="478.5" y="274.8"/>
<use href="#r" x="489" y="264.2"/>
<use href="#r" x="496" y="259.7"/>
<use href="#r" x="481.8" y="265.3"/>
<use href="#r" x="486.5" y="260"/>
<use href="#r" x="487.1" y="267"/>
<use href="#r" x="484" y="261.7"/>
<use href="#r" x="479.4" y="272.4"/>
<use href="#r" x="479" y="267.4"/>
<use href="#r" x="491.5" y="266.7"/>
<use href="#r" x="486.6" y="266.4"/>
<use href="#r" x="480.1" y="268.4"/>
<use href="#r" x="485.7" y="262.9"/>
<use href="#r" x="485.5" y="260.9"/>
<use href="#r" x="489.2" y="267.1"/>
<use href="#r" x="491.1" y="260.3"/>
<use href="#r" x="494.5" y="261"/>
<use href="#r" x="485.5" y="269"/>
<use href="#r" x="477.8" y="265.9"/>
<use href="#r" x="480" y="268.6"/>
<use href="#r" x="482.5" y="269"/>
<use href="#r" x="481.3" y="268.4"/>
<use href="#r" x="486.1" y="262.5"/>
<use href="#r" x="484.2" y="266.2"/>
<use href="#r" x="487.4" y="257.2"/>
<use href="#r" x="481.3" y="269"/>
<use href="#r" x="484.8" y="264.7"/>
<use href="#r" x="484.4" y="268.2"/>
<use href="#r" x="484.5" y="267.7"/>
<use href="#r" x="483.5" y="264.6"/>
<use href="#r" x="490.5" y="261.8"/>
<use href="#r" x="481" y="268.1"/>
<use href="#r" x="483.7" y="272.3"/>
<use href="#r" x="483.3" y="266.4"/>
<use href="#r" x="483.5" y="271.8"/>
<use href="#r" x="477.2" y="275.1"/>
<use href="#r" x="481.1" y="261.5"/>
<use href="#r" x="489.1" y="262.6"/>
<use href="#r" x="481.4" y="266"/>
<use href="#r" x="486" y="264.9"/>
<use href="#r" x="484.4" y="272.3"/>
<use href="#r" x="478.2" y="263.9"/>
<use href="#r" x="484.6" y="261.1"/>
<use href="#r" x="483.6" y="267"/>
<use href="#r" x="478.8" y="269"/>
<use href="#r" x="485.8" y="269.7"/>
<use href="#r" x="481.7" y="265.4"/>
<use href="#r" x="487.2" y="262.3"/>
<use href="#r" x="481" y="264"/>
<use href="#r" x="476.6" y="270.5"/>
<use href="#r" x="491.9" y="259.1"/>
<use href="#r" x="479.1" y="271.7"/>
<use href="#r" x="487.9" y="265.6"/>
<use href="#r" x="484.3" y="265"/>
<use href="#r" x="480.1" y="270.2"/>
<line x1="425.8" y1="336.3" x2="501.5" y2="245.8" stroke="#222" stroke-width="0.8"/>
<rect x="47.5" y="461.6" width="43.4" height="125.8" fill="#fff" stroke="#b8b8b8" stroke-width="0.9"/>
<text x="68.1" y="458.2" font-size="8.4" text-anchor="middle" font-weight="normal" fill="#111" textLength="24.6" lengthAdjust="spacingAndGlyphs">KMS11</text>
<text x="44.5" y="463.1" font-size="4.4" text-anchor="end" font-weight="normal" fill="#404040">6,000,000</text>
<text x="44.5" y="484.1" font-size="4.4" text-anchor="end" font-weight="normal" fill="#404040">5,000,000</text>
<text x="44.5" y="505" font-size="4.4" text-anchor="end" font-weight="normal" fill="#404040">4,000,000</text>
<text x="44.5" y="526" font-size="4.4" text-anchor="end" font-weight="normal" fill="#404040">3,000,000</text>
<text x="44.5" y="547" font-size="4.4" text-anchor="end" font-weight="normal" fill="#404040">2,000,000</text>
<text x="44.5" y="567.9" font-size="4.4" text-anchor="end" font-weight="normal" fill="#404040">1,000,000</text>
<text x="44.5" y="588.9" font-size="4.4" text-anchor="end" font-weight="normal" fill="#404040">0</text>
<rect x="51" y="485.1" width="7.2" height="102.3" fill="#e00000" stroke="#8a0000" stroke-width="0.4"/>
<text transform="translate(56.1,591.7) rotate(-90)" font-size="6.2" text-anchor="end" font-weight="normal" fill="#222" textLength="15.8" lengthAdjust="spacingAndGlyphs">buffer</text>
<rect x="65.4" y="493.3" width="7.2" height="94.1" fill="#e00000" stroke="#8a0000" stroke-width="0.4"/>
<text transform="translate(69.8,591.7) rotate(-90)" font-size="6.2" text-anchor="end" font-weight="normal" fill="#222" textLength="59.6" lengthAdjust="spacingAndGlyphs">non-silencing siRNA</text>
<rect x="79.7" y="578" width="7.2" height="9.4" fill="#e00000" stroke="#8a0000" stroke-width="0.4"/>
<text transform="translate(85.6,591.7) rotate(-90)" font-size="6.2" text-anchor="end" font-weight="normal" fill="#222" textLength="51.5" lengthAdjust="spacingAndGlyphs">lethal UBB siRNA</text>
<text transform="translate(20.4,526) rotate(-90)" font-size="7.5" text-anchor="middle" font-weight="normal" fill="#222" textLength="73.3" lengthAdjust="spacingAndGlyphs">Luminescence (RLU)</text>
<rect x="151.2" y="462.4" width="43.1" height="125.8" fill="#fff" stroke="#b8b8b8" stroke-width="0.9"/>
<text x="171.2" y="459" font-size="8.4" text-anchor="middle" font-weight="normal" fill="#111" textLength="17.3" lengthAdjust="spacingAndGlyphs">INA6</text>
<text x="148.2" y="463.9" font-size="4.4" text-anchor="end" font-weight="normal" fill="#404040">6,000,000</text>
<text x="148.2" y="484.9" font-size="4.4" text-anchor="end" font-weight="normal" fill="#404040">5,000,000</text>
<text x="148.2" y="505.8" font-size="4.4" text-anchor="end" font-weight="normal" fill="#404040">4,000,000</text>
<text x="148.2" y="526.8" font-size="4.4" text-anchor="end" font-weight="normal" fill="#404040">3,000,000</text>
<text x="148.2" y="547.8" font-size="4.4" text-anchor="end" font-weight="normal" fill="#404040">2,000,000</text>
<text x="148.2" y="568.7" font-size="4.4" text-anchor="end" font-weight="normal" fill="#404040">1,000,000</text>
<text x="148.2" y="589.7" font-size="4.4" text-anchor="end" font-weight="normal" fill="#404040">0</text>
<rect x="155" y="477.3" width="7.2" height="110.9" fill="#e00000" stroke="#8a0000" stroke-width="0.4"/>
<text transform="translate(160.5,592.5) rotate(-90)" font-size="6.2" text-anchor="end" font-weight="normal" fill="#222" textLength="16.2" lengthAdjust="spacingAndGlyphs">buffer</text>
<rect x="169.3" y="481.1" width="7.2" height="107.1" fill="#e00000" stroke="#8a0000" stroke-width="0.4"/>
<text transform="translate(176,592.5) rotate(-90)" font-size="6.2" text-anchor="end" font-weight="normal" fill="#222" textLength="59.6" lengthAdjust="spacingAndGlyphs">non-silencing siRNA</text>
<rect x="183.6" y="580.4" width="7.2" height="7.8" fill="#e00000" stroke="#8a0000" stroke-width="0.4"/>
<text transform="translate(190.2,592.5) rotate(-90)" font-size="6.2" text-anchor="end" font-weight="normal" fill="#222" textLength="51.1" lengthAdjust="spacingAndGlyphs">lethal UBB siRNA</text>
<text transform="translate(121.4,526.8) rotate(-90)" font-size="7.5" text-anchor="middle" font-weight="normal" fill="#222" textLength="73.3" lengthAdjust="spacingAndGlyphs">Luminescence (RLU)</text>
<clipPath id="cg"><circle cx="425.1" cy="521.6" r="90.4"/></clipPath>
<clipPath id="cb"><circle cx="324.6" cy="528.6" r="105.4"/></clipPath>
<circle cx="425.1" cy="521.6" r="90.4" fill="#c6e8d6" stroke="#90b8a0" stroke-width="0.8"/>
<circle cx="324.6" cy="528.6" r="105.4" fill="#b4b4f8"/>
<circle cx="324.6" cy="528.6" r="105.4" fill="#8ea0e2" clip-path="url(#cg)"/>
<circle cx="425.1" cy="521.6" r="90.4" fill="none" stroke="#a8b4f0" stroke-width="0.8" clip-path="url(#cb)"/>
<circle cx="324.6" cy="528.6" r="105.4" fill="none" stroke="#5a64b8" stroke-width="0.8"/>
<text x="324.4" y="420.3" font-size="7.6" text-anchor="middle" font-weight="bold" fill="#343488" textLength="26.2" lengthAdjust="spacingAndGlyphs">KMS11</text>
<text x="424.6" y="427.8" font-size="7.6" text-anchor="middle" font-weight="bold" fill="#4c9c60" textLength="18.4" lengthAdjust="spacingAndGlyphs">INA6</text>
<g transform="scale(0.1)" font-size="51" font-weight="normal" fill="#343450">
<text x="2390" y="4846">AAK1</text>
<text x="2390" y="4909">AATK</text>
<text x="2390" y="4971">ABL1</text>
<text x="2390" y="5034">ADCK5</text>
<text x="2390" y="5096">AK3</text>
<text x="2390" y="5159">AKAP7</text>
<text x="2390" y="5222">AKAP9</text>
<text x="2390" y="5284">AKT1</text>
<text x="2390" y="5347">AKT2</text>
<text x="2390" y="5409">APEG1</text>
<text x="2390" y="5472">CAMK1G</text>
<text x="2390" y="5535">CDC2L1</text>
<text x="2390" y="5597">CDK2</text>
<text x="2390" y="5660">CDK5</text>
<text x="2390" y="5722">CDK5R2</text>
</g>
<g transform="scale(0.1)" font-size="51" font-weight="normal" fill="#343450">
<text x="2759" y="4597">CLK3</text>
<text x="2759" y="4660">CNKSR1</text>
<text x="2759" y="4722">CSNK1D</text>
<text x="2759" y="4785">DAPK2</text>
<text x="2759" y="4847">DGKB</text>
<text x="2759" y="4910">DGKQ</text>
<text x="2759" y="4973">EPHA7</text>
<text x="2759" y="5035">EPHB2</text>
<text x="2759" y="5098">EPHB6</text>
<text x="2759" y="5160">FASTK</text>
<text x="2759" y="5223">FES</text>
<text x="2759" y="5286">FGFR3</text>
<text x="2759" y="5348">FLT3LG</text>
<text x="2759" y="5411">FLT4</text>
<text x="2759" y="5473">GAK</text>
<text x="2759" y="5536">GRK4</text>
<text x="2759" y="5599">GRK6</text>
<text x="2759" y="5661">GUK1</text>
<text x="2759" y="5724">HIPK3</text>
<text x="2759" y="5786">HUNK</text>
<text x="2759" y="5849">ILK</text>
<text x="2759" y="5912">ITPKA</text>
<text x="2759" y="5974">ITPKB</text>
</g>
<g transform="scale(0.1)" font-size="51" font-weight="normal" fill="#343450">
<text x="3091" y="4597">ITPKC</text>
<text x="3091" y="4660">JAK3</text>
<text x="3091" y="4722">KDR</text>
<text x="3091" y="4785">LOC91807</text>
<text x="3091" y="4847">MAP3K9</text>
<text x="3091" y="4910">MAPK12</text>
<text x="3091" y="4973">MERTK</text>
<text x="3091" y="5035">MVK</text>
<text x="3091" y="5098">NEK9</text>
<text x="3091" y="5160">NRBP</text>
<text x="3091" y="5223">NTRK3</text>
<text x="3091" y="5286">PCTK3</text>
<text x="3091" y="5348">PFKM</text>
<text x="3091" y="5411">PIK3CD</text>
<text x="3091" y="5473">RIOK3</text>
<text x="3091" y="5536">RIPK1</text>
<text x="3091" y="5599">SLK</text>
<text x="3091" y="5661">SMG1</text>
<text x="3091" y="5724">TAOK3</text>
<text x="3091" y="5786">TNK2</text>
<text x="3091" y="5849">TSKS</text>
<text x="3091" y="5912">TYRO3</text>
<text x="3091" y="5974">YES1</text>
</g>
<g transform="scale(0.1)" font-size="51" font-weight="bold" fill="#161a44">
<text x="3490" y="4838">ACVR1B</text>
<text x="3490" y="4903">ANKRD3</text>
<text x="3490" y="4969">ATM</text>
<text x="3490" y="5034">AURKA</text>
<text x="3490" y="5099">AURKB</text>
<text x="3490" y="5164">CKB</text>
<text x="3490" y="5230">DYRK1B</text>
<text x="3490" y="5295">EPHA5</text>
<text x="3490" y="5360">FGFR4</text>
<text x="3490" y="5426">FLT1</text>
<text x="3490" y="5491">FYN</text>
<text x="3490" y="5556">HK1</text>
<text x="3490" y="5622">JAK1</text>
</g>
<g transform="scale(0.1)" font-size="51" font-weight="bold" fill="#161a44">
<text x="3870" y="4838">MAP3K1</text>
<text x="3870" y="4903">MAP3K11</text>
<text x="3870" y="4969">MAPK11</text>
<text x="3870" y="5034">NME3</text>
<text x="3870" y="5099">PKN1</text>
<text x="3870" y="5164">PLK1</text>
<text x="3870" y="5230">PRKAB1</text>
<text x="3870" y="5295">PTK2</text>
<text x="3870" y="5360">ROR2</text>
<text x="3870" y="5426">RYK</text>
<text x="3870" y="5491">TK2</text>
<text x="3870" y="5556">TNK1</text>
<text x="3870" y="5622">VRK3</text>
</g>
<g transform="scale(0.1)" font-size="51" font-weight="normal" fill="#343c38">
<text x="4374" y="4655">AKAP3</text>
<text x="4374" y="4726">AKAP6</text>
<text x="4374" y="4798">ALS2CR2</text>
<text x="4374" y="4870">ALS2CR7</text>
<text x="4374" y="4941">BMPR2</text>
<text x="4374" y="5012">BMX</text>
<text x="4374" y="5084">CAMK1D</text>
<text x="4374" y="5156">CAMKK2</text>
<text x="4374" y="5227">CLK2</text>
<text x="4374" y="5298">CSNK1A1L</text>
<text x="4374" y="5370">DGKA</text>
<text x="4374" y="5442">DYRK4</text>
<text x="4374" y="5513">EPHA1</text>
<text x="4374" y="5584">ERBB3</text>
<text x="4374" y="5656">FGFR2</text>
<text x="4374" y="5728">IBTK</text>
<text x="4374" y="5799">IKBKAP</text>
</g>
<g transform="scale(0.1)" font-size="51" font-weight="normal" fill="#343c38">
<text x="4720" y="4655">KSR2</text>
<text x="4720" y="4726">MAP4K1</text>
<text x="4720" y="4798">MARCKS</text>
<text x="4720" y="4870">MARK1</text>
<text x="4720" y="4941">NJMU-R1</text>
<text x="4720" y="5012">PDGFRA</text>
<text x="4720" y="5084">PI4KII</text>
<text x="4720" y="5156">PIP5K2A</text>
<text x="4720" y="5227">PLK4</text>
<text x="4720" y="5298">PRKAR1A</text>
<text x="4720" y="5370">PTK9L</text>
<text x="4720" y="5442">PXK</text>
<text x="4720" y="5513">RPS6KA6</text>
<text x="4720" y="5584">STK16</text>
<text x="4720" y="5656">STK25</text>
<text x="4720" y="5728">STK29</text>
</g>
</svg></body></html>
